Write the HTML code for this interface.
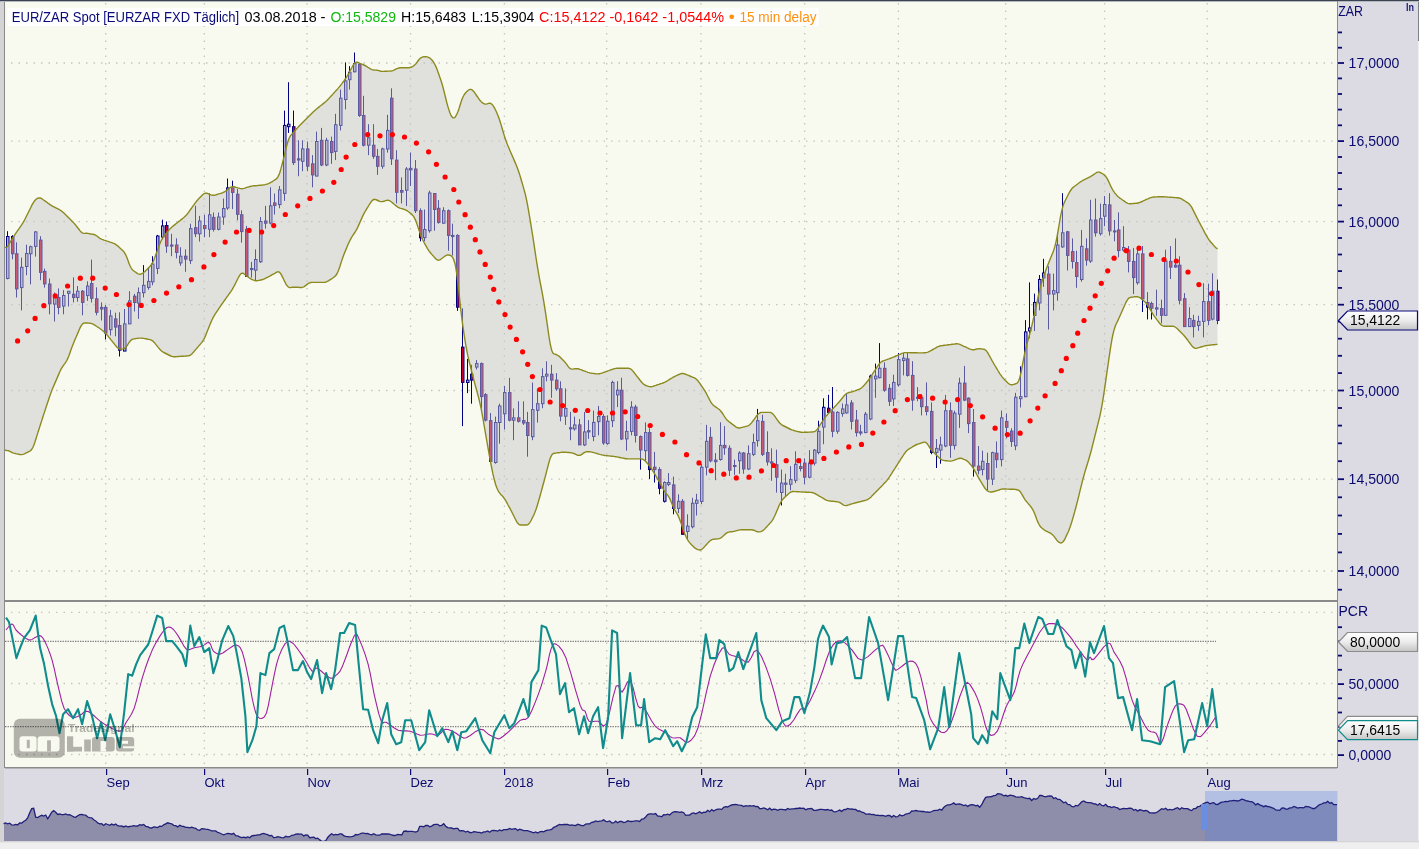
<!DOCTYPE html><html><head><meta charset="utf-8"><style>html,body{margin:0;padding:0;width:1419px;height:849px;overflow:hidden;background:#dcdbe3}body{position:relative;font-family:"Liberation Sans",sans-serif}</style></head><body><svg width="1419" height="849" viewBox="0 0 1419 849" style="position:absolute;left:0;top:0">
<rect x="0" y="0" width="1419" height="849" fill="#dcdbe3"/>
<rect x="0" y="0" width="4" height="849" fill="#d4d4d4"/>
<rect x="4" y="0" width="1" height="768" fill="#8a8a8a"/>
<rect x="5" y="1" width="1332" height="599" fill="#f8faf0"/>
<rect x="5" y="602" width="1332" height="165" fill="#f8faf0"/>
<rect x="0" y="0" width="1419" height="1" fill="#3c4450"/>
<rect x="0" y="1" width="1419" height="1" fill="#b4b8c0"/>
<rect x="5" y="600" width="1332" height="2" fill="#8a8a8a"/>
<rect x="5" y="767" width="1332" height="1.5" fill="#8a8a8a"/>
<rect x="1337" y="1" width="1" height="767" fill="#8a8a8a"/>
<rect x="0" y="842" width="1419" height="7" fill="#efefef"/>
<line x1="105.7" y1="3" x2="105.7" y2="600" stroke="#c4c4c0" stroke-width="1.3" stroke-dasharray="1.5 6"/>
<line x1="204.3" y1="3" x2="204.3" y2="600" stroke="#c4c4c0" stroke-width="1.3" stroke-dasharray="1.5 6"/>
<line x1="307.0" y1="3" x2="307.0" y2="600" stroke="#c4c4c0" stroke-width="1.3" stroke-dasharray="1.5 6"/>
<line x1="410.5" y1="3" x2="410.5" y2="600" stroke="#c4c4c0" stroke-width="1.3" stroke-dasharray="1.5 6"/>
<line x1="504.4" y1="3" x2="504.4" y2="600" stroke="#c4c4c0" stroke-width="1.3" stroke-dasharray="1.5 6"/>
<line x1="606.7" y1="3" x2="606.7" y2="600" stroke="#c4c4c0" stroke-width="1.3" stroke-dasharray="1.5 6"/>
<line x1="700.9" y1="3" x2="700.9" y2="600" stroke="#c4c4c0" stroke-width="1.3" stroke-dasharray="1.5 6"/>
<line x1="804.7" y1="3" x2="804.7" y2="600" stroke="#c4c4c0" stroke-width="1.3" stroke-dasharray="1.5 6"/>
<line x1="898.4" y1="3" x2="898.4" y2="600" stroke="#c4c4c0" stroke-width="1.3" stroke-dasharray="1.5 6"/>
<line x1="1005.7" y1="3" x2="1005.7" y2="600" stroke="#c4c4c0" stroke-width="1.3" stroke-dasharray="1.5 6"/>
<line x1="1104.6" y1="3" x2="1104.6" y2="600" stroke="#c4c4c0" stroke-width="1.3" stroke-dasharray="1.5 6"/>
<line x1="1207.2" y1="3" x2="1207.2" y2="600" stroke="#c4c4c0" stroke-width="1.3" stroke-dasharray="1.5 6"/>
<line x1="11" y1="63.0" x2="1337" y2="63.0" stroke="#c4c4c0" stroke-width="1.3" stroke-dasharray="1.5 6"/>
<line x1="11" y1="141.1" x2="1337" y2="141.1" stroke="#c4c4c0" stroke-width="1.3" stroke-dasharray="1.5 6"/>
<line x1="11" y1="221.6" x2="1337" y2="221.6" stroke="#c4c4c0" stroke-width="1.3" stroke-dasharray="1.5 6"/>
<line x1="11" y1="304.7" x2="1337" y2="304.7" stroke="#c4c4c0" stroke-width="1.3" stroke-dasharray="1.5 6"/>
<line x1="11" y1="390.5" x2="1337" y2="390.5" stroke="#c4c4c0" stroke-width="1.3" stroke-dasharray="1.5 6"/>
<line x1="11" y1="479.2" x2="1337" y2="479.2" stroke="#c4c4c0" stroke-width="1.3" stroke-dasharray="1.5 6"/>
<line x1="11" y1="571.0" x2="1337" y2="571.0" stroke="#c4c4c0" stroke-width="1.3" stroke-dasharray="1.5 6"/>
<rect x="7" y="231.2" width="1" height="48.2" fill="#000080"/>
<rect x="6.50" y="236.5" width="2.5" height="42.0" fill="#b0b0e0" stroke="#000080" stroke-width="1"/>
<rect x="12" y="235.2" width="1" height="24.1" fill="#000080"/>
<rect x="11.50" y="236.5" width="2.5" height="17.3" fill="#c80032" stroke="#000080" stroke-width="1"/>
<rect x="16" y="242.3" width="1" height="55.2" fill="#000080"/>
<rect x="15.50" y="253.8" width="2.5" height="35.1" fill="#c80032" stroke="#000080" stroke-width="1"/>
<rect x="21" y="257.6" width="1" height="52.8" fill="#000080"/>
<rect x="20.50" y="267.3" width="2.5" height="20.3" fill="#b0b0e0" stroke="#000080" stroke-width="1"/>
<rect x="26" y="244.7" width="1" height="30.5" fill="#000080"/>
<rect x="25.50" y="253.5" width="2.5" height="13.0" fill="#b0b0e0" stroke="#000080" stroke-width="1"/>
<rect x="30" y="245.6" width="1" height="38.8" fill="#000080"/>
<rect x="29.50" y="246.7" width="2.5" height="7.1" fill="#b0b0e0" stroke="#000080" stroke-width="1"/>
<rect x="35" y="231.2" width="1" height="25.4" fill="#000080"/>
<rect x="34.50" y="231.9" width="2.5" height="14.5" fill="#b0b0e0" stroke="#000080" stroke-width="1"/>
<rect x="40" y="236.2" width="1" height="44.0" fill="#000080"/>
<rect x="39.50" y="240.1" width="2.5" height="32.3" fill="#c80032" stroke="#000080" stroke-width="1"/>
<rect x="44" y="268.6" width="1" height="19.0" fill="#000080"/>
<rect x="43.50" y="271.4" width="2.5" height="12.5" fill="#c80032" stroke="#000080" stroke-width="1"/>
<rect x="49" y="278.5" width="1" height="35.8" fill="#000080"/>
<rect x="48.50" y="284.0" width="2.5" height="19.8" fill="#c80032" stroke="#000080" stroke-width="1"/>
<rect x="54" y="292.6" width="1" height="28.9" fill="#000080"/>
<rect x="53.50" y="297.5" width="2.5" height="6.6" fill="#b0b0e0" stroke="#000080" stroke-width="1"/>
<rect x="58" y="288.4" width="1" height="25.9" fill="#000080"/>
<rect x="57.50" y="297.5" width="2.5" height="9.9" fill="#c80032" stroke="#000080" stroke-width="1"/>
<rect x="63" y="290.1" width="1" height="24.2" fill="#000080"/>
<rect x="62.50" y="295.5" width="2.5" height="10.6" fill="#b0b0e0" stroke="#000080" stroke-width="1"/>
<rect x="68" y="291.2" width="1" height="15.3" fill="#000080"/>
<rect x="67.50" y="291.2" width="2.5" height="2.1" fill="#b0b0e0" stroke="#000080" stroke-width="1"/>
<rect x="73" y="277.4" width="1" height="25.1" fill="#000080"/>
<rect x="72.50" y="294.2" width="2.5" height="3.3" fill="#c80032" stroke="#000080" stroke-width="1"/>
<rect x="77" y="286.0" width="1" height="15.7" fill="#000080"/>
<rect x="76.50" y="291.2" width="2.5" height="6.3" fill="#b0b0e0" stroke="#000080" stroke-width="1"/>
<rect x="82" y="290.1" width="1" height="25.2" fill="#000080"/>
<rect x="81.50" y="291.2" width="2.5" height="11.2" fill="#c80032" stroke="#000080" stroke-width="1"/>
<rect x="87" y="281.3" width="1" height="19.5" fill="#000080"/>
<rect x="86.50" y="286.0" width="2.5" height="9.6" fill="#b0b0e0" stroke="#000080" stroke-width="1"/>
<rect x="91" y="259.6" width="1" height="42.9" fill="#000080"/>
<rect x="90.50" y="283.5" width="2.5" height="14.8" fill="#c80032" stroke="#000080" stroke-width="1"/>
<rect x="96" y="287.3" width="1" height="28.0" fill="#000080"/>
<rect x="95.50" y="298.8" width="2.5" height="13.5" fill="#c80032" stroke="#000080" stroke-width="1"/>
<rect x="101" y="302.4" width="1" height="18.1" fill="#000080"/>
<rect x="100.50" y="307.4" width="2.5" height="1.6" fill="#c80032" stroke="#000080" stroke-width="1"/>
<rect x="105" y="304.9" width="1" height="34.6" fill="#000080"/>
<rect x="104.50" y="307.4" width="2.5" height="25.6" fill="#c80032" stroke="#000080" stroke-width="1"/>
<rect x="110" y="309.9" width="1" height="25.6" fill="#000080"/>
<rect x="109.50" y="316.0" width="2.5" height="13.7" fill="#b0b0e0" stroke="#000080" stroke-width="1"/>
<rect x="115" y="312.7" width="1" height="23.6" fill="#000080"/>
<rect x="114.50" y="318.9" width="2.5" height="8.2" fill="#c80032" stroke="#000080" stroke-width="1"/>
<rect x="119" y="312.3" width="1" height="44.2" fill="#000080"/>
<rect x="118.50" y="325.5" width="2.5" height="24.7" fill="#c80032" stroke="#000080" stroke-width="1"/>
<rect x="124" y="309.0" width="1" height="42.0" fill="#000080"/>
<rect x="123.50" y="323.9" width="2.5" height="27.2" fill="#b0b0e0" stroke="#000080" stroke-width="1"/>
<rect x="129" y="291.2" width="1" height="32.7" fill="#000080"/>
<rect x="128.50" y="300.8" width="2.5" height="23.1" fill="#b0b0e0" stroke="#000080" stroke-width="1"/>
<rect x="134" y="293.9" width="1" height="17.6" fill="#000080"/>
<rect x="133.50" y="296.2" width="2.5" height="6.3" fill="#c80032" stroke="#000080" stroke-width="1"/>
<rect x="138" y="287.5" width="1" height="31.3" fill="#000080"/>
<rect x="137.50" y="292.6" width="2.5" height="10.5" fill="#b0b0e0" stroke="#000080" stroke-width="1"/>
<rect x="143" y="265.1" width="1" height="32.4" fill="#000080"/>
<rect x="142.50" y="285.3" width="2.5" height="7.4" fill="#b0b0e0" stroke="#000080" stroke-width="1"/>
<rect x="148" y="267.3" width="1" height="22.4" fill="#000080"/>
<rect x="147.50" y="281.4" width="2.5" height="6.0" fill="#b0b0e0" stroke="#000080" stroke-width="1"/>
<rect x="152" y="256.2" width="1" height="29.1" fill="#000080"/>
<rect x="151.50" y="264.0" width="2.5" height="17.9" fill="#b0b0e0" stroke="#000080" stroke-width="1"/>
<rect x="157" y="234.9" width="1" height="39.2" fill="#000080"/>
<rect x="156.50" y="236.0" width="2.5" height="32.4" fill="#b0b0e0" stroke="#000080" stroke-width="1"/>
<rect x="162" y="219.7" width="1" height="19.7" fill="#000080"/>
<rect x="161.50" y="225.9" width="2.5" height="11.2" fill="#b0b0e0" stroke="#000080" stroke-width="1"/>
<rect x="166" y="221.5" width="1" height="31.3" fill="#000080"/>
<rect x="165.50" y="225.5" width="2.5" height="20.6" fill="#c80032" stroke="#000080" stroke-width="1"/>
<rect x="171" y="233.8" width="1" height="22.4" fill="#000080"/>
<rect x="170.50" y="245.0" width="2.5" height="1.1" fill="#c80032" stroke="#000080" stroke-width="1"/>
<rect x="176" y="238.3" width="1" height="20.1" fill="#000080"/>
<rect x="175.50" y="245.0" width="2.5" height="7.4" fill="#c80032" stroke="#000080" stroke-width="1"/>
<rect x="180" y="247.2" width="1" height="18.6" fill="#000080"/>
<rect x="179.50" y="256.2" width="2.5" height="6.7" fill="#b0b0e0" stroke="#000080" stroke-width="1"/>
<rect x="185" y="249.4" width="1" height="22.4" fill="#000080"/>
<rect x="184.50" y="256.2" width="2.5" height="2.9" fill="#c80032" stroke="#000080" stroke-width="1"/>
<rect x="190" y="223.7" width="1" height="40.3" fill="#000080"/>
<rect x="189.50" y="228.6" width="2.5" height="32.0" fill="#b0b0e0" stroke="#000080" stroke-width="1"/>
<rect x="195" y="205.8" width="1" height="31.3" fill="#000080"/>
<rect x="194.50" y="227.7" width="2.5" height="6.0" fill="#c80032" stroke="#000080" stroke-width="1"/>
<rect x="199" y="215.9" width="1" height="25.7" fill="#000080"/>
<rect x="198.50" y="221.0" width="2.5" height="12.8" fill="#b0b0e0" stroke="#000080" stroke-width="1"/>
<rect x="204" y="214.8" width="1" height="22.4" fill="#000080"/>
<rect x="203.50" y="225.5" width="2.5" height="3.1" fill="#c80032" stroke="#000080" stroke-width="1"/>
<rect x="209" y="193.5" width="1" height="43.6" fill="#000080"/>
<rect x="208.50" y="214.8" width="2.5" height="14.5" fill="#b0b0e0" stroke="#000080" stroke-width="1"/>
<rect x="213" y="212.5" width="1" height="19.0" fill="#000080"/>
<rect x="212.50" y="217.4" width="2.5" height="11.9" fill="#c80032" stroke="#000080" stroke-width="1"/>
<rect x="218" y="212.5" width="1" height="17.9" fill="#000080"/>
<rect x="217.50" y="217.0" width="2.5" height="12.3" fill="#b0b0e0" stroke="#000080" stroke-width="1"/>
<rect x="223" y="198.6" width="1" height="26.2" fill="#000080"/>
<rect x="222.50" y="208.5" width="2.5" height="8.5" fill="#b0b0e0" stroke="#000080" stroke-width="1"/>
<rect x="227" y="178.5" width="1" height="31.3" fill="#000080"/>
<rect x="226.50" y="187.9" width="2.5" height="20.1" fill="#b0b0e0" stroke="#000080" stroke-width="1"/>
<rect x="232" y="180.7" width="1" height="28.4" fill="#000080"/>
<rect x="231.50" y="187.9" width="2.5" height="4.5" fill="#c80032" stroke="#000080" stroke-width="1"/>
<rect x="237" y="189.0" width="1" height="31.3" fill="#000080"/>
<rect x="236.50" y="194.2" width="2.5" height="20.1" fill="#c80032" stroke="#000080" stroke-width="1"/>
<rect x="241" y="210.3" width="1" height="32.4" fill="#000080"/>
<rect x="240.50" y="214.8" width="2.5" height="16.8" fill="#c80032" stroke="#000080" stroke-width="1"/>
<rect x="246" y="225.9" width="1" height="51.0" fill="#000080"/>
<rect x="245.50" y="229.3" width="2.5" height="47.0" fill="#c80032" stroke="#000080" stroke-width="1"/>
<rect x="251" y="261.8" width="1" height="15.7" fill="#000080"/>
<rect x="250.50" y="268.5" width="2.5" height="1.1" fill="#c80032" stroke="#000080" stroke-width="1"/>
<rect x="255" y="249.4" width="1" height="30.7" fill="#000080"/>
<rect x="254.50" y="259.5" width="2.5" height="10.7" fill="#b0b0e0" stroke="#000080" stroke-width="1"/>
<rect x="260" y="217.0" width="1" height="45.9" fill="#000080"/>
<rect x="259.50" y="221.5" width="2.5" height="40.3" fill="#b0b0e0" stroke="#000080" stroke-width="1"/>
<rect x="265" y="205.8" width="1" height="22.8" fill="#000080"/>
<rect x="264.50" y="221.0" width="2.5" height="2.2" fill="#c80032" stroke="#000080" stroke-width="1"/>
<rect x="270" y="187.3" width="1" height="37.1" fill="#000080"/>
<rect x="269.50" y="205.8" width="2.5" height="17.3" fill="#b0b0e0" stroke="#000080" stroke-width="1"/>
<rect x="274" y="193.5" width="1" height="21.0" fill="#000080"/>
<rect x="273.50" y="202.9" width="2.5" height="2.5" fill="#c80032" stroke="#000080" stroke-width="1"/>
<rect x="279" y="186.0" width="1" height="22.3" fill="#000080"/>
<rect x="278.50" y="189.8" width="2.5" height="14.8" fill="#b0b0e0" stroke="#000080" stroke-width="1"/>
<rect x="284" y="110.6" width="1" height="90.3" fill="#000080"/>
<rect x="283.50" y="125.4" width="2.5" height="68.0" fill="#b0b0e0" stroke="#000080" stroke-width="1"/>
<rect x="288" y="82.2" width="1" height="50.7" fill="#000080"/>
<rect x="287.50" y="124.2" width="2.5" height="2.5" fill="#b0b0e0" stroke="#000080" stroke-width="1"/>
<rect x="293" y="110.6" width="1" height="54.4" fill="#000080"/>
<rect x="292.50" y="126.7" width="2.5" height="35.9" fill="#c80032" stroke="#000080" stroke-width="1"/>
<rect x="298" y="140.3" width="1" height="35.9" fill="#000080"/>
<rect x="297.50" y="158.8" width="2.5" height="1.2" fill="#c80032" stroke="#000080" stroke-width="1"/>
<rect x="302" y="140.3" width="1" height="30.9" fill="#000080"/>
<rect x="301.50" y="148.9" width="2.5" height="12.4" fill="#b0b0e0" stroke="#000080" stroke-width="1"/>
<rect x="307" y="141.5" width="1" height="29.7" fill="#000080"/>
<rect x="306.50" y="148.9" width="2.5" height="17.3" fill="#c80032" stroke="#000080" stroke-width="1"/>
<rect x="312" y="155.1" width="1" height="32.2" fill="#000080"/>
<rect x="311.50" y="163.8" width="2.5" height="11.1" fill="#c80032" stroke="#000080" stroke-width="1"/>
<rect x="316" y="131.6" width="1" height="44.5" fill="#000080"/>
<rect x="315.50" y="141.5" width="2.5" height="34.6" fill="#b0b0e0" stroke="#000080" stroke-width="1"/>
<rect x="321" y="127.9" width="1" height="38.3" fill="#000080"/>
<rect x="320.50" y="140.3" width="2.5" height="24.7" fill="#c80032" stroke="#000080" stroke-width="1"/>
<rect x="326" y="137.8" width="1" height="28.4" fill="#000080"/>
<rect x="325.50" y="140.3" width="2.5" height="24.7" fill="#b0b0e0" stroke="#000080" stroke-width="1"/>
<rect x="331" y="136.6" width="1" height="27.2" fill="#000080"/>
<rect x="330.50" y="141.5" width="2.5" height="11.1" fill="#c80032" stroke="#000080" stroke-width="1"/>
<rect x="335" y="113.8" width="1" height="46.3" fill="#000080"/>
<rect x="334.50" y="124.7" width="2.5" height="26.7" fill="#b0b0e0" stroke="#000080" stroke-width="1"/>
<rect x="340" y="89.6" width="1" height="40.8" fill="#000080"/>
<rect x="339.50" y="98.2" width="2.5" height="27.2" fill="#b0b0e0" stroke="#000080" stroke-width="1"/>
<rect x="345" y="62.4" width="1" height="47.0" fill="#000080"/>
<rect x="344.50" y="80.9" width="2.5" height="18.6" fill="#b0b0e0" stroke="#000080" stroke-width="1"/>
<rect x="349" y="66.1" width="1" height="23.5" fill="#000080"/>
<rect x="348.50" y="72.3" width="2.5" height="7.4" fill="#b0b0e0" stroke="#000080" stroke-width="1"/>
<rect x="354" y="52.5" width="1" height="19.8" fill="#000080"/>
<rect x="353.50" y="63.6" width="2.5" height="8.2" fill="#b0b0e0" stroke="#000080" stroke-width="1"/>
<rect x="359" y="63.6" width="1" height="53.2" fill="#000080"/>
<rect x="358.50" y="64.3" width="2.5" height="51.2" fill="#c80032" stroke="#000080" stroke-width="1"/>
<rect x="363" y="95.8" width="1" height="50.7" fill="#000080"/>
<rect x="362.50" y="115.5" width="2.5" height="29.7" fill="#c80032" stroke="#000080" stroke-width="1"/>
<rect x="368" y="124.2" width="1" height="30.9" fill="#000080"/>
<rect x="367.50" y="137.8" width="2.5" height="7.4" fill="#b0b0e0" stroke="#000080" stroke-width="1"/>
<rect x="373" y="124.2" width="1" height="34.6" fill="#000080"/>
<rect x="372.50" y="145.2" width="2.5" height="11.1" fill="#c80032" stroke="#000080" stroke-width="1"/>
<rect x="377" y="148.9" width="1" height="26.0" fill="#000080"/>
<rect x="376.50" y="156.4" width="2.5" height="9.9" fill="#c80032" stroke="#000080" stroke-width="1"/>
<rect x="382" y="147.7" width="1" height="21.0" fill="#000080"/>
<rect x="381.50" y="148.9" width="2.5" height="17.3" fill="#b0b0e0" stroke="#000080" stroke-width="1"/>
<rect x="387" y="114.8" width="1" height="37.8" fill="#000080"/>
<rect x="386.50" y="130.4" width="2.5" height="18.6" fill="#b0b0e0" stroke="#000080" stroke-width="1"/>
<rect x="391" y="88.3" width="1" height="76.7" fill="#000080"/>
<rect x="390.50" y="98.2" width="2.5" height="60.6" fill="#c80032" stroke="#000080" stroke-width="1"/>
<rect x="396" y="150.2" width="1" height="53.2" fill="#000080"/>
<rect x="395.50" y="160.1" width="2.5" height="32.2" fill="#c80032" stroke="#000080" stroke-width="1"/>
<rect x="401" y="177.4" width="1" height="26.0" fill="#000080"/>
<rect x="400.50" y="190.5" width="2.5" height="1.7" fill="#c80032" stroke="#000080" stroke-width="1"/>
<rect x="406" y="167.1" width="1" height="38.9" fill="#000080"/>
<rect x="405.50" y="169.0" width="2.5" height="21.2" fill="#b0b0e0" stroke="#000080" stroke-width="1"/>
<rect x="410" y="152.5" width="1" height="33.5" fill="#000080"/>
<rect x="409.50" y="168.3" width="2.5" height="1.6" fill="#c80032" stroke="#000080" stroke-width="1"/>
<rect x="415" y="160.0" width="1" height="53.0" fill="#000080"/>
<rect x="414.50" y="169.0" width="2.5" height="41.7" fill="#c80032" stroke="#000080" stroke-width="1"/>
<rect x="420" y="208.3" width="1" height="33.0" fill="#000080"/>
<rect x="419.50" y="210.7" width="2.5" height="27.1" fill="#c80032" stroke="#000080" stroke-width="1"/>
<rect x="424" y="209.5" width="1" height="31.8" fill="#000080"/>
<rect x="423.50" y="229.5" width="2.5" height="8.2" fill="#b0b0e0" stroke="#000080" stroke-width="1"/>
<rect x="429" y="190.7" width="1" height="41.9" fill="#000080"/>
<rect x="428.50" y="193.0" width="2.5" height="37.7" fill="#b0b0e0" stroke="#000080" stroke-width="1"/>
<rect x="434" y="193.0" width="1" height="37.7" fill="#000080"/>
<rect x="433.50" y="193.5" width="2.5" height="16.0" fill="#c80032" stroke="#000080" stroke-width="1"/>
<rect x="438" y="200.1" width="1" height="23.6" fill="#000080"/>
<rect x="437.50" y="208.3" width="2.5" height="14.1" fill="#c80032" stroke="#000080" stroke-width="1"/>
<rect x="443" y="207.2" width="1" height="16.5" fill="#000080"/>
<rect x="442.50" y="210.7" width="2.5" height="12.5" fill="#b0b0e0" stroke="#000080" stroke-width="1"/>
<rect x="448" y="209.5" width="1" height="41.2" fill="#000080"/>
<rect x="447.50" y="210.7" width="2.5" height="24.7" fill="#c80032" stroke="#000080" stroke-width="1"/>
<rect x="452" y="223.7" width="1" height="31.8" fill="#000080"/>
<rect x="451.50" y="235.4" width="2.5" height="1.2" fill="#c80032" stroke="#000080" stroke-width="1"/>
<rect x="457" y="234.3" width="1" height="76.6" fill="#000080"/>
<rect x="456.50" y="235.4" width="2.5" height="71.8" fill="#c80032" stroke="#000080" stroke-width="1"/>
<rect x="462" y="308.3" width="1" height="117.8" fill="#000080"/>
<rect x="461.50" y="347.1" width="2.5" height="35.3" fill="#c80032" stroke="#000080" stroke-width="1"/>
<rect x="467" y="358.9" width="1" height="34.2" fill="#000080"/>
<rect x="466.50" y="380.1" width="2.5" height="2.4" fill="#b0b0e0" stroke="#000080" stroke-width="1"/>
<rect x="471" y="364.8" width="1" height="38.9" fill="#000080"/>
<rect x="470.50" y="374.2" width="2.5" height="5.9" fill="#c80032" stroke="#000080" stroke-width="1"/>
<rect x="476" y="360.1" width="1" height="9.4" fill="#000080"/>
<rect x="475.50" y="363.6" width="2.5" height="3.5" fill="#b0b0e0" stroke="#000080" stroke-width="1"/>
<rect x="481" y="362.4" width="1" height="45.9" fill="#000080"/>
<rect x="480.50" y="363.6" width="2.5" height="33.0" fill="#c80032" stroke="#000080" stroke-width="1"/>
<rect x="485" y="393.1" width="1" height="28.3" fill="#000080"/>
<rect x="484.50" y="394.7" width="2.5" height="25.4" fill="#c80032" stroke="#000080" stroke-width="1"/>
<rect x="490" y="413.1" width="1" height="49.5" fill="#000080"/>
<rect x="489.50" y="420.6" width="2.5" height="40.8" fill="#c80032" stroke="#000080" stroke-width="1"/>
<rect x="495" y="416.6" width="1" height="47.1" fill="#000080"/>
<rect x="494.50" y="422.5" width="2.5" height="40.0" fill="#b0b0e0" stroke="#000080" stroke-width="1"/>
<rect x="499" y="403.7" width="1" height="40.0" fill="#000080"/>
<rect x="498.50" y="406.0" width="2.5" height="16.5" fill="#b0b0e0" stroke="#000080" stroke-width="1"/>
<rect x="504" y="386.0" width="1" height="43.6" fill="#000080"/>
<rect x="503.50" y="392.6" width="2.5" height="21.2" fill="#b0b0e0" stroke="#000080" stroke-width="1"/>
<rect x="509" y="377.8" width="1" height="43.6" fill="#000080"/>
<rect x="508.50" y="392.6" width="2.5" height="27.6" fill="#c80032" stroke="#000080" stroke-width="1"/>
<rect x="513" y="408.4" width="1" height="31.8" fill="#000080"/>
<rect x="512.50" y="417.8" width="2.5" height="2.4" fill="#b0b0e0" stroke="#000080" stroke-width="1"/>
<rect x="518" y="401.3" width="1" height="21.2" fill="#000080"/>
<rect x="517.50" y="417.8" width="2.5" height="3.5" fill="#c80032" stroke="#000080" stroke-width="1"/>
<rect x="523" y="401.3" width="1" height="23.6" fill="#000080"/>
<rect x="522.50" y="420.6" width="2.5" height="2.4" fill="#c80032" stroke="#000080" stroke-width="1"/>
<rect x="527" y="411.9" width="1" height="44.8" fill="#000080"/>
<rect x="526.50" y="422.5" width="2.5" height="13.0" fill="#c80032" stroke="#000080" stroke-width="1"/>
<rect x="532" y="382.5" width="1" height="57.7" fill="#000080"/>
<rect x="531.50" y="409.6" width="2.5" height="27.1" fill="#b0b0e0" stroke="#000080" stroke-width="1"/>
<rect x="537" y="388.4" width="1" height="34.2" fill="#000080"/>
<rect x="536.50" y="403.7" width="2.5" height="6.6" fill="#b0b0e0" stroke="#000080" stroke-width="1"/>
<rect x="542" y="368.3" width="1" height="40.0" fill="#000080"/>
<rect x="541.50" y="376.6" width="2.5" height="27.1" fill="#b0b0e0" stroke="#000080" stroke-width="1"/>
<rect x="546" y="361.3" width="1" height="20.0" fill="#000080"/>
<rect x="545.50" y="374.2" width="2.5" height="1.9" fill="#b0b0e0" stroke="#000080" stroke-width="1"/>
<rect x="551" y="364.8" width="1" height="33.0" fill="#000080"/>
<rect x="550.50" y="374.2" width="2.5" height="5.9" fill="#c80032" stroke="#000080" stroke-width="1"/>
<rect x="556" y="373.1" width="1" height="17.7" fill="#000080"/>
<rect x="555.50" y="380.1" width="2.5" height="8.7" fill="#c80032" stroke="#000080" stroke-width="1"/>
<rect x="560" y="381.3" width="1" height="40.0" fill="#000080"/>
<rect x="559.50" y="388.8" width="2.5" height="27.3" fill="#c80032" stroke="#000080" stroke-width="1"/>
<rect x="565" y="388.4" width="1" height="36.5" fill="#000080"/>
<rect x="564.50" y="408.4" width="2.5" height="7.8" fill="#b0b0e0" stroke="#000080" stroke-width="1"/>
<rect x="570" y="411.9" width="1" height="28.3" fill="#000080"/>
<rect x="569.50" y="427.7" width="2.5" height="1.2" fill="#c80032" stroke="#000080" stroke-width="1"/>
<rect x="574" y="416.6" width="1" height="14.1" fill="#000080"/>
<rect x="573.50" y="424.9" width="2.5" height="4.0" fill="#b0b0e0" stroke="#000080" stroke-width="1"/>
<rect x="579" y="419.0" width="1" height="25.9" fill="#000080"/>
<rect x="578.50" y="424.9" width="2.5" height="20.0" fill="#c80032" stroke="#000080" stroke-width="1"/>
<rect x="584" y="411.9" width="1" height="34.2" fill="#000080"/>
<rect x="583.50" y="431.9" width="2.5" height="13.0" fill="#b0b0e0" stroke="#000080" stroke-width="1"/>
<rect x="588" y="420.1" width="1" height="18.8" fill="#000080"/>
<rect x="587.50" y="430.7" width="2.5" height="1.2" fill="#c80032" stroke="#000080" stroke-width="1"/>
<rect x="593" y="410.6" width="1" height="30.6" fill="#000080"/>
<rect x="592.50" y="422.4" width="2.5" height="14.1" fill="#b0b0e0" stroke="#000080" stroke-width="1"/>
<rect x="598" y="405.9" width="1" height="29.4" fill="#000080"/>
<rect x="597.50" y="416.5" width="2.5" height="5.2" fill="#b0b0e0" stroke="#000080" stroke-width="1"/>
<rect x="603" y="414.2" width="1" height="30.6" fill="#000080"/>
<rect x="602.50" y="416.5" width="2.5" height="26.4" fill="#c80032" stroke="#000080" stroke-width="1"/>
<rect x="607" y="415.4" width="1" height="29.4" fill="#000080"/>
<rect x="606.50" y="421.2" width="2.5" height="22.4" fill="#b0b0e0" stroke="#000080" stroke-width="1"/>
<rect x="612" y="380.7" width="1" height="46.4" fill="#000080"/>
<rect x="611.50" y="382.4" width="2.5" height="38.4" fill="#b0b0e0" stroke="#000080" stroke-width="1"/>
<rect x="617" y="381.2" width="1" height="25.9" fill="#000080"/>
<rect x="616.50" y="390.2" width="2.5" height="4.7" fill="#b0b0e0" stroke="#000080" stroke-width="1"/>
<rect x="621" y="377.7" width="1" height="62.4" fill="#000080"/>
<rect x="620.50" y="390.2" width="2.5" height="48.8" fill="#c80032" stroke="#000080" stroke-width="1"/>
<rect x="626" y="420.8" width="1" height="29.9" fill="#000080"/>
<rect x="625.50" y="431.4" width="2.5" height="7.5" fill="#b0b0e0" stroke="#000080" stroke-width="1"/>
<rect x="631" y="401.2" width="1" height="34.2" fill="#000080"/>
<rect x="630.50" y="407.1" width="2.5" height="24.3" fill="#b0b0e0" stroke="#000080" stroke-width="1"/>
<rect x="635" y="404.8" width="1" height="37.7" fill="#000080"/>
<rect x="634.50" y="407.1" width="2.5" height="28.3" fill="#c80032" stroke="#000080" stroke-width="1"/>
<rect x="640" y="435.4" width="1" height="34.2" fill="#000080"/>
<rect x="639.50" y="436.6" width="2.5" height="13.4" fill="#c80032" stroke="#000080" stroke-width="1"/>
<rect x="645" y="422.4" width="1" height="38.9" fill="#000080"/>
<rect x="644.50" y="432.6" width="2.5" height="18.1" fill="#b0b0e0" stroke="#000080" stroke-width="1"/>
<rect x="649" y="428.3" width="1" height="50.6" fill="#000080"/>
<rect x="648.50" y="432.6" width="2.5" height="37.0" fill="#c80032" stroke="#000080" stroke-width="1"/>
<rect x="654" y="451.9" width="1" height="30.6" fill="#000080"/>
<rect x="653.50" y="467.2" width="2.5" height="2.4" fill="#c80032" stroke="#000080" stroke-width="1"/>
<rect x="659" y="467.2" width="1" height="27.1" fill="#000080"/>
<rect x="658.50" y="469.5" width="2.5" height="18.8" fill="#c80032" stroke="#000080" stroke-width="1"/>
<rect x="664" y="481.3" width="1" height="21.2" fill="#000080"/>
<rect x="663.50" y="482.5" width="2.5" height="18.8" fill="#b0b0e0" stroke="#000080" stroke-width="1"/>
<rect x="668" y="473.1" width="1" height="13.0" fill="#000080"/>
<rect x="667.50" y="482.5" width="2.5" height="1.9" fill="#b0b0e0" stroke="#000080" stroke-width="1"/>
<rect x="673" y="476.6" width="1" height="37.7" fill="#000080"/>
<rect x="672.50" y="484.9" width="2.5" height="23.6" fill="#c80032" stroke="#000080" stroke-width="1"/>
<rect x="678" y="494.3" width="1" height="18.8" fill="#000080"/>
<rect x="677.50" y="501.3" width="2.5" height="7.1" fill="#b0b0e0" stroke="#000080" stroke-width="1"/>
<rect x="682" y="499.0" width="1" height="35.8" fill="#000080"/>
<rect x="681.50" y="501.3" width="2.5" height="33.0" fill="#c80032" stroke="#000080" stroke-width="1"/>
<rect x="687" y="514.3" width="1" height="24.7" fill="#000080"/>
<rect x="686.50" y="526.1" width="2.5" height="5.4" fill="#b0b0e0" stroke="#000080" stroke-width="1"/>
<rect x="692" y="497.8" width="1" height="30.6" fill="#000080"/>
<rect x="691.50" y="503.2" width="2.5" height="23.6" fill="#b0b0e0" stroke="#000080" stroke-width="1"/>
<rect x="696" y="493.8" width="1" height="21.7" fill="#000080"/>
<rect x="695.50" y="500.2" width="2.5" height="3.1" fill="#b0b0e0" stroke="#000080" stroke-width="1"/>
<rect x="701" y="463.7" width="1" height="40.5" fill="#000080"/>
<rect x="700.50" y="467.2" width="2.5" height="34.2" fill="#b0b0e0" stroke="#000080" stroke-width="1"/>
<rect x="706" y="424.8" width="1" height="50.6" fill="#000080"/>
<rect x="705.50" y="441.3" width="2.5" height="25.9" fill="#b0b0e0" stroke="#000080" stroke-width="1"/>
<rect x="710" y="427.1" width="1" height="35.3" fill="#000080"/>
<rect x="709.50" y="437.3" width="2.5" height="23.6" fill="#c80032" stroke="#000080" stroke-width="1"/>
<rect x="715" y="453.1" width="1" height="27.1" fill="#000080"/>
<rect x="714.50" y="460.1" width="2.5" height="1.6" fill="#c80032" stroke="#000080" stroke-width="1"/>
<rect x="720" y="422.3" width="1" height="38.4" fill="#000080"/>
<rect x="719.50" y="445.4" width="2.5" height="14.1" fill="#b0b0e0" stroke="#000080" stroke-width="1"/>
<rect x="724" y="426.1" width="1" height="28.7" fill="#000080"/>
<rect x="723.50" y="445.4" width="2.5" height="2.4" fill="#c80032" stroke="#000080" stroke-width="1"/>
<rect x="729" y="445.4" width="1" height="30.6" fill="#000080"/>
<rect x="728.50" y="448.3" width="2.5" height="21.9" fill="#c80032" stroke="#000080" stroke-width="1"/>
<rect x="734" y="459.6" width="1" height="15.3" fill="#000080"/>
<rect x="733.50" y="465.5" width="2.5" height="1.0" fill="#b0b0e0" stroke="#000080" stroke-width="1"/>
<rect x="739" y="451.3" width="1" height="22.4" fill="#000080"/>
<rect x="738.50" y="453.0" width="2.5" height="7.8" fill="#b0b0e0" stroke="#000080" stroke-width="1"/>
<rect x="743" y="452.0" width="1" height="21.7" fill="#000080"/>
<rect x="742.50" y="453.0" width="2.5" height="16.0" fill="#c80032" stroke="#000080" stroke-width="1"/>
<rect x="748" y="445.4" width="1" height="24.7" fill="#000080"/>
<rect x="747.50" y="453.7" width="2.5" height="15.3" fill="#b0b0e0" stroke="#000080" stroke-width="1"/>
<rect x="753" y="433.7" width="1" height="22.4" fill="#000080"/>
<rect x="752.50" y="442.6" width="2.5" height="11.8" fill="#b0b0e0" stroke="#000080" stroke-width="1"/>
<rect x="757" y="408.9" width="1" height="37.7" fill="#000080"/>
<rect x="756.50" y="420.7" width="2.5" height="20.0" fill="#b0b0e0" stroke="#000080" stroke-width="1"/>
<rect x="762" y="414.8" width="1" height="41.2" fill="#000080"/>
<rect x="761.50" y="421.4" width="2.5" height="33.0" fill="#c80032" stroke="#000080" stroke-width="1"/>
<rect x="767" y="431.3" width="1" height="34.2" fill="#000080"/>
<rect x="766.50" y="452.5" width="2.5" height="9.4" fill="#c80032" stroke="#000080" stroke-width="1"/>
<rect x="771" y="448.3" width="1" height="32.5" fill="#000080"/>
<rect x="770.50" y="461.9" width="2.5" height="1.2" fill="#c80032" stroke="#000080" stroke-width="1"/>
<rect x="776" y="449.7" width="1" height="42.9" fill="#000080"/>
<rect x="775.50" y="464.7" width="2.5" height="12.5" fill="#c80032" stroke="#000080" stroke-width="1"/>
<rect x="781" y="469.5" width="1" height="36.0" fill="#000080"/>
<rect x="780.50" y="483.1" width="2.5" height="9.4" fill="#b0b0e0" stroke="#000080" stroke-width="1"/>
<rect x="785" y="473.7" width="1" height="22.4" fill="#000080"/>
<rect x="784.50" y="483.1" width="2.5" height="1.2" fill="#b0b0e0" stroke="#000080" stroke-width="1"/>
<rect x="790" y="466.2" width="1" height="24.0" fill="#000080"/>
<rect x="789.50" y="479.6" width="2.5" height="4.7" fill="#b0b0e0" stroke="#000080" stroke-width="1"/>
<rect x="795" y="451.3" width="1" height="31.8" fill="#000080"/>
<rect x="794.50" y="464.3" width="2.5" height="16.0" fill="#b0b0e0" stroke="#000080" stroke-width="1"/>
<rect x="800" y="458.4" width="1" height="13.0" fill="#000080"/>
<rect x="799.50" y="466.6" width="2.5" height="1.9" fill="#c80032" stroke="#000080" stroke-width="1"/>
<rect x="804" y="458.4" width="1" height="25.9" fill="#000080"/>
<rect x="803.50" y="463.1" width="2.5" height="14.1" fill="#c80032" stroke="#000080" stroke-width="1"/>
<rect x="809" y="450.1" width="1" height="28.3" fill="#000080"/>
<rect x="808.50" y="463.1" width="2.5" height="14.1" fill="#b0b0e0" stroke="#000080" stroke-width="1"/>
<rect x="814" y="449.0" width="1" height="16.5" fill="#000080"/>
<rect x="813.50" y="450.1" width="2.5" height="13.0" fill="#b0b0e0" stroke="#000080" stroke-width="1"/>
<rect x="818" y="420.7" width="1" height="33.7" fill="#000080"/>
<rect x="817.50" y="431.3" width="2.5" height="21.2" fill="#b0b0e0" stroke="#000080" stroke-width="1"/>
<rect x="823" y="398.3" width="1" height="45.9" fill="#000080"/>
<rect x="822.50" y="407.3" width="2.5" height="19.8" fill="#b0b0e0" stroke="#000080" stroke-width="1"/>
<rect x="828" y="394.8" width="1" height="17.7" fill="#000080"/>
<rect x="827.50" y="408.2" width="2.5" height="4.2" fill="#c80032" stroke="#000080" stroke-width="1"/>
<rect x="832" y="387.0" width="1" height="50.2" fill="#000080"/>
<rect x="831.50" y="412.0" width="2.5" height="19.3" fill="#c80032" stroke="#000080" stroke-width="1"/>
<rect x="837" y="411.3" width="1" height="22.4" fill="#000080"/>
<rect x="836.50" y="412.4" width="2.5" height="18.8" fill="#b0b0e0" stroke="#000080" stroke-width="1"/>
<rect x="842" y="403.5" width="1" height="13.2" fill="#000080"/>
<rect x="841.50" y="408.9" width="2.5" height="4.7" fill="#b0b0e0" stroke="#000080" stroke-width="1"/>
<rect x="846" y="393.1" width="1" height="20.5" fill="#000080"/>
<rect x="845.50" y="404.9" width="2.5" height="8.0" fill="#b0b0e0" stroke="#000080" stroke-width="1"/>
<rect x="851" y="400.1" width="1" height="29.4" fill="#000080"/>
<rect x="850.50" y="402.9" width="2.5" height="18.4" fill="#c80032" stroke="#000080" stroke-width="1"/>
<rect x="856" y="410.0" width="1" height="26.6" fill="#000080"/>
<rect x="855.50" y="420.1" width="2.5" height="12.5" fill="#c80032" stroke="#000080" stroke-width="1"/>
<rect x="860" y="424.8" width="1" height="10.6" fill="#000080"/>
<rect x="859.50" y="431.9" width="2.5" height="1.2" fill="#c80032" stroke="#000080" stroke-width="1"/>
<rect x="865" y="411.9" width="1" height="21.2" fill="#000080"/>
<rect x="864.50" y="414.2" width="2.5" height="18.4" fill="#b0b0e0" stroke="#000080" stroke-width="1"/>
<rect x="870" y="374.7" width="1" height="45.5" fill="#000080"/>
<rect x="869.50" y="376.1" width="2.5" height="42.9" fill="#b0b0e0" stroke="#000080" stroke-width="1"/>
<rect x="875" y="363.6" width="1" height="34.2" fill="#000080"/>
<rect x="874.50" y="376.1" width="2.5" height="2.8" fill="#b0b0e0" stroke="#000080" stroke-width="1"/>
<rect x="879" y="343.1" width="1" height="35.3" fill="#000080"/>
<rect x="878.50" y="368.3" width="2.5" height="9.4" fill="#b0b0e0" stroke="#000080" stroke-width="1"/>
<rect x="884" y="362.4" width="1" height="29.4" fill="#000080"/>
<rect x="883.50" y="368.3" width="2.5" height="21.9" fill="#c80032" stroke="#000080" stroke-width="1"/>
<rect x="889" y="384.1" width="1" height="21.9" fill="#000080"/>
<rect x="888.50" y="388.3" width="2.5" height="13.0" fill="#c80032" stroke="#000080" stroke-width="1"/>
<rect x="893" y="374.7" width="1" height="31.3" fill="#000080"/>
<rect x="892.50" y="382.4" width="2.5" height="16.5" fill="#b0b0e0" stroke="#000080" stroke-width="1"/>
<rect x="898" y="353.0" width="1" height="33.5" fill="#000080"/>
<rect x="897.50" y="359.6" width="2.5" height="25.2" fill="#b0b0e0" stroke="#000080" stroke-width="1"/>
<rect x="903" y="353.0" width="1" height="22.4" fill="#000080"/>
<rect x="902.50" y="358.2" width="2.5" height="2.4" fill="#b0b0e0" stroke="#000080" stroke-width="1"/>
<rect x="907" y="353.0" width="1" height="23.6" fill="#000080"/>
<rect x="906.50" y="358.9" width="2.5" height="16.5" fill="#c80032" stroke="#000080" stroke-width="1"/>
<rect x="912" y="361.2" width="1" height="49.5" fill="#000080"/>
<rect x="911.50" y="375.4" width="2.5" height="24.7" fill="#c80032" stroke="#000080" stroke-width="1"/>
<rect x="917" y="387.1" width="1" height="14.1" fill="#000080"/>
<rect x="916.50" y="397.3" width="2.5" height="1.0" fill="#c80032" stroke="#000080" stroke-width="1"/>
<rect x="921" y="394.2" width="1" height="21.2" fill="#000080"/>
<rect x="920.50" y="397.7" width="2.5" height="9.0" fill="#c80032" stroke="#000080" stroke-width="1"/>
<rect x="926" y="382.4" width="1" height="33.0" fill="#000080"/>
<rect x="925.50" y="406.7" width="2.5" height="4.7" fill="#c80032" stroke="#000080" stroke-width="1"/>
<rect x="931" y="402.4" width="1" height="51.8" fill="#000080"/>
<rect x="930.50" y="411.4" width="2.5" height="41.0" fill="#c80032" stroke="#000080" stroke-width="1"/>
<rect x="936" y="439.0" width="1" height="29.0" fill="#000080"/>
<rect x="935.50" y="448.4" width="2.5" height="4.0" fill="#b0b0e0" stroke="#000080" stroke-width="1"/>
<rect x="940" y="436.6" width="1" height="27.1" fill="#000080"/>
<rect x="939.50" y="444.9" width="2.5" height="5.2" fill="#b0b0e0" stroke="#000080" stroke-width="1"/>
<rect x="945" y="394.9" width="1" height="52.3" fill="#000080"/>
<rect x="944.50" y="410.7" width="2.5" height="35.3" fill="#b0b0e0" stroke="#000080" stroke-width="1"/>
<rect x="950" y="402.4" width="1" height="55.4" fill="#000080"/>
<rect x="949.50" y="410.7" width="2.5" height="34.6" fill="#c80032" stroke="#000080" stroke-width="1"/>
<rect x="954" y="410.7" width="1" height="38.9" fill="#000080"/>
<rect x="953.50" y="413.1" width="2.5" height="32.3" fill="#b0b0e0" stroke="#000080" stroke-width="1"/>
<rect x="959" y="377.7" width="1" height="50.2" fill="#000080"/>
<rect x="958.50" y="383.1" width="2.5" height="31.1" fill="#b0b0e0" stroke="#000080" stroke-width="1"/>
<rect x="964" y="365.9" width="1" height="35.3" fill="#000080"/>
<rect x="963.50" y="383.1" width="2.5" height="17.0" fill="#c80032" stroke="#000080" stroke-width="1"/>
<rect x="968" y="397.3" width="1" height="35.8" fill="#000080"/>
<rect x="967.50" y="398.2" width="2.5" height="25.4" fill="#c80032" stroke="#000080" stroke-width="1"/>
<rect x="973" y="409.0" width="1" height="67.6" fill="#000080"/>
<rect x="972.50" y="422.5" width="2.5" height="43.6" fill="#c80032" stroke="#000080" stroke-width="1"/>
<rect x="978" y="446.0" width="1" height="28.3" fill="#000080"/>
<rect x="977.50" y="466.1" width="2.5" height="4.2" fill="#c80032" stroke="#000080" stroke-width="1"/>
<rect x="982" y="450.7" width="1" height="24.7" fill="#000080"/>
<rect x="981.50" y="461.3" width="2.5" height="8.2" fill="#b0b0e0" stroke="#000080" stroke-width="1"/>
<rect x="987" y="452.6" width="1" height="37.4" fill="#000080"/>
<rect x="986.50" y="463.5" width="2.5" height="15.6" fill="#c80032" stroke="#000080" stroke-width="1"/>
<rect x="992" y="451.7" width="1" height="33.3" fill="#000080"/>
<rect x="991.50" y="452.6" width="2.5" height="26.5" fill="#b0b0e0" stroke="#000080" stroke-width="1"/>
<rect x="996" y="441.4" width="1" height="26.5" fill="#000080"/>
<rect x="995.50" y="453.2" width="2.5" height="6.5" fill="#c80032" stroke="#000080" stroke-width="1"/>
<rect x="1001" y="410.5" width="1" height="55.9" fill="#000080"/>
<rect x="1000.50" y="417.8" width="2.5" height="41.8" fill="#b0b0e0" stroke="#000080" stroke-width="1"/>
<rect x="1006" y="413.4" width="1" height="25.0" fill="#000080"/>
<rect x="1005.50" y="421.4" width="2.5" height="5.9" fill="#c80032" stroke="#000080" stroke-width="1"/>
<rect x="1011" y="428.2" width="1" height="18.6" fill="#000080"/>
<rect x="1010.50" y="431.1" width="2.5" height="10.3" fill="#c80032" stroke="#000080" stroke-width="1"/>
<rect x="1015" y="392.8" width="1" height="57.4" fill="#000080"/>
<rect x="1014.50" y="397.2" width="2.5" height="48.6" fill="#b0b0e0" stroke="#000080" stroke-width="1"/>
<rect x="1020" y="366.3" width="1" height="41.2" fill="#000080"/>
<rect x="1019.50" y="396.6" width="2.5" height="2.1" fill="#b0b0e0" stroke="#000080" stroke-width="1"/>
<rect x="1025" y="320.1" width="1" height="77.1" fill="#000080"/>
<rect x="1024.50" y="331.9" width="2.5" height="64.8" fill="#b0b0e0" stroke="#000080" stroke-width="1"/>
<rect x="1029" y="282.4" width="1" height="55.9" fill="#000080"/>
<rect x="1028.50" y="328.0" width="2.5" height="2.9" fill="#b0b0e0" stroke="#000080" stroke-width="1"/>
<rect x="1034" y="293.6" width="1" height="37.4" fill="#000080"/>
<rect x="1033.50" y="302.4" width="2.5" height="13.0" fill="#b0b0e0" stroke="#000080" stroke-width="1"/>
<rect x="1039" y="275.0" width="1" height="35.3" fill="#000080"/>
<rect x="1038.50" y="279.4" width="2.5" height="23.6" fill="#b0b0e0" stroke="#000080" stroke-width="1"/>
<rect x="1043" y="258.8" width="1" height="28.0" fill="#000080"/>
<rect x="1042.50" y="273.0" width="2.5" height="5.0" fill="#b0b0e0" stroke="#000080" stroke-width="1"/>
<rect x="1048" y="266.2" width="1" height="63.3" fill="#000080"/>
<rect x="1047.50" y="274.1" width="2.5" height="20.0" fill="#c80032" stroke="#000080" stroke-width="1"/>
<rect x="1053" y="273.6" width="1" height="36.8" fill="#000080"/>
<rect x="1052.50" y="290.6" width="2.5" height="3.5" fill="#b0b0e0" stroke="#000080" stroke-width="1"/>
<rect x="1057" y="232.8" width="1" height="67.9" fill="#000080"/>
<rect x="1056.50" y="245.0" width="2.5" height="47.7" fill="#b0b0e0" stroke="#000080" stroke-width="1"/>
<rect x="1062" y="193.2" width="1" height="54.7" fill="#000080"/>
<rect x="1061.50" y="232.8" width="2.5" height="14.1" fill="#b0b0e0" stroke="#000080" stroke-width="1"/>
<rect x="1067" y="230.9" width="1" height="39.6" fill="#000080"/>
<rect x="1066.50" y="231.8" width="2.5" height="23.6" fill="#c80032" stroke="#000080" stroke-width="1"/>
<rect x="1072" y="238.4" width="1" height="30.2" fill="#000080"/>
<rect x="1071.50" y="251.6" width="2.5" height="9.8" fill="#c80032" stroke="#000080" stroke-width="1"/>
<rect x="1076" y="250.7" width="1" height="37.1" fill="#000080"/>
<rect x="1075.50" y="262.6" width="2.5" height="13.9" fill="#c80032" stroke="#000080" stroke-width="1"/>
<rect x="1081" y="229.9" width="1" height="51.8" fill="#000080"/>
<rect x="1080.50" y="246.3" width="2.5" height="33.2" fill="#b0b0e0" stroke="#000080" stroke-width="1"/>
<rect x="1086" y="238.4" width="1" height="27.3" fill="#000080"/>
<rect x="1085.50" y="248.8" width="2.5" height="11.3" fill="#c80032" stroke="#000080" stroke-width="1"/>
<rect x="1090" y="199.8" width="1" height="63.1" fill="#000080"/>
<rect x="1089.50" y="220.0" width="2.5" height="41.1" fill="#b0b0e0" stroke="#000080" stroke-width="1"/>
<rect x="1095" y="198.5" width="1" height="38.1" fill="#000080"/>
<rect x="1094.50" y="220.0" width="2.5" height="12.8" fill="#c80032" stroke="#000080" stroke-width="1"/>
<rect x="1100" y="203.6" width="1" height="32.0" fill="#000080"/>
<rect x="1099.50" y="218.6" width="2.5" height="15.1" fill="#b0b0e0" stroke="#000080" stroke-width="1"/>
<rect x="1104" y="196.0" width="1" height="30.2" fill="#000080"/>
<rect x="1103.50" y="204.5" width="2.5" height="11.7" fill="#b0b0e0" stroke="#000080" stroke-width="1"/>
<rect x="1109" y="193.2" width="1" height="42.4" fill="#000080"/>
<rect x="1108.50" y="204.9" width="2.5" height="26.0" fill="#c80032" stroke="#000080" stroke-width="1"/>
<rect x="1114" y="220.0" width="1" height="21.3" fill="#000080"/>
<rect x="1113.50" y="230.9" width="2.5" height="1.0" fill="#c80032" stroke="#000080" stroke-width="1"/>
<rect x="1118" y="212.4" width="1" height="44.9" fill="#000080"/>
<rect x="1117.50" y="229.9" width="2.5" height="20.7" fill="#c80032" stroke="#000080" stroke-width="1"/>
<rect x="1123" y="226.2" width="1" height="25.4" fill="#000080"/>
<rect x="1122.50" y="247.5" width="2.5" height="2.6" fill="#b0b0e0" stroke="#000080" stroke-width="1"/>
<rect x="1128" y="246.0" width="1" height="26.4" fill="#000080"/>
<rect x="1127.50" y="250.1" width="2.5" height="11.3" fill="#c80032" stroke="#000080" stroke-width="1"/>
<rect x="1133" y="247.9" width="1" height="46.2" fill="#000080"/>
<rect x="1132.50" y="261.4" width="2.5" height="16.2" fill="#c80032" stroke="#000080" stroke-width="1"/>
<rect x="1137" y="247.9" width="1" height="36.8" fill="#000080"/>
<rect x="1136.50" y="253.9" width="2.5" height="28.8" fill="#b0b0e0" stroke="#000080" stroke-width="1"/>
<rect x="1142" y="246.0" width="1" height="66.0" fill="#000080"/>
<rect x="1141.50" y="253.9" width="2.5" height="44.9" fill="#c80032" stroke="#000080" stroke-width="1"/>
<rect x="1147" y="292.1" width="1" height="27.3" fill="#000080"/>
<rect x="1146.50" y="302.5" width="2.5" height="4.7" fill="#c80032" stroke="#000080" stroke-width="1"/>
<rect x="1151" y="301.6" width="1" height="17.9" fill="#000080"/>
<rect x="1150.50" y="303.5" width="2.5" height="4.7" fill="#c80032" stroke="#000080" stroke-width="1"/>
<rect x="1156" y="289.7" width="1" height="26.0" fill="#000080"/>
<rect x="1155.50" y="307.8" width="2.5" height="1.3" fill="#c80032" stroke="#000080" stroke-width="1"/>
<rect x="1161" y="299.7" width="1" height="23.6" fill="#000080"/>
<rect x="1160.50" y="308.5" width="2.5" height="6.8" fill="#c80032" stroke="#000080" stroke-width="1"/>
<rect x="1165" y="249.7" width="1" height="66.0" fill="#000080"/>
<rect x="1164.50" y="261.0" width="2.5" height="54.3" fill="#b0b0e0" stroke="#000080" stroke-width="1"/>
<rect x="1170" y="246.0" width="1" height="33.0" fill="#000080"/>
<rect x="1169.50" y="261.4" width="2.5" height="5.7" fill="#c80032" stroke="#000080" stroke-width="1"/>
<rect x="1175" y="238.4" width="1" height="29.2" fill="#000080"/>
<rect x="1174.50" y="265.2" width="2.5" height="1.9" fill="#c80032" stroke="#000080" stroke-width="1"/>
<rect x="1179" y="256.3" width="1" height="48.1" fill="#000080"/>
<rect x="1178.50" y="265.2" width="2.5" height="35.1" fill="#c80032" stroke="#000080" stroke-width="1"/>
<rect x="1184" y="293.1" width="1" height="33.9" fill="#000080"/>
<rect x="1183.50" y="298.7" width="2.5" height="27.9" fill="#c80032" stroke="#000080" stroke-width="1"/>
<rect x="1189" y="307.2" width="1" height="19.8" fill="#000080"/>
<rect x="1188.50" y="318.5" width="2.5" height="8.1" fill="#b0b0e0" stroke="#000080" stroke-width="1"/>
<rect x="1193" y="314.8" width="1" height="22.6" fill="#000080"/>
<rect x="1192.50" y="320.4" width="2.5" height="6.2" fill="#c80032" stroke="#000080" stroke-width="1"/>
<rect x="1198" y="315.7" width="1" height="15.1" fill="#000080"/>
<rect x="1197.50" y="321.4" width="2.5" height="4.1" fill="#b0b0e0" stroke="#000080" stroke-width="1"/>
<rect x="1203" y="283.3" width="1" height="54.1" fill="#000080"/>
<rect x="1202.50" y="301.6" width="2.5" height="19.8" fill="#b0b0e0" stroke="#000080" stroke-width="1"/>
<rect x="1208" y="283.7" width="1" height="41.5" fill="#000080"/>
<rect x="1207.50" y="301.6" width="2.5" height="18.8" fill="#c80032" stroke="#000080" stroke-width="1"/>
<rect x="1212" y="273.3" width="1" height="47.1" fill="#000080"/>
<rect x="1211.50" y="291.2" width="2.5" height="27.9" fill="#b0b0e0" stroke="#000080" stroke-width="1"/>
<rect x="1217" y="279.5" width="1" height="44.7" fill="#000080"/>
<rect x="1216.50" y="291.2" width="2.5" height="29.2" fill="#c80032" stroke="#000080" stroke-width="1"/>
<polygon points="5.0,247.7 6.9,246.9 7.9,246.1 8.9,244.4 9.9,242.7 10.9,241.0 11.9,239.3 12.9,237.7 13.9,236.1 14.9,234.6 15.9,233.1 16.9,231.7 17.9,230.2 18.9,228.8 19.9,227.3 20.9,225.9 21.9,224.4 22.9,222.8 23.9,221.1 24.9,219.3 25.9,217.3 26.9,215.3 27.9,213.3 28.9,211.2 29.9,209.2 30.9,207.2 31.9,205.1 32.9,203.3 33.9,201.8 34.9,200.5 35.9,199.4 36.9,198.7 37.9,198.2 38.9,197.9 39.9,198.0 40.9,198.2 41.9,198.8 42.9,199.5 43.9,200.2 44.9,200.9 45.9,201.6 46.9,202.3 47.9,203.1 48.9,203.8 49.9,204.6 50.9,205.2 51.9,205.8 52.9,206.4 53.9,206.9 54.9,207.4 55.9,207.9 56.9,208.4 57.9,208.9 58.9,209.4 59.9,210.0 60.9,210.6 61.9,211.3 62.9,212.2 63.9,213.1 64.9,214.1 65.9,215.0 66.9,216.0 67.9,217.0 68.9,218.0 69.9,219.0 70.9,220.0 71.9,221.0 72.9,222.0 73.9,223.1 74.9,224.2 75.9,225.4 76.9,226.7 77.9,228.0 78.9,229.3 79.9,230.6 80.9,231.8 81.9,232.6 82.9,233.1 83.9,233.4 84.9,233.4 85.9,233.3 86.9,233.3 87.9,233.4 88.9,233.6 89.9,233.8 90.9,234.0 91.9,234.1 92.9,234.3 93.9,234.5 94.9,234.9 95.9,235.4 96.9,236.0 97.9,236.8 98.9,237.6 99.9,238.3 100.9,238.9 101.9,239.4 102.9,239.7 103.9,240.1 104.9,240.4 105.9,240.7 106.9,241.1 107.9,241.4 108.9,241.7 109.9,242.1 110.9,242.4 111.9,242.7 112.9,243.1 113.9,243.4 114.9,243.9 115.9,244.6 116.9,245.3 117.9,246.1 118.9,247.1 119.9,248.0 120.9,248.9 121.9,249.8 122.9,250.7 123.9,251.8 124.9,253.4 125.9,255.2 126.9,257.5 127.9,260.2 128.9,263.0 129.9,265.5 130.9,267.5 131.9,269.1 132.9,270.3 133.9,271.0 134.9,271.7 135.9,272.4 136.9,273.1 137.9,273.8 138.9,274.1 139.9,274.2 140.9,274.1 141.9,273.7 142.9,273.1 143.9,272.3 144.9,271.5 145.9,270.5 146.9,269.5 147.9,268.5 148.9,267.5 149.9,266.5 150.9,265.3 151.9,263.8 152.9,262.0 153.9,259.7 154.9,257.2 155.9,254.4 156.9,251.7 157.9,248.9 158.9,246.2 159.9,243.6 160.9,241.3 161.9,239.3 162.9,237.6 163.9,236.2 164.9,235.0 165.9,233.7 166.9,232.5 167.9,231.2 168.9,230.0 169.9,228.9 170.9,227.9 171.9,227.0 172.9,226.2 173.9,225.4 174.9,224.6 175.9,223.8 176.9,223.0 177.9,222.2 178.9,221.4 179.9,220.7 180.9,219.9 181.9,219.1 182.9,218.3 183.9,217.5 184.9,216.6 185.9,215.6 186.9,214.5 187.9,213.2 188.9,211.8 189.9,210.4 190.9,209.0 191.9,207.6 192.9,206.2 193.9,204.8 194.9,203.4 195.9,202.1 196.9,200.8 197.9,199.6 198.9,198.5 199.9,197.5 200.9,196.5 201.9,195.5 202.9,194.5 203.9,193.7 204.9,193.3 205.9,193.1 206.9,193.2 207.9,193.6 208.9,194.0 209.9,194.5 210.9,194.9 211.9,195.2 212.9,195.3 213.9,195.3 214.9,195.1 215.9,194.8 216.9,194.5 217.9,194.2 218.9,193.9 219.9,193.6 220.9,193.3 221.9,193.0 222.9,192.6 223.9,192.1 224.9,191.6 225.9,190.9 226.9,190.1 227.9,189.3 228.9,188.5 229.9,187.7 230.9,187.1 231.9,186.8 232.9,186.6 233.9,186.7 234.9,187.0 235.9,187.3 236.9,187.6 237.9,187.9 238.9,188.1 239.9,188.4 240.9,188.6 241.9,188.7 242.9,188.6 243.9,188.4 244.9,188.1 245.9,187.7 246.9,187.4 247.9,187.1 248.9,186.8 249.9,186.5 250.9,186.3 251.9,186.1 252.9,185.9 253.9,185.8 254.9,185.7 255.9,185.7 256.9,185.6 257.9,185.5 258.9,185.4 259.9,185.3 260.9,185.2 261.9,185.1 262.9,185.0 263.9,184.9 264.9,184.7 265.9,184.4 266.9,184.1 267.9,183.8 268.9,183.4 269.9,182.9 270.9,182.4 271.9,181.8 272.9,181.2 273.9,180.5 274.9,179.8 275.9,179.2 276.9,178.4 277.9,176.9 278.9,174.9 279.9,172.2 280.9,168.9 281.9,165.1 282.9,161.3 283.9,157.3 284.9,153.2 285.9,149.0 286.9,145.0 287.9,141.6 288.9,138.8 289.9,136.7 290.9,135.2 291.9,134.1 292.9,133.0 293.9,131.9 294.9,130.7 295.9,129.6 296.9,128.5 297.9,127.4 298.9,126.3 299.9,125.3 300.9,124.2 301.9,123.2 302.9,122.2 303.9,121.2 304.9,120.2 305.9,119.2 306.9,118.2 307.9,117.2 308.9,116.2 309.9,115.2 310.9,114.2 311.9,113.2 312.9,112.2 313.9,111.3 314.9,110.4 315.9,109.5 316.9,108.7 317.9,107.9 318.9,107.1 319.9,106.3 320.9,105.5 321.9,104.7 322.9,103.9 323.9,103.1 324.9,102.3 325.9,101.4 326.9,100.5 327.9,99.5 328.9,98.5 329.9,97.4 330.9,96.3 331.9,95.2 332.9,94.1 333.9,93.0 334.9,91.9 335.9,90.8 336.9,89.7 337.9,88.6 338.9,87.4 339.9,86.2 340.9,84.9 341.9,83.6 342.9,82.2 343.9,80.9 344.9,79.5 345.9,78.1 346.9,76.5 347.9,74.8 348.9,73.1 349.9,71.2 350.9,69.3 351.9,67.5 352.9,65.6 353.9,64.0 354.9,62.9 355.9,62.3 356.9,62.1 357.9,62.5 358.9,62.9 359.9,63.4 360.9,63.8 361.9,64.2 362.9,64.5 363.9,65.0 364.9,65.5 365.9,66.0 366.9,66.6 367.9,67.3 368.9,67.9 369.9,68.5 370.9,69.1 371.9,69.6 372.9,69.9 373.9,70.0 374.9,70.1 375.9,70.1 376.9,70.2 377.9,70.4 378.9,70.7 379.9,71.0 380.9,71.2 381.9,71.4 382.9,71.4 383.9,71.4 384.9,71.3 385.9,71.2 386.9,71.2 387.9,71.1 388.9,71.1 389.9,71.1 390.9,71.0 391.9,70.9 392.9,70.6 393.9,70.2 394.9,69.7 395.9,69.2 396.9,68.7 397.9,68.3 398.9,68.0 399.9,67.8 400.9,67.8 401.9,67.8 402.9,67.8 403.9,67.8 404.9,67.8 405.9,67.8 406.9,67.8 407.9,67.7 408.9,67.7 409.9,67.5 410.9,67.3 411.9,66.8 412.9,66.3 413.9,65.6 414.9,64.7 415.9,63.7 416.9,62.4 417.9,61.0 418.9,59.7 419.9,58.6 420.9,57.8 421.9,57.3 422.9,56.9 423.9,56.7 424.9,56.7 425.9,56.7 426.9,56.9 427.9,57.2 428.9,57.6 429.9,58.2 430.9,59.0 431.9,60.0 432.9,61.2 433.9,62.8 434.9,64.5 435.9,66.6 436.9,69.0 437.9,71.7 438.9,74.5 439.9,77.4 440.9,80.3 441.9,83.5 442.9,87.0 443.9,90.8 444.9,94.8 445.9,99.0 446.9,103.0 447.9,106.6 448.9,109.8 449.9,112.7 450.9,115.1 451.9,116.8 452.9,117.7 453.9,117.9 454.9,117.3 455.9,115.9 456.9,114.0 457.9,111.7 458.9,108.9 459.9,105.8 460.9,102.5 461.9,99.6 462.9,97.2 463.9,95.2 464.9,93.7 465.9,92.5 466.9,91.4 467.9,90.5 468.9,89.8 469.9,89.4 470.9,89.4 471.9,89.8 472.9,90.6 473.9,91.7 474.9,93.1 475.9,94.5 476.9,96.0 477.9,97.4 478.9,98.9 479.9,100.2 480.9,101.4 481.9,102.3 482.9,103.1 483.9,103.7 484.9,104.0 485.9,104.1 486.9,103.9 487.9,103.6 488.9,103.3 489.9,103.3 490.9,103.5 491.9,104.2 492.9,105.4 493.9,106.9 494.9,108.7 495.9,110.8 496.9,113.0 497.9,115.4 498.9,118.1 499.9,121.0 500.9,124.1 501.9,127.5 502.9,131.0 503.9,134.4 504.9,137.6 505.9,140.5 506.9,143.2 507.9,145.7 508.9,148.0 509.9,150.4 510.9,152.7 511.9,155.0 512.9,157.3 513.9,159.6 514.9,161.9 515.9,164.2 516.9,166.7 517.9,169.4 518.9,172.3 519.9,175.4 520.9,178.8 521.9,182.2 522.9,185.6 523.9,189.1 524.9,192.7 525.9,196.9 526.9,201.6 527.9,206.9 528.9,212.6 529.9,218.6 530.9,224.7 531.9,230.9 532.9,237.2 533.9,243.7 534.9,250.3 535.9,257.0 536.9,263.4 537.9,269.5 538.9,275.3 539.9,280.8 540.9,286.0 541.9,291.2 542.9,296.7 543.9,302.4 544.9,308.6 545.9,315.1 546.9,322.0 547.9,329.0 548.9,336.0 549.9,342.2 550.9,347.1 551.9,350.7 552.9,353.0 553.9,353.9 554.9,354.2 555.9,354.5 556.9,354.9 557.9,355.5 558.9,356.1 559.9,356.9 560.9,357.9 561.9,358.9 562.9,359.9 563.9,360.9 564.9,362.1 565.9,363.3 566.9,364.7 567.9,366.1 568.9,367.4 569.9,368.3 570.9,368.9 571.9,369.1 572.9,369.1 573.9,368.9 574.9,368.7 575.9,368.6 576.9,368.7 577.9,368.8 578.9,369.0 579.9,369.4 580.9,369.7 581.9,370.1 582.9,370.5 583.9,370.8 584.9,371.2 585.9,371.6 586.9,371.9 587.9,372.3 588.9,372.6 589.9,372.9 590.9,373.1 591.9,373.3 592.9,373.4 593.9,373.5 594.9,373.6 595.9,373.8 596.9,373.9 597.9,373.9 598.9,373.8 599.9,373.7 600.9,373.4 601.9,373.1 602.9,372.7 603.9,372.3 604.9,372.0 605.9,371.6 606.9,371.3 607.9,370.9 608.9,370.6 609.9,370.2 610.9,369.8 611.9,369.5 612.9,369.1 613.9,368.8 614.9,368.6 615.9,368.4 616.9,368.3 617.9,368.2 618.9,368.2 619.9,368.2 620.9,368.2 621.9,368.2 622.9,368.2 623.9,368.2 624.9,368.2 625.9,368.2 626.9,368.2 627.9,368.2 628.9,368.3 629.9,368.6 630.9,369.2 631.9,370.0 632.9,371.1 633.9,372.3 634.9,373.6 635.9,374.9 636.9,376.2 637.9,377.4 638.9,378.7 639.9,380.0 640.9,381.2 641.9,382.5 642.9,383.5 643.9,384.4 644.9,385.0 645.9,385.5 646.9,385.8 647.9,386.2 648.9,386.5 649.9,386.6 650.9,386.7 651.9,386.6 652.9,386.4 653.9,386.0 654.9,385.7 655.9,385.4 656.9,385.0 657.9,384.7 658.9,384.4 659.9,384.0 660.9,383.7 661.9,383.4 662.9,383.0 663.9,382.6 664.9,382.2 665.9,381.7 666.9,381.1 667.9,380.5 668.9,379.8 669.9,379.2 670.9,378.6 671.9,378.0 672.9,377.4 673.9,376.8 674.9,376.3 675.9,375.8 676.9,375.4 677.9,374.9 678.9,374.5 679.9,374.1 680.9,373.7 681.9,373.5 682.9,373.5 683.9,373.6 684.9,374.0 685.9,374.4 686.9,374.8 687.9,375.2 688.9,375.6 689.9,376.0 690.9,376.5 691.9,376.9 692.9,377.3 693.9,377.7 694.9,378.2 695.9,378.8 696.9,379.7 697.9,380.8 698.9,382.1 699.9,383.5 700.9,384.9 701.9,386.3 702.9,387.8 703.9,389.3 704.9,390.9 705.9,392.7 706.9,394.5 707.9,396.5 708.9,398.4 709.9,400.4 710.9,402.1 711.9,403.6 712.9,404.8 713.9,405.7 714.9,406.4 715.9,407.1 716.9,407.8 717.9,408.5 718.9,409.2 719.9,410.1 720.9,411.2 721.9,412.5 722.9,414.0 723.9,415.7 724.9,417.2 725.9,418.6 726.9,419.8 727.9,420.8 728.9,421.6 729.9,422.3 730.9,423.1 731.9,423.9 732.9,424.6 733.9,425.4 734.9,426.1 735.9,426.9 736.9,427.5 737.9,427.8 738.9,428.0 739.9,428.0 740.9,427.7 741.9,427.4 742.9,427.2 743.9,426.9 744.9,426.7 745.9,426.4 746.9,426.1 747.9,425.8 748.9,425.3 749.9,424.6 750.9,423.6 751.9,422.4 752.9,421.0 753.9,419.7 754.9,418.3 755.9,416.9 756.9,415.5 757.9,414.4 758.9,413.5 759.9,412.9 760.9,412.5 761.9,412.4 762.9,412.4 763.9,412.4 764.9,412.4 765.9,412.4 766.9,412.4 767.9,412.4 768.9,412.4 769.9,412.4 770.9,412.7 771.9,413.2 772.9,414.0 773.9,415.1 774.9,416.4 775.9,417.9 776.9,419.3 777.9,420.7 778.9,422.0 779.9,423.2 780.9,424.1 781.9,424.9 782.9,425.5 783.9,426.0 784.9,426.5 785.9,427.0 786.9,427.5 787.9,428.0 788.9,428.5 789.9,429.0 790.9,429.5 791.9,429.9 792.9,430.2 793.9,430.5 794.9,430.8 795.9,431.1 796.9,431.3 797.9,431.6 798.9,431.8 799.9,432.0 800.9,432.2 801.9,432.3 802.9,432.4 803.9,432.4 804.9,432.3 805.9,432.3 806.9,432.2 807.9,432.2 808.9,432.1 809.9,432.1 810.9,432.0 811.9,432.0 812.9,431.9 813.9,431.8 814.9,431.4 815.9,430.7 816.9,429.7 817.9,428.3 818.9,426.8 819.9,425.2 820.9,423.7 821.9,422.1 822.9,420.6 823.9,419.1 824.9,417.7 825.9,416.4 826.9,415.2 827.9,414.1 828.9,413.1 829.9,412.0 830.9,410.9 831.9,409.8 832.9,408.7 833.9,407.6 834.9,406.6 835.9,405.5 836.9,404.4 837.9,403.3 838.9,402.2 839.9,401.0 840.9,399.8 841.9,398.5 842.9,397.3 843.9,396.0 844.9,394.9 845.9,394.0 846.9,393.3 847.9,392.8 848.9,392.5 849.9,392.3 850.9,392.1 851.9,391.8 852.9,391.5 853.9,391.2 854.9,390.9 855.9,390.5 856.9,390.1 857.9,389.7 858.9,389.3 859.9,388.9 860.9,388.3 861.9,387.5 862.9,386.6 863.9,385.6 864.9,384.4 865.9,383.2 866.9,382.0 867.9,380.8 868.9,379.4 869.9,378.0 870.9,376.5 871.9,375.0 872.9,373.4 873.9,371.9 874.9,370.4 875.9,368.8 876.9,367.3 877.9,365.7 878.9,364.3 879.9,363.1 880.9,362.2 881.9,361.5 882.9,361.0 883.9,360.7 884.9,360.3 885.9,359.9 886.9,359.6 887.9,359.2 888.9,358.9 889.9,358.5 890.9,358.1 891.9,357.7 892.9,357.3 893.9,356.9 894.9,356.5 895.9,356.0 896.9,355.6 897.9,355.2 898.9,354.7 899.9,354.3 900.9,353.8 901.9,353.4 902.9,353.1 903.9,352.8 904.9,352.6 905.9,352.6 906.9,352.6 907.9,352.6 908.9,352.6 909.9,352.7 910.9,352.7 911.9,352.7 912.9,352.7 913.9,352.8 914.9,352.8 915.9,352.8 916.9,352.8 917.9,352.9 918.9,352.9 919.9,352.9 920.9,352.9 921.9,352.9 922.9,352.9 923.9,352.8 924.9,352.8 925.9,352.6 926.9,352.4 927.9,352.1 928.9,351.7 929.9,351.2 930.9,350.6 931.9,350.0 932.9,349.5 933.9,348.9 934.9,348.4 935.9,347.8 936.9,347.2 937.9,346.7 938.9,346.3 939.9,346.0 940.9,345.7 941.9,345.6 942.9,345.5 943.9,345.3 944.9,345.2 945.9,345.1 946.9,345.0 947.9,344.8 948.9,344.7 949.9,344.6 950.9,344.5 951.9,344.3 952.9,344.2 953.9,344.1 954.9,344.0 955.9,343.8 956.9,343.8 957.9,343.9 958.9,344.1 959.9,344.4 960.9,344.9 961.9,345.3 962.9,345.8 963.9,346.3 964.9,346.7 965.9,347.2 966.9,347.7 967.9,348.1 968.9,348.6 969.9,349.1 970.9,349.4 971.9,349.7 972.9,349.7 973.9,349.7 974.9,349.5 975.9,349.2 976.9,349.0 977.9,348.9 978.9,348.8 979.9,348.8 980.9,348.9 981.9,349.0 982.9,349.1 983.9,349.2 984.9,349.7 985.9,350.4 986.9,351.6 987.9,353.0 988.9,354.9 989.9,356.7 990.9,358.5 991.9,360.3 992.9,362.0 993.9,363.8 994.9,365.5 995.9,367.1 996.9,368.8 997.9,370.5 998.9,372.1 999.9,373.8 1000.9,375.2 1001.9,376.6 1002.9,377.8 1003.9,378.9 1004.9,379.9 1005.9,380.9 1006.9,381.9 1007.9,382.9 1008.9,383.8 1009.9,384.4 1010.9,384.7 1011.9,384.8 1012.9,384.6 1013.9,384.3 1014.9,384.0 1015.9,383.6 1016.9,383.3 1017.9,382.3 1018.9,380.3 1019.9,377.2 1020.9,373.1 1021.9,368.0 1022.9,362.5 1023.9,357.3 1024.9,352.5 1025.9,348.1 1026.9,344.1 1027.9,340.5 1028.9,337.0 1029.9,333.3 1030.9,329.5 1031.9,325.4 1032.9,321.1 1033.9,316.7 1034.9,312.2 1035.9,307.5 1036.9,302.8 1037.9,298.0 1038.9,293.4 1039.9,289.1 1040.9,285.3 1041.9,281.9 1042.9,278.8 1043.9,275.9 1044.9,272.9 1045.9,270.1 1046.9,267.3 1047.9,264.7 1048.9,262.2 1049.9,259.7 1050.9,257.3 1051.9,254.8 1052.9,252.4 1053.9,249.7 1054.9,246.4 1055.9,242.3 1056.9,237.5 1057.9,232.0 1058.9,226.0 1059.9,220.0 1060.9,214.6 1061.9,210.1 1062.9,206.4 1063.9,203.4 1064.9,201.3 1065.9,199.3 1066.9,197.3 1067.9,195.3 1068.9,193.3 1069.9,191.5 1070.9,190.0 1071.9,188.6 1072.9,187.6 1073.9,186.8 1074.9,186.0 1075.9,185.3 1076.9,184.5 1077.9,183.8 1078.9,183.0 1079.9,182.3 1080.9,181.6 1081.9,181.0 1082.9,180.4 1083.9,179.9 1084.9,179.4 1085.9,178.9 1086.9,178.4 1087.9,177.9 1088.9,177.4 1089.9,176.9 1090.9,176.3 1091.9,175.7 1092.9,175.1 1093.9,174.4 1094.9,173.7 1095.9,173.0 1096.9,172.4 1097.9,172.1 1098.9,172.1 1099.9,172.3 1100.9,172.8 1101.9,173.4 1102.9,174.0 1103.9,174.6 1104.9,175.4 1105.9,176.6 1106.9,178.1 1107.9,179.9 1108.9,182.1 1109.9,184.3 1110.9,186.4 1111.9,188.3 1112.9,190.1 1113.9,191.7 1114.9,193.1 1115.9,194.3 1116.9,195.4 1117.9,196.4 1118.9,197.3 1119.9,198.1 1120.9,198.8 1121.9,199.5 1122.9,200.2 1123.9,200.9 1124.9,201.6 1125.9,202.3 1126.9,202.9 1127.9,203.3 1128.9,203.6 1129.9,203.7 1130.9,203.7 1131.9,203.6 1132.9,203.5 1133.9,203.5 1134.9,203.4 1135.9,203.3 1136.9,203.2 1137.9,203.0 1138.9,202.8 1139.9,202.4 1140.9,202.0 1141.9,201.5 1142.9,201.1 1143.9,200.6 1144.9,200.2 1145.9,199.7 1146.9,199.2 1147.9,198.8 1148.9,198.3 1149.9,197.9 1150.9,197.6 1151.9,197.3 1152.9,197.1 1153.9,197.0 1154.9,197.0 1155.9,196.9 1156.9,196.9 1157.9,196.8 1158.9,196.8 1159.9,196.7 1160.9,196.7 1161.9,196.7 1162.9,196.7 1163.9,196.8 1164.9,196.9 1165.9,196.9 1166.9,197.0 1167.9,197.1 1168.9,197.1 1169.9,197.2 1170.9,197.3 1171.9,197.4 1172.9,197.4 1173.9,197.5 1174.9,197.6 1175.9,197.6 1176.9,197.7 1177.9,197.8 1178.9,198.0 1179.9,198.2 1180.9,198.6 1181.9,199.2 1182.9,199.8 1183.9,200.4 1184.9,201.0 1185.9,201.7 1186.9,202.3 1187.9,202.9 1188.9,203.7 1189.9,204.8 1190.9,206.1 1191.9,207.7 1192.9,209.6 1193.9,211.6 1194.9,213.6 1195.9,215.6 1196.9,217.6 1197.9,219.5 1198.9,221.5 1199.9,223.4 1200.9,225.3 1201.9,227.1 1202.9,229.0 1203.9,230.9 1204.9,232.8 1205.9,234.6 1206.9,236.4 1207.9,238.1 1208.9,239.6 1209.9,241.0 1210.9,242.2 1211.9,243.3 1212.9,244.5 1213.9,245.6 1214.9,246.8 1215.9,247.8 1216.9,248.4 1217.5,248.9 1217.5,248.9 1217.5,344.4 1217.5,344.4 1216.8,344.4 1215.8,344.5 1214.8,344.6 1213.8,344.7 1212.8,344.8 1211.8,344.9 1210.8,345.0 1209.8,345.1 1208.8,345.3 1207.8,345.4 1206.8,345.5 1205.8,345.7 1204.8,345.9 1203.8,346.2 1202.8,346.5 1201.8,346.7 1200.8,347.0 1199.8,347.3 1198.8,347.6 1197.8,347.9 1196.8,348.2 1195.8,348.4 1194.8,348.2 1193.8,347.7 1192.8,346.9 1191.8,345.8 1190.8,344.4 1189.8,343.0 1188.8,341.7 1187.8,340.3 1186.8,339.0 1185.8,337.7 1184.8,336.5 1183.8,335.3 1182.8,334.3 1181.8,333.3 1180.8,332.3 1179.8,331.3 1178.8,330.3 1177.8,329.3 1176.8,328.3 1175.8,327.5 1174.8,326.8 1173.8,326.4 1172.8,326.2 1171.8,326.2 1170.8,326.2 1169.8,326.2 1168.8,326.2 1167.8,326.2 1166.8,326.2 1165.8,326.2 1164.8,326.2 1163.8,326.2 1162.8,325.9 1161.8,325.4 1160.8,324.6 1159.8,323.6 1158.8,322.3 1157.8,320.9 1156.8,319.6 1155.8,318.2 1154.8,316.8 1153.8,315.4 1152.8,313.8 1151.8,312.2 1150.8,310.5 1149.8,308.9 1148.8,307.2 1147.8,305.6 1146.8,304.2 1145.8,302.9 1144.8,301.8 1143.8,300.9 1142.8,300.0 1141.8,299.2 1140.8,298.4 1139.8,297.6 1138.8,297.1 1137.8,296.8 1136.8,296.6 1135.8,296.7 1134.8,296.8 1133.8,296.9 1132.8,297.1 1131.8,297.2 1130.8,297.3 1129.8,297.6 1128.8,298.2 1127.8,299.3 1126.8,300.8 1125.8,302.7 1124.8,305.0 1123.8,307.2 1122.8,309.5 1121.8,311.7 1120.8,314.0 1119.8,316.3 1118.8,318.5 1117.8,320.6 1116.8,322.7 1115.8,324.8 1114.8,327.5 1113.8,330.9 1112.8,335.0 1111.8,340.1 1110.8,346.2 1109.8,352.6 1108.8,359.4 1107.8,366.4 1106.8,373.4 1105.8,380.4 1104.8,387.3 1103.8,394.2 1102.8,400.6 1101.8,406.4 1100.8,411.6 1099.8,416.3 1098.8,420.4 1097.8,424.4 1096.8,428.4 1095.8,432.4 1094.8,436.4 1093.8,440.4 1092.8,444.4 1091.8,448.4 1090.8,452.2 1089.8,455.8 1088.8,459.2 1087.8,462.5 1086.8,465.7 1085.8,469.0 1084.8,472.4 1083.8,476.0 1082.8,479.7 1081.8,483.6 1080.8,487.6 1079.8,491.7 1078.8,495.9 1077.8,499.9 1076.8,503.9 1075.8,507.8 1074.8,511.4 1073.8,515.0 1072.8,518.4 1071.8,521.8 1070.8,524.9 1069.8,527.8 1068.8,530.4 1067.8,532.8 1066.8,534.9 1065.8,537.0 1064.8,539.1 1063.8,540.8 1062.8,542.0 1061.8,542.7 1060.8,543.0 1059.8,542.7 1058.8,542.1 1057.8,541.3 1056.8,540.1 1055.8,538.8 1054.8,537.4 1053.8,536.1 1052.8,535.0 1051.8,534.2 1050.8,533.4 1049.8,532.8 1048.8,532.3 1047.8,531.8 1046.8,531.3 1045.8,530.8 1044.8,530.3 1043.8,529.6 1042.8,528.8 1041.8,528.0 1040.8,527.0 1039.8,525.7 1038.8,524.0 1037.8,521.9 1036.8,519.4 1035.8,516.7 1034.8,514.1 1033.8,511.7 1032.8,509.7 1031.8,508.1 1030.8,506.7 1029.8,505.4 1028.8,504.2 1027.8,503.1 1026.8,501.9 1025.8,500.8 1024.8,499.4 1023.8,497.7 1022.8,495.9 1021.8,494.1 1020.8,492.5 1019.8,491.2 1018.8,490.4 1017.8,490.0 1016.8,489.7 1015.8,489.5 1014.8,489.4 1013.8,489.3 1012.8,489.3 1011.8,489.2 1010.8,489.2 1009.8,489.2 1008.8,489.1 1007.8,489.1 1006.8,489.1 1005.8,489.0 1004.8,489.0 1003.8,489.0 1002.8,489.0 1001.8,489.1 1000.8,489.3 999.8,489.6 998.8,490.0 997.8,490.4 996.8,490.7 995.8,491.0 994.8,491.3 993.8,491.5 992.8,491.8 991.8,492.0 990.8,492.0 989.8,491.9 988.8,491.6 987.8,491.1 986.8,490.3 985.8,489.2 984.8,488.0 983.8,486.5 982.8,484.8 981.8,483.2 980.8,481.5 979.8,479.8 978.8,478.1 977.8,476.3 976.8,474.5 975.8,472.6 974.8,470.8 973.8,469.1 972.8,467.5 971.8,466.1 970.8,464.9 969.8,463.7 968.8,462.6 967.8,461.6 966.8,460.8 965.8,460.2 964.8,459.7 963.8,459.3 962.8,458.8 961.8,458.5 960.8,458.3 959.8,458.3 958.8,458.5 957.8,458.8 956.8,459.2 955.8,459.5 954.8,459.9 953.8,460.3 952.8,460.6 951.8,460.9 950.8,461.1 949.8,461.1 948.8,461.1 947.8,460.9 946.8,460.8 945.8,460.7 944.8,460.6 943.8,460.4 942.8,460.2 941.8,459.8 940.8,459.2 939.8,458.4 938.8,457.4 937.8,456.4 936.8,455.4 935.8,454.4 934.8,453.4 933.8,452.4 932.8,451.4 931.8,450.4 930.8,449.2 929.8,447.8 928.8,446.2 927.8,444.6 926.8,443.3 925.8,442.5 924.8,442.1 923.8,442.1 922.8,442.5 921.8,442.8 920.8,443.1 919.8,443.5 918.8,443.8 917.8,444.1 916.8,444.5 915.8,445.0 914.8,445.5 913.8,446.0 912.8,446.6 911.8,447.3 910.8,447.9 909.8,448.5 908.8,449.1 907.8,449.8 906.8,450.7 905.8,451.8 904.8,453.1 903.8,454.5 902.8,456.1 901.8,457.6 900.8,459.2 899.8,460.8 898.8,462.3 897.8,463.9 896.8,465.5 895.8,467.0 894.8,468.6 893.8,470.1 892.8,471.7 891.8,473.3 890.8,474.8 889.8,476.4 888.8,477.9 887.8,479.3 886.8,480.6 885.8,481.8 884.8,482.8 883.8,483.8 882.8,484.9 881.8,485.9 880.8,486.9 879.8,487.9 878.8,489.0 877.8,490.0 876.8,491.0 875.8,492.0 874.8,493.1 873.8,494.1 872.8,495.1 871.8,496.1 870.8,497.2 869.8,498.1 868.8,498.8 867.8,499.5 866.8,499.9 865.8,500.2 864.8,500.5 863.8,500.7 862.8,501.0 861.8,501.2 860.8,501.5 859.8,501.7 858.8,502.0 857.8,502.3 856.8,502.5 855.8,502.8 854.8,503.0 853.8,503.3 852.8,503.6 851.8,503.9 850.8,504.2 849.8,504.5 848.8,504.9 847.8,505.2 846.8,505.5 845.8,505.6 844.8,505.4 843.8,505.1 842.8,504.6 841.8,503.8 840.8,503.2 839.8,502.6 838.8,502.2 837.8,501.9 836.8,501.7 835.8,501.6 834.8,501.5 833.8,501.4 832.8,501.3 831.8,501.2 830.8,501.1 829.8,501.0 828.8,500.9 827.8,500.6 826.8,500.3 825.8,499.8 824.8,499.3 823.8,498.7 822.8,498.1 821.8,497.5 820.8,496.9 819.8,496.4 818.8,495.8 817.8,495.2 816.8,494.6 815.8,494.0 814.8,493.5 813.8,493.1 812.8,492.7 811.8,492.5 810.8,492.4 809.8,492.4 808.8,492.3 807.8,492.3 806.8,492.2 805.8,492.2 804.8,492.1 803.8,492.1 802.8,492.0 801.8,492.0 800.8,491.9 799.8,491.9 798.8,491.8 797.8,491.8 796.8,491.7 795.8,491.6 794.8,491.6 793.8,491.5 792.8,491.5 791.8,491.7 790.8,492.1 789.8,492.7 788.8,493.5 787.8,494.4 786.8,495.4 785.8,496.3 784.8,497.3 783.8,498.3 782.8,499.3 781.8,500.7 780.8,502.3 779.8,504.1 778.8,506.3 777.8,508.7 776.8,511.1 775.8,513.5 774.8,515.8 773.8,517.8 772.8,519.6 771.8,521.1 770.8,522.3 769.8,523.4 768.8,524.5 767.8,525.6 766.8,526.7 765.8,527.8 764.8,528.9 763.8,529.8 762.8,530.6 761.8,531.2 760.8,531.6 759.8,531.9 758.8,531.9 757.8,531.8 756.8,531.5 755.8,531.1 754.8,530.6 753.8,530.2 752.8,530.0 751.8,529.8 750.8,529.8 749.8,529.8 748.8,529.8 747.8,529.8 746.8,529.8 745.8,529.8 744.8,529.8 743.8,529.8 742.8,529.8 741.8,529.8 740.8,529.8 739.8,529.9 738.8,530.1 737.8,530.3 736.8,530.6 735.8,530.9 734.8,531.2 733.8,531.4 732.8,531.6 731.8,531.7 730.8,531.8 729.8,531.9 728.8,532.1 727.8,532.4 726.8,532.9 725.8,533.6 724.8,534.4 723.8,535.4 722.8,536.3 721.8,537.2 720.8,537.9 719.8,538.4 718.8,538.7 717.8,538.9 716.8,538.9 715.8,539.0 714.8,539.1 713.8,539.2 712.8,539.4 711.8,539.7 710.8,540.3 709.8,541.0 708.8,542.0 707.8,543.1 706.8,544.2 705.8,545.3 704.8,546.4 703.8,547.6 702.8,548.5 701.8,549.3 700.8,549.8 699.8,550.0 698.8,549.9 697.8,549.6 696.8,549.2 695.8,548.7 694.8,547.9 693.8,547.1 692.8,546.1 691.8,545.1 690.8,544.0 689.8,542.9 688.8,541.6 687.8,540.1 686.8,538.3 685.8,536.3 684.8,533.9 683.8,531.2 682.8,528.4 681.8,525.4 680.8,522.4 679.8,519.7 678.8,517.2 677.8,515.1 676.8,513.3 675.8,511.6 674.8,510.0 673.8,508.0 672.8,505.8 671.8,503.4 670.8,500.9 669.8,498.6 668.8,496.8 667.8,495.4 666.8,494.3 665.8,493.1 664.8,491.6 663.8,490.0 662.8,488.1 661.8,486.3 660.8,484.5 659.8,482.7 658.8,481.0 657.8,479.3 656.8,477.6 655.8,475.9 654.8,474.2 653.8,472.5 652.8,470.8 651.8,469.2 650.8,467.7 649.8,466.3 648.8,465.1 647.8,463.9 646.8,462.7 645.8,461.5 644.8,460.6 643.8,459.8 642.8,459.3 641.8,459.0 640.8,458.9 639.8,458.9 638.8,458.9 637.8,458.9 636.8,458.9 635.8,458.9 634.8,458.9 633.8,458.9 632.8,458.9 631.8,458.9 630.8,458.9 629.8,458.9 628.8,458.9 627.8,458.9 626.8,458.8 625.8,458.7 624.8,458.5 623.8,458.3 622.8,458.1 621.8,457.9 620.8,457.7 619.8,457.5 618.8,457.3 617.8,457.1 616.8,456.9 615.8,456.7 614.8,456.6 613.8,456.4 612.8,456.3 611.8,456.2 610.8,456.1 609.8,456.0 608.8,455.9 607.8,455.8 606.8,455.7 605.8,455.6 604.8,455.5 603.8,455.3 602.8,455.1 601.8,454.9 600.8,454.6 599.8,454.4 598.8,454.1 597.8,453.8 596.8,453.5 595.8,453.2 594.8,452.9 593.8,452.7 592.8,452.4 591.8,452.1 590.8,451.9 589.8,451.7 588.8,451.7 587.8,451.6 586.8,451.7 585.8,451.9 584.8,452.3 583.8,452.9 582.8,453.6 581.8,454.4 580.8,455.0 579.8,455.4 578.8,455.4 577.8,455.3 576.8,454.8 575.8,454.4 574.8,453.9 573.8,453.5 572.8,453.1 571.8,452.9 570.8,452.7 569.8,452.6 568.8,452.5 567.8,452.5 566.8,452.4 565.8,452.3 564.8,452.3 563.8,452.3 562.8,452.3 561.8,452.3 560.8,452.4 559.8,452.6 558.8,452.7 557.8,452.8 556.8,452.9 555.8,453.1 554.8,453.2 553.8,453.3 552.8,453.8 551.8,455.0 550.8,456.9 549.8,459.6 548.8,463.0 547.8,466.9 546.8,470.7 545.8,474.6 544.8,478.4 543.8,482.2 542.8,485.8 541.8,489.5 540.8,493.1 539.8,496.7 538.8,500.3 537.8,503.8 536.8,507.1 535.8,510.0 534.8,512.6 533.8,515.0 532.8,517.0 531.8,519.0 530.8,521.0 529.8,522.6 528.8,523.8 527.8,524.6 526.8,525.0 525.8,525.0 524.8,525.0 523.8,525.0 522.8,525.0 521.8,525.0 520.8,525.0 519.8,524.8 518.8,524.3 517.8,523.3 516.8,521.9 515.8,520.0 514.8,518.0 513.8,516.0 512.8,514.0 511.8,512.0 510.8,510.0 509.8,508.1 508.8,506.3 507.8,504.5 506.8,502.6 505.8,500.8 504.8,499.2 503.8,497.8 502.8,496.5 501.8,495.4 500.8,494.4 499.8,493.2 498.8,491.8 497.8,490.0 496.8,487.8 495.8,485.0 494.8,481.5 493.8,477.7 492.8,473.4 491.8,468.5 490.8,463.4 489.8,458.0 488.8,452.5 487.8,446.7 486.8,441.0 485.8,435.2 484.8,429.4 483.8,423.5 482.8,417.7 481.8,412.2 480.8,407.2 479.8,402.6 478.8,398.4 477.8,394.6 476.8,390.9 475.8,387.3 474.8,383.6 473.8,379.8 472.8,375.9 471.8,372.0 470.8,368.0 469.8,364.0 468.8,360.0 467.8,355.7 466.8,350.7 465.8,345.3 464.8,339.2 463.8,332.6 462.8,325.7 461.8,318.0 460.8,309.6 459.8,300.5 458.8,290.8 457.8,281.9 456.8,274.1 455.8,267.7 454.8,262.9 453.8,260.0 452.8,257.8 451.8,256.4 450.8,255.6 449.8,255.2 448.8,255.0 447.8,254.9 446.8,255.2 445.8,255.6 444.8,256.3 443.8,257.0 442.8,257.8 441.8,258.5 440.8,259.3 439.8,259.9 438.8,260.2 437.8,260.1 436.8,259.7 435.8,258.9 434.8,257.7 433.8,256.6 432.8,255.5 431.8,254.4 430.8,253.2 429.8,252.0 428.8,250.6 427.8,249.1 426.8,247.4 425.8,245.6 424.8,243.8 423.8,242.0 422.8,240.0 421.8,237.7 420.8,235.2 419.8,232.5 418.8,229.6 417.8,226.6 416.8,223.6 415.8,220.9 414.8,218.6 413.8,216.8 412.8,215.4 411.8,214.4 410.8,213.6 409.8,212.8 408.8,212.0 407.8,211.2 406.8,210.6 405.8,210.0 404.8,209.6 403.8,209.2 402.8,209.0 401.8,208.7 400.8,208.4 399.8,208.1 398.8,207.6 397.8,207.1 396.8,206.4 395.8,205.6 394.8,204.8 393.8,204.0 392.8,203.1 391.8,202.3 390.8,201.5 389.8,200.8 388.8,200.4 387.8,200.2 386.8,200.3 385.8,200.6 384.8,200.9 383.8,201.3 382.8,201.5 381.8,201.6 380.8,201.6 379.8,201.4 378.8,201.0 377.8,200.5 376.8,200.0 375.8,199.6 374.8,199.3 373.8,199.5 372.8,200.0 371.8,201.0 370.8,202.4 369.8,203.9 368.8,205.5 367.8,207.1 366.8,208.7 365.8,210.3 364.8,212.0 363.8,213.9 362.8,215.9 361.8,218.1 360.8,220.4 359.8,222.6 358.8,224.9 357.8,227.1 356.8,229.1 355.8,230.9 354.8,232.5 353.8,234.0 352.8,235.4 351.8,237.0 350.8,238.8 349.8,240.7 348.8,242.8 347.8,245.1 346.8,247.5 345.8,249.9 344.8,252.2 343.8,254.8 342.8,257.5 341.8,260.4 340.8,263.5 339.8,266.7 338.8,269.6 337.8,272.0 336.8,274.0 335.8,275.5 334.8,276.4 333.8,277.2 332.8,278.0 331.8,278.7 330.8,279.3 329.8,279.9 328.8,280.6 327.8,281.2 326.8,281.7 325.8,282.1 324.8,282.3 323.8,282.4 322.8,282.4 321.8,282.4 320.8,282.4 319.8,282.4 318.8,282.4 317.8,282.4 316.8,282.4 315.8,282.4 314.8,282.4 313.8,282.4 312.8,282.4 311.8,282.4 310.8,282.5 309.8,282.8 308.8,283.2 307.8,283.8 306.8,284.6 305.8,285.4 304.8,286.2 303.8,286.8 302.8,287.2 301.8,287.5 300.8,287.5 299.8,287.5 298.8,287.4 297.8,287.3 296.8,287.3 295.8,287.2 294.8,287.2 293.8,287.3 292.8,287.3 291.8,287.4 290.8,287.5 289.8,287.6 288.8,287.3 287.8,286.5 286.8,285.4 285.8,283.8 284.8,281.8 283.8,279.7 282.8,277.6 281.8,275.6 280.8,273.8 279.8,272.6 278.8,271.9 277.8,271.8 276.8,272.1 275.8,272.7 274.8,273.3 273.8,273.8 272.8,274.4 271.8,275.0 270.8,275.5 269.8,276.1 268.8,276.6 267.8,277.2 266.8,277.7 265.8,278.2 264.8,278.7 263.8,279.2 262.8,279.5 261.8,279.8 260.8,280.0 259.8,280.2 258.8,280.4 257.8,280.6 256.8,280.7 255.8,280.7 254.8,280.5 253.8,280.2 252.8,279.8 251.8,279.3 250.8,278.8 249.8,278.2 248.8,277.5 247.8,276.8 246.8,276.1 245.8,275.3 244.8,274.5 243.8,273.7 242.8,273.2 241.8,273.2 240.8,273.9 239.8,275.1 238.8,276.8 237.8,278.8 236.8,280.8 235.8,282.8 234.8,284.8 233.8,286.7 232.8,288.4 231.8,290.1 230.8,291.6 229.8,293.0 228.8,294.4 227.8,295.8 226.8,297.2 225.8,298.6 224.8,300.0 223.8,301.4 222.8,302.8 221.8,304.2 220.8,305.7 219.8,307.2 218.8,308.7 217.8,310.2 216.8,311.7 215.8,313.2 214.8,314.7 213.8,316.4 212.8,318.2 211.8,320.3 210.8,322.6 209.8,325.1 208.8,327.6 207.8,330.1 206.8,332.6 205.8,335.1 204.8,337.4 203.8,339.3 202.8,341.0 201.8,342.4 200.8,343.6 199.8,344.8 198.8,345.9 197.8,347.1 196.8,348.3 195.8,349.4 194.8,350.6 193.8,351.8 192.8,352.9 191.8,354.0 190.8,354.8 189.8,355.4 188.8,355.8 187.8,355.9 186.8,356.0 185.8,356.0 184.8,356.1 183.8,356.2 182.8,356.2 181.8,356.3 180.8,356.3 179.8,356.4 178.8,356.5 177.8,356.5 176.8,356.6 175.8,356.7 174.8,356.7 173.8,356.7 172.8,356.6 171.8,356.3 170.8,356.0 169.8,355.5 168.8,355.0 167.8,354.5 166.8,354.0 165.8,353.5 164.8,353.0 163.8,352.5 162.8,351.9 161.8,351.2 160.8,350.3 159.8,349.3 158.8,348.1 157.8,346.9 156.8,345.6 155.8,344.4 154.8,343.1 153.8,342.0 152.8,341.1 151.8,340.4 150.8,339.9 149.8,339.6 148.8,339.4 147.8,339.2 146.8,339.0 145.8,338.8 144.8,338.6 143.8,338.4 142.8,338.3 141.8,338.1 140.8,338.1 139.8,338.1 138.8,338.1 137.8,338.3 136.8,338.4 135.8,338.6 134.8,338.8 133.8,338.9 132.8,339.1 131.8,339.6 130.8,340.4 129.8,341.5 128.8,342.9 127.8,344.5 126.8,346.0 125.8,347.2 124.8,348.1 123.8,348.7 122.8,348.9 121.8,349.1 120.8,349.2 119.8,349.1 118.8,348.7 117.8,348.0 116.8,347.0 115.8,345.8 114.8,344.6 113.8,343.3 112.8,342.1 111.8,340.8 110.8,339.6 109.8,338.3 108.8,337.1 107.8,335.8 106.8,334.6 105.8,333.5 104.8,332.5 103.8,331.6 102.8,330.8 101.8,330.0 100.8,329.2 99.8,328.5 98.8,327.8 97.8,327.1 96.8,326.5 95.8,325.8 94.8,325.2 93.8,324.6 92.8,324.0 91.8,323.6 90.8,323.4 89.8,323.2 88.8,323.1 87.8,323.0 86.8,323.0 85.8,323.0 84.8,322.9 83.8,323.1 82.8,323.7 81.8,324.8 80.8,326.4 79.8,328.4 78.8,330.8 77.8,333.1 76.8,335.4 75.8,337.8 74.8,340.1 73.8,342.5 72.8,344.9 71.8,347.5 70.8,350.3 69.8,353.2 68.8,356.0 67.8,358.4 66.8,360.5 65.8,362.2 64.8,363.6 63.8,364.9 62.8,366.3 61.8,367.9 60.8,369.7 59.8,371.8 58.8,374.1 57.8,376.4 56.8,378.7 55.8,381.1 54.8,383.4 53.8,385.7 52.8,388.1 51.8,390.6 50.8,393.3 49.8,396.1 48.8,399.0 47.8,402.0 46.8,405.0 45.8,408.0 44.8,411.1 43.8,414.1 42.8,417.2 41.8,420.4 40.8,423.5 39.8,426.6 38.8,429.8 37.8,432.9 36.8,436.1 35.8,439.2 34.8,442.4 33.8,445.2 32.8,447.5 31.8,449.2 30.8,450.5 29.8,451.2 28.8,451.7 27.8,452.2 26.8,452.7 25.8,453.2 24.8,453.7 23.8,454.1 22.8,454.4 21.8,454.6 20.8,454.6 19.8,454.5 18.8,454.3 17.8,454.1 16.8,453.9 15.8,453.7 14.8,453.4 13.8,453.1 12.8,452.8 11.8,452.3 10.8,451.8 9.8,451.3 8.8,450.8 7.8,450.6 5.0,450.3" fill="rgb(196,197,198)" fill-opacity="0.46"/>
<polyline points="5.0,247.7 6.9,246.9 7.9,246.1 8.9,244.4 9.9,242.7 10.9,241.0 11.9,239.3 12.9,237.7 13.9,236.1 14.9,234.6 15.9,233.1 16.9,231.7 17.9,230.2 18.9,228.8 19.9,227.3 20.9,225.9 21.9,224.4 22.9,222.8 23.9,221.1 24.9,219.3 25.9,217.3 26.9,215.3 27.9,213.3 28.9,211.2 29.9,209.2 30.9,207.2 31.9,205.1 32.9,203.3 33.9,201.8 34.9,200.5 35.9,199.4 36.9,198.7 37.9,198.2 38.9,197.9 39.9,198.0 40.9,198.2 41.9,198.8 42.9,199.5 43.9,200.2 44.9,200.9 45.9,201.6 46.9,202.3 47.9,203.1 48.9,203.8 49.9,204.6 50.9,205.2 51.9,205.8 52.9,206.4 53.9,206.9 54.9,207.4 55.9,207.9 56.9,208.4 57.9,208.9 58.9,209.4 59.9,210.0 60.9,210.6 61.9,211.3 62.9,212.2 63.9,213.1 64.9,214.1 65.9,215.0 66.9,216.0 67.9,217.0 68.9,218.0 69.9,219.0 70.9,220.0 71.9,221.0 72.9,222.0 73.9,223.1 74.9,224.2 75.9,225.4 76.9,226.7 77.9,228.0 78.9,229.3 79.9,230.6 80.9,231.8 81.9,232.6 82.9,233.1 83.9,233.4 84.9,233.4 85.9,233.3 86.9,233.3 87.9,233.4 88.9,233.6 89.9,233.8 90.9,234.0 91.9,234.1 92.9,234.3 93.9,234.5 94.9,234.9 95.9,235.4 96.9,236.0 97.9,236.8 98.9,237.6 99.9,238.3 100.9,238.9 101.9,239.4 102.9,239.7 103.9,240.1 104.9,240.4 105.9,240.7 106.9,241.1 107.9,241.4 108.9,241.7 109.9,242.1 110.9,242.4 111.9,242.7 112.9,243.1 113.9,243.4 114.9,243.9 115.9,244.6 116.9,245.3 117.9,246.1 118.9,247.1 119.9,248.0 120.9,248.9 121.9,249.8 122.9,250.7 123.9,251.8 124.9,253.4 125.9,255.2 126.9,257.5 127.9,260.2 128.9,263.0 129.9,265.5 130.9,267.5 131.9,269.1 132.9,270.3 133.9,271.0 134.9,271.7 135.9,272.4 136.9,273.1 137.9,273.8 138.9,274.1 139.9,274.2 140.9,274.1 141.9,273.7 142.9,273.1 143.9,272.3 144.9,271.5 145.9,270.5 146.9,269.5 147.9,268.5 148.9,267.5 149.9,266.5 150.9,265.3 151.9,263.8 152.9,262.0 153.9,259.7 154.9,257.2 155.9,254.4 156.9,251.7 157.9,248.9 158.9,246.2 159.9,243.6 160.9,241.3 161.9,239.3 162.9,237.6 163.9,236.2 164.9,235.0 165.9,233.7 166.9,232.5 167.9,231.2 168.9,230.0 169.9,228.9 170.9,227.9 171.9,227.0 172.9,226.2 173.9,225.4 174.9,224.6 175.9,223.8 176.9,223.0 177.9,222.2 178.9,221.4 179.9,220.7 180.9,219.9 181.9,219.1 182.9,218.3 183.9,217.5 184.9,216.6 185.9,215.6 186.9,214.5 187.9,213.2 188.9,211.8 189.9,210.4 190.9,209.0 191.9,207.6 192.9,206.2 193.9,204.8 194.9,203.4 195.9,202.1 196.9,200.8 197.9,199.6 198.9,198.5 199.9,197.5 200.9,196.5 201.9,195.5 202.9,194.5 203.9,193.7 204.9,193.3 205.9,193.1 206.9,193.2 207.9,193.6 208.9,194.0 209.9,194.5 210.9,194.9 211.9,195.2 212.9,195.3 213.9,195.3 214.9,195.1 215.9,194.8 216.9,194.5 217.9,194.2 218.9,193.9 219.9,193.6 220.9,193.3 221.9,193.0 222.9,192.6 223.9,192.1 224.9,191.6 225.9,190.9 226.9,190.1 227.9,189.3 228.9,188.5 229.9,187.7 230.9,187.1 231.9,186.8 232.9,186.6 233.9,186.7 234.9,187.0 235.9,187.3 236.9,187.6 237.9,187.9 238.9,188.1 239.9,188.4 240.9,188.6 241.9,188.7 242.9,188.6 243.9,188.4 244.9,188.1 245.9,187.7 246.9,187.4 247.9,187.1 248.9,186.8 249.9,186.5 250.9,186.3 251.9,186.1 252.9,185.9 253.9,185.8 254.9,185.7 255.9,185.7 256.9,185.6 257.9,185.5 258.9,185.4 259.9,185.3 260.9,185.2 261.9,185.1 262.9,185.0 263.9,184.9 264.9,184.7 265.9,184.4 266.9,184.1 267.9,183.8 268.9,183.4 269.9,182.9 270.9,182.4 271.9,181.8 272.9,181.2 273.9,180.5 274.9,179.8 275.9,179.2 276.9,178.4 277.9,176.9 278.9,174.9 279.9,172.2 280.9,168.9 281.9,165.1 282.9,161.3 283.9,157.3 284.9,153.2 285.9,149.0 286.9,145.0 287.9,141.6 288.9,138.8 289.9,136.7 290.9,135.2 291.9,134.1 292.9,133.0 293.9,131.9 294.9,130.7 295.9,129.6 296.9,128.5 297.9,127.4 298.9,126.3 299.9,125.3 300.9,124.2 301.9,123.2 302.9,122.2 303.9,121.2 304.9,120.2 305.9,119.2 306.9,118.2 307.9,117.2 308.9,116.2 309.9,115.2 310.9,114.2 311.9,113.2 312.9,112.2 313.9,111.3 314.9,110.4 315.9,109.5 316.9,108.7 317.9,107.9 318.9,107.1 319.9,106.3 320.9,105.5 321.9,104.7 322.9,103.9 323.9,103.1 324.9,102.3 325.9,101.4 326.9,100.5 327.9,99.5 328.9,98.5 329.9,97.4 330.9,96.3 331.9,95.2 332.9,94.1 333.9,93.0 334.9,91.9 335.9,90.8 336.9,89.7 337.9,88.6 338.9,87.4 339.9,86.2 340.9,84.9 341.9,83.6 342.9,82.2 343.9,80.9 344.9,79.5 345.9,78.1 346.9,76.5 347.9,74.8 348.9,73.1 349.9,71.2 350.9,69.3 351.9,67.5 352.9,65.6 353.9,64.0 354.9,62.9 355.9,62.3 356.9,62.1 357.9,62.5 358.9,62.9 359.9,63.4 360.9,63.8 361.9,64.2 362.9,64.5 363.9,65.0 364.9,65.5 365.9,66.0 366.9,66.6 367.9,67.3 368.9,67.9 369.9,68.5 370.9,69.1 371.9,69.6 372.9,69.9 373.9,70.0 374.9,70.1 375.9,70.1 376.9,70.2 377.9,70.4 378.9,70.7 379.9,71.0 380.9,71.2 381.9,71.4 382.9,71.4 383.9,71.4 384.9,71.3 385.9,71.2 386.9,71.2 387.9,71.1 388.9,71.1 389.9,71.1 390.9,71.0 391.9,70.9 392.9,70.6 393.9,70.2 394.9,69.7 395.9,69.2 396.9,68.7 397.9,68.3 398.9,68.0 399.9,67.8 400.9,67.8 401.9,67.8 402.9,67.8 403.9,67.8 404.9,67.8 405.9,67.8 406.9,67.8 407.9,67.7 408.9,67.7 409.9,67.5 410.9,67.3 411.9,66.8 412.9,66.3 413.9,65.6 414.9,64.7 415.9,63.7 416.9,62.4 417.9,61.0 418.9,59.7 419.9,58.6 420.9,57.8 421.9,57.3 422.9,56.9 423.9,56.7 424.9,56.7 425.9,56.7 426.9,56.9 427.9,57.2 428.9,57.6 429.9,58.2 430.9,59.0 431.9,60.0 432.9,61.2 433.9,62.8 434.9,64.5 435.9,66.6 436.9,69.0 437.9,71.7 438.9,74.5 439.9,77.4 440.9,80.3 441.9,83.5 442.9,87.0 443.9,90.8 444.9,94.8 445.9,99.0 446.9,103.0 447.9,106.6 448.9,109.8 449.9,112.7 450.9,115.1 451.9,116.8 452.9,117.7 453.9,117.9 454.9,117.3 455.9,115.9 456.9,114.0 457.9,111.7 458.9,108.9 459.9,105.8 460.9,102.5 461.9,99.6 462.9,97.2 463.9,95.2 464.9,93.7 465.9,92.5 466.9,91.4 467.9,90.5 468.9,89.8 469.9,89.4 470.9,89.4 471.9,89.8 472.9,90.6 473.9,91.7 474.9,93.1 475.9,94.5 476.9,96.0 477.9,97.4 478.9,98.9 479.9,100.2 480.9,101.4 481.9,102.3 482.9,103.1 483.9,103.7 484.9,104.0 485.9,104.1 486.9,103.9 487.9,103.6 488.9,103.3 489.9,103.3 490.9,103.5 491.9,104.2 492.9,105.4 493.9,106.9 494.9,108.7 495.9,110.8 496.9,113.0 497.9,115.4 498.9,118.1 499.9,121.0 500.9,124.1 501.9,127.5 502.9,131.0 503.9,134.4 504.9,137.6 505.9,140.5 506.9,143.2 507.9,145.7 508.9,148.0 509.9,150.4 510.9,152.7 511.9,155.0 512.9,157.3 513.9,159.6 514.9,161.9 515.9,164.2 516.9,166.7 517.9,169.4 518.9,172.3 519.9,175.4 520.9,178.8 521.9,182.2 522.9,185.6 523.9,189.1 524.9,192.7 525.9,196.9 526.9,201.6 527.9,206.9 528.9,212.6 529.9,218.6 530.9,224.7 531.9,230.9 532.9,237.2 533.9,243.7 534.9,250.3 535.9,257.0 536.9,263.4 537.9,269.5 538.9,275.3 539.9,280.8 540.9,286.0 541.9,291.2 542.9,296.7 543.9,302.4 544.9,308.6 545.9,315.1 546.9,322.0 547.9,329.0 548.9,336.0 549.9,342.2 550.9,347.1 551.9,350.7 552.9,353.0 553.9,353.9 554.9,354.2 555.9,354.5 556.9,354.9 557.9,355.5 558.9,356.1 559.9,356.9 560.9,357.9 561.9,358.9 562.9,359.9 563.9,360.9 564.9,362.1 565.9,363.3 566.9,364.7 567.9,366.1 568.9,367.4 569.9,368.3 570.9,368.9 571.9,369.1 572.9,369.1 573.9,368.9 574.9,368.7 575.9,368.6 576.9,368.7 577.9,368.8 578.9,369.0 579.9,369.4 580.9,369.7 581.9,370.1 582.9,370.5 583.9,370.8 584.9,371.2 585.9,371.6 586.9,371.9 587.9,372.3 588.9,372.6 589.9,372.9 590.9,373.1 591.9,373.3 592.9,373.4 593.9,373.5 594.9,373.6 595.9,373.8 596.9,373.9 597.9,373.9 598.9,373.8 599.9,373.7 600.9,373.4 601.9,373.1 602.9,372.7 603.9,372.3 604.9,372.0 605.9,371.6 606.9,371.3 607.9,370.9 608.9,370.6 609.9,370.2 610.9,369.8 611.9,369.5 612.9,369.1 613.9,368.8 614.9,368.6 615.9,368.4 616.9,368.3 617.9,368.2 618.9,368.2 619.9,368.2 620.9,368.2 621.9,368.2 622.9,368.2 623.9,368.2 624.9,368.2 625.9,368.2 626.9,368.2 627.9,368.2 628.9,368.3 629.9,368.6 630.9,369.2 631.9,370.0 632.9,371.1 633.9,372.3 634.9,373.6 635.9,374.9 636.9,376.2 637.9,377.4 638.9,378.7 639.9,380.0 640.9,381.2 641.9,382.5 642.9,383.5 643.9,384.4 644.9,385.0 645.9,385.5 646.9,385.8 647.9,386.2 648.9,386.5 649.9,386.6 650.9,386.7 651.9,386.6 652.9,386.4 653.9,386.0 654.9,385.7 655.9,385.4 656.9,385.0 657.9,384.7 658.9,384.4 659.9,384.0 660.9,383.7 661.9,383.4 662.9,383.0 663.9,382.6 664.9,382.2 665.9,381.7 666.9,381.1 667.9,380.5 668.9,379.8 669.9,379.2 670.9,378.6 671.9,378.0 672.9,377.4 673.9,376.8 674.9,376.3 675.9,375.8 676.9,375.4 677.9,374.9 678.9,374.5 679.9,374.1 680.9,373.7 681.9,373.5 682.9,373.5 683.9,373.6 684.9,374.0 685.9,374.4 686.9,374.8 687.9,375.2 688.9,375.6 689.9,376.0 690.9,376.5 691.9,376.9 692.9,377.3 693.9,377.7 694.9,378.2 695.9,378.8 696.9,379.7 697.9,380.8 698.9,382.1 699.9,383.5 700.9,384.9 701.9,386.3 702.9,387.8 703.9,389.3 704.9,390.9 705.9,392.7 706.9,394.5 707.9,396.5 708.9,398.4 709.9,400.4 710.9,402.1 711.9,403.6 712.9,404.8 713.9,405.7 714.9,406.4 715.9,407.1 716.9,407.8 717.9,408.5 718.9,409.2 719.9,410.1 720.9,411.2 721.9,412.5 722.9,414.0 723.9,415.7 724.9,417.2 725.9,418.6 726.9,419.8 727.9,420.8 728.9,421.6 729.9,422.3 730.9,423.1 731.9,423.9 732.9,424.6 733.9,425.4 734.9,426.1 735.9,426.9 736.9,427.5 737.9,427.8 738.9,428.0 739.9,428.0 740.9,427.7 741.9,427.4 742.9,427.2 743.9,426.9 744.9,426.7 745.9,426.4 746.9,426.1 747.9,425.8 748.9,425.3 749.9,424.6 750.9,423.6 751.9,422.4 752.9,421.0 753.9,419.7 754.9,418.3 755.9,416.9 756.9,415.5 757.9,414.4 758.9,413.5 759.9,412.9 760.9,412.5 761.9,412.4 762.9,412.4 763.9,412.4 764.9,412.4 765.9,412.4 766.9,412.4 767.9,412.4 768.9,412.4 769.9,412.4 770.9,412.7 771.9,413.2 772.9,414.0 773.9,415.1 774.9,416.4 775.9,417.9 776.9,419.3 777.9,420.7 778.9,422.0 779.9,423.2 780.9,424.1 781.9,424.9 782.9,425.5 783.9,426.0 784.9,426.5 785.9,427.0 786.9,427.5 787.9,428.0 788.9,428.5 789.9,429.0 790.9,429.5 791.9,429.9 792.9,430.2 793.9,430.5 794.9,430.8 795.9,431.1 796.9,431.3 797.9,431.6 798.9,431.8 799.9,432.0 800.9,432.2 801.9,432.3 802.9,432.4 803.9,432.4 804.9,432.3 805.9,432.3 806.9,432.2 807.9,432.2 808.9,432.1 809.9,432.1 810.9,432.0 811.9,432.0 812.9,431.9 813.9,431.8 814.9,431.4 815.9,430.7 816.9,429.7 817.9,428.3 818.9,426.8 819.9,425.2 820.9,423.7 821.9,422.1 822.9,420.6 823.9,419.1 824.9,417.7 825.9,416.4 826.9,415.2 827.9,414.1 828.9,413.1 829.9,412.0 830.9,410.9 831.9,409.8 832.9,408.7 833.9,407.6 834.9,406.6 835.9,405.5 836.9,404.4 837.9,403.3 838.9,402.2 839.9,401.0 840.9,399.8 841.9,398.5 842.9,397.3 843.9,396.0 844.9,394.9 845.9,394.0 846.9,393.3 847.9,392.8 848.9,392.5 849.9,392.3 850.9,392.1 851.9,391.8 852.9,391.5 853.9,391.2 854.9,390.9 855.9,390.5 856.9,390.1 857.9,389.7 858.9,389.3 859.9,388.9 860.9,388.3 861.9,387.5 862.9,386.6 863.9,385.6 864.9,384.4 865.9,383.2 866.9,382.0 867.9,380.8 868.9,379.4 869.9,378.0 870.9,376.5 871.9,375.0 872.9,373.4 873.9,371.9 874.9,370.4 875.9,368.8 876.9,367.3 877.9,365.7 878.9,364.3 879.9,363.1 880.9,362.2 881.9,361.5 882.9,361.0 883.9,360.7 884.9,360.3 885.9,359.9 886.9,359.6 887.9,359.2 888.9,358.9 889.9,358.5 890.9,358.1 891.9,357.7 892.9,357.3 893.9,356.9 894.9,356.5 895.9,356.0 896.9,355.6 897.9,355.2 898.9,354.7 899.9,354.3 900.9,353.8 901.9,353.4 902.9,353.1 903.9,352.8 904.9,352.6 905.9,352.6 906.9,352.6 907.9,352.6 908.9,352.6 909.9,352.7 910.9,352.7 911.9,352.7 912.9,352.7 913.9,352.8 914.9,352.8 915.9,352.8 916.9,352.8 917.9,352.9 918.9,352.9 919.9,352.9 920.9,352.9 921.9,352.9 922.9,352.9 923.9,352.8 924.9,352.8 925.9,352.6 926.9,352.4 927.9,352.1 928.9,351.7 929.9,351.2 930.9,350.6 931.9,350.0 932.9,349.5 933.9,348.9 934.9,348.4 935.9,347.8 936.9,347.2 937.9,346.7 938.9,346.3 939.9,346.0 940.9,345.7 941.9,345.6 942.9,345.5 943.9,345.3 944.9,345.2 945.9,345.1 946.9,345.0 947.9,344.8 948.9,344.7 949.9,344.6 950.9,344.5 951.9,344.3 952.9,344.2 953.9,344.1 954.9,344.0 955.9,343.8 956.9,343.8 957.9,343.9 958.9,344.1 959.9,344.4 960.9,344.9 961.9,345.3 962.9,345.8 963.9,346.3 964.9,346.7 965.9,347.2 966.9,347.7 967.9,348.1 968.9,348.6 969.9,349.1 970.9,349.4 971.9,349.7 972.9,349.7 973.9,349.7 974.9,349.5 975.9,349.2 976.9,349.0 977.9,348.9 978.9,348.8 979.9,348.8 980.9,348.9 981.9,349.0 982.9,349.1 983.9,349.2 984.9,349.7 985.9,350.4 986.9,351.6 987.9,353.0 988.9,354.9 989.9,356.7 990.9,358.5 991.9,360.3 992.9,362.0 993.9,363.8 994.9,365.5 995.9,367.1 996.9,368.8 997.9,370.5 998.9,372.1 999.9,373.8 1000.9,375.2 1001.9,376.6 1002.9,377.8 1003.9,378.9 1004.9,379.9 1005.9,380.9 1006.9,381.9 1007.9,382.9 1008.9,383.8 1009.9,384.4 1010.9,384.7 1011.9,384.8 1012.9,384.6 1013.9,384.3 1014.9,384.0 1015.9,383.6 1016.9,383.3 1017.9,382.3 1018.9,380.3 1019.9,377.2 1020.9,373.1 1021.9,368.0 1022.9,362.5 1023.9,357.3 1024.9,352.5 1025.9,348.1 1026.9,344.1 1027.9,340.5 1028.9,337.0 1029.9,333.3 1030.9,329.5 1031.9,325.4 1032.9,321.1 1033.9,316.7 1034.9,312.2 1035.9,307.5 1036.9,302.8 1037.9,298.0 1038.9,293.4 1039.9,289.1 1040.9,285.3 1041.9,281.9 1042.9,278.8 1043.9,275.9 1044.9,272.9 1045.9,270.1 1046.9,267.3 1047.9,264.7 1048.9,262.2 1049.9,259.7 1050.9,257.3 1051.9,254.8 1052.9,252.4 1053.9,249.7 1054.9,246.4 1055.9,242.3 1056.9,237.5 1057.9,232.0 1058.9,226.0 1059.9,220.0 1060.9,214.6 1061.9,210.1 1062.9,206.4 1063.9,203.4 1064.9,201.3 1065.9,199.3 1066.9,197.3 1067.9,195.3 1068.9,193.3 1069.9,191.5 1070.9,190.0 1071.9,188.6 1072.9,187.6 1073.9,186.8 1074.9,186.0 1075.9,185.3 1076.9,184.5 1077.9,183.8 1078.9,183.0 1079.9,182.3 1080.9,181.6 1081.9,181.0 1082.9,180.4 1083.9,179.9 1084.9,179.4 1085.9,178.9 1086.9,178.4 1087.9,177.9 1088.9,177.4 1089.9,176.9 1090.9,176.3 1091.9,175.7 1092.9,175.1 1093.9,174.4 1094.9,173.7 1095.9,173.0 1096.9,172.4 1097.9,172.1 1098.9,172.1 1099.9,172.3 1100.9,172.8 1101.9,173.4 1102.9,174.0 1103.9,174.6 1104.9,175.4 1105.9,176.6 1106.9,178.1 1107.9,179.9 1108.9,182.1 1109.9,184.3 1110.9,186.4 1111.9,188.3 1112.9,190.1 1113.9,191.7 1114.9,193.1 1115.9,194.3 1116.9,195.4 1117.9,196.4 1118.9,197.3 1119.9,198.1 1120.9,198.8 1121.9,199.5 1122.9,200.2 1123.9,200.9 1124.9,201.6 1125.9,202.3 1126.9,202.9 1127.9,203.3 1128.9,203.6 1129.9,203.7 1130.9,203.7 1131.9,203.6 1132.9,203.5 1133.9,203.5 1134.9,203.4 1135.9,203.3 1136.9,203.2 1137.9,203.0 1138.9,202.8 1139.9,202.4 1140.9,202.0 1141.9,201.5 1142.9,201.1 1143.9,200.6 1144.9,200.2 1145.9,199.7 1146.9,199.2 1147.9,198.8 1148.9,198.3 1149.9,197.9 1150.9,197.6 1151.9,197.3 1152.9,197.1 1153.9,197.0 1154.9,197.0 1155.9,196.9 1156.9,196.9 1157.9,196.8 1158.9,196.8 1159.9,196.7 1160.9,196.7 1161.9,196.7 1162.9,196.7 1163.9,196.8 1164.9,196.9 1165.9,196.9 1166.9,197.0 1167.9,197.1 1168.9,197.1 1169.9,197.2 1170.9,197.3 1171.9,197.4 1172.9,197.4 1173.9,197.5 1174.9,197.6 1175.9,197.6 1176.9,197.7 1177.9,197.8 1178.9,198.0 1179.9,198.2 1180.9,198.6 1181.9,199.2 1182.9,199.8 1183.9,200.4 1184.9,201.0 1185.9,201.7 1186.9,202.3 1187.9,202.9 1188.9,203.7 1189.9,204.8 1190.9,206.1 1191.9,207.7 1192.9,209.6 1193.9,211.6 1194.9,213.6 1195.9,215.6 1196.9,217.6 1197.9,219.5 1198.9,221.5 1199.9,223.4 1200.9,225.3 1201.9,227.1 1202.9,229.0 1203.9,230.9 1204.9,232.8 1205.9,234.6 1206.9,236.4 1207.9,238.1 1208.9,239.6 1209.9,241.0 1210.9,242.2 1211.9,243.3 1212.9,244.5 1213.9,245.6 1214.9,246.8 1215.9,247.8 1216.9,248.4 1217.5,248.9" fill="none" stroke="#8c8a1e" stroke-width="1.4" stroke-linejoin="round"/>
<polyline points="5.0,450.3 7.8,450.6 8.8,450.8 9.8,451.3 10.8,451.8 11.8,452.3 12.8,452.8 13.8,453.1 14.8,453.4 15.8,453.7 16.8,453.9 17.8,454.1 18.8,454.3 19.8,454.5 20.8,454.6 21.8,454.6 22.8,454.4 23.8,454.1 24.8,453.7 25.8,453.2 26.8,452.7 27.8,452.2 28.8,451.7 29.8,451.2 30.8,450.5 31.8,449.2 32.8,447.5 33.8,445.2 34.8,442.4 35.8,439.2 36.8,436.1 37.8,432.9 38.8,429.8 39.8,426.6 40.8,423.5 41.8,420.4 42.8,417.2 43.8,414.1 44.8,411.1 45.8,408.0 46.8,405.0 47.8,402.0 48.8,399.0 49.8,396.1 50.8,393.3 51.8,390.6 52.8,388.1 53.8,385.7 54.8,383.4 55.8,381.1 56.8,378.7 57.8,376.4 58.8,374.1 59.8,371.8 60.8,369.7 61.8,367.9 62.8,366.3 63.8,364.9 64.8,363.6 65.8,362.2 66.8,360.5 67.8,358.4 68.8,356.0 69.8,353.2 70.8,350.3 71.8,347.5 72.8,344.9 73.8,342.5 74.8,340.1 75.8,337.8 76.8,335.4 77.8,333.1 78.8,330.8 79.8,328.4 80.8,326.4 81.8,324.8 82.8,323.7 83.8,323.1 84.8,322.9 85.8,323.0 86.8,323.0 87.8,323.0 88.8,323.1 89.8,323.2 90.8,323.4 91.8,323.6 92.8,324.0 93.8,324.6 94.8,325.2 95.8,325.8 96.8,326.5 97.8,327.1 98.8,327.8 99.8,328.5 100.8,329.2 101.8,330.0 102.8,330.8 103.8,331.6 104.8,332.5 105.8,333.5 106.8,334.6 107.8,335.8 108.8,337.1 109.8,338.3 110.8,339.6 111.8,340.8 112.8,342.1 113.8,343.3 114.8,344.6 115.8,345.8 116.8,347.0 117.8,348.0 118.8,348.7 119.8,349.1 120.8,349.2 121.8,349.1 122.8,348.9 123.8,348.7 124.8,348.1 125.8,347.2 126.8,346.0 127.8,344.5 128.8,342.9 129.8,341.5 130.8,340.4 131.8,339.6 132.8,339.1 133.8,338.9 134.8,338.8 135.8,338.6 136.8,338.4 137.8,338.3 138.8,338.1 139.8,338.1 140.8,338.1 141.8,338.1 142.8,338.3 143.8,338.4 144.8,338.6 145.8,338.8 146.8,339.0 147.8,339.2 148.8,339.4 149.8,339.6 150.8,339.9 151.8,340.4 152.8,341.1 153.8,342.0 154.8,343.1 155.8,344.4 156.8,345.6 157.8,346.9 158.8,348.1 159.8,349.3 160.8,350.3 161.8,351.2 162.8,351.9 163.8,352.5 164.8,353.0 165.8,353.5 166.8,354.0 167.8,354.5 168.8,355.0 169.8,355.5 170.8,356.0 171.8,356.3 172.8,356.6 173.8,356.7 174.8,356.7 175.8,356.7 176.8,356.6 177.8,356.5 178.8,356.5 179.8,356.4 180.8,356.3 181.8,356.3 182.8,356.2 183.8,356.2 184.8,356.1 185.8,356.0 186.8,356.0 187.8,355.9 188.8,355.8 189.8,355.4 190.8,354.8 191.8,354.0 192.8,352.9 193.8,351.8 194.8,350.6 195.8,349.4 196.8,348.3 197.8,347.1 198.8,345.9 199.8,344.8 200.8,343.6 201.8,342.4 202.8,341.0 203.8,339.3 204.8,337.4 205.8,335.1 206.8,332.6 207.8,330.1 208.8,327.6 209.8,325.1 210.8,322.6 211.8,320.3 212.8,318.2 213.8,316.4 214.8,314.7 215.8,313.2 216.8,311.7 217.8,310.2 218.8,308.7 219.8,307.2 220.8,305.7 221.8,304.2 222.8,302.8 223.8,301.4 224.8,300.0 225.8,298.6 226.8,297.2 227.8,295.8 228.8,294.4 229.8,293.0 230.8,291.6 231.8,290.1 232.8,288.4 233.8,286.7 234.8,284.8 235.8,282.8 236.8,280.8 237.8,278.8 238.8,276.8 239.8,275.1 240.8,273.9 241.8,273.2 242.8,273.2 243.8,273.7 244.8,274.5 245.8,275.3 246.8,276.1 247.8,276.8 248.8,277.5 249.8,278.2 250.8,278.8 251.8,279.3 252.8,279.8 253.8,280.2 254.8,280.5 255.8,280.7 256.8,280.7 257.8,280.6 258.8,280.4 259.8,280.2 260.8,280.0 261.8,279.8 262.8,279.5 263.8,279.2 264.8,278.7 265.8,278.2 266.8,277.7 267.8,277.2 268.8,276.6 269.8,276.1 270.8,275.5 271.8,275.0 272.8,274.4 273.8,273.8 274.8,273.3 275.8,272.7 276.8,272.1 277.8,271.8 278.8,271.9 279.8,272.6 280.8,273.8 281.8,275.6 282.8,277.6 283.8,279.7 284.8,281.8 285.8,283.8 286.8,285.4 287.8,286.5 288.8,287.3 289.8,287.6 290.8,287.5 291.8,287.4 292.8,287.3 293.8,287.3 294.8,287.2 295.8,287.2 296.8,287.3 297.8,287.3 298.8,287.4 299.8,287.5 300.8,287.5 301.8,287.5 302.8,287.2 303.8,286.8 304.8,286.2 305.8,285.4 306.8,284.6 307.8,283.8 308.8,283.2 309.8,282.8 310.8,282.5 311.8,282.4 312.8,282.4 313.8,282.4 314.8,282.4 315.8,282.4 316.8,282.4 317.8,282.4 318.8,282.4 319.8,282.4 320.8,282.4 321.8,282.4 322.8,282.4 323.8,282.4 324.8,282.3 325.8,282.1 326.8,281.7 327.8,281.2 328.8,280.6 329.8,279.9 330.8,279.3 331.8,278.7 332.8,278.0 333.8,277.2 334.8,276.4 335.8,275.5 336.8,274.0 337.8,272.0 338.8,269.6 339.8,266.7 340.8,263.5 341.8,260.4 342.8,257.5 343.8,254.8 344.8,252.2 345.8,249.9 346.8,247.5 347.8,245.1 348.8,242.8 349.8,240.7 350.8,238.8 351.8,237.0 352.8,235.4 353.8,234.0 354.8,232.5 355.8,230.9 356.8,229.1 357.8,227.1 358.8,224.9 359.8,222.6 360.8,220.4 361.8,218.1 362.8,215.9 363.8,213.9 364.8,212.0 365.8,210.3 366.8,208.7 367.8,207.1 368.8,205.5 369.8,203.9 370.8,202.4 371.8,201.0 372.8,200.0 373.8,199.5 374.8,199.3 375.8,199.6 376.8,200.0 377.8,200.5 378.8,201.0 379.8,201.4 380.8,201.6 381.8,201.6 382.8,201.5 383.8,201.3 384.8,200.9 385.8,200.6 386.8,200.3 387.8,200.2 388.8,200.4 389.8,200.8 390.8,201.5 391.8,202.3 392.8,203.1 393.8,204.0 394.8,204.8 395.8,205.6 396.8,206.4 397.8,207.1 398.8,207.6 399.8,208.1 400.8,208.4 401.8,208.7 402.8,209.0 403.8,209.2 404.8,209.6 405.8,210.0 406.8,210.6 407.8,211.2 408.8,212.0 409.8,212.8 410.8,213.6 411.8,214.4 412.8,215.4 413.8,216.8 414.8,218.6 415.8,220.9 416.8,223.6 417.8,226.6 418.8,229.6 419.8,232.5 420.8,235.2 421.8,237.7 422.8,240.0 423.8,242.0 424.8,243.8 425.8,245.6 426.8,247.4 427.8,249.1 428.8,250.6 429.8,252.0 430.8,253.2 431.8,254.4 432.8,255.5 433.8,256.6 434.8,257.7 435.8,258.9 436.8,259.7 437.8,260.1 438.8,260.2 439.8,259.9 440.8,259.3 441.8,258.5 442.8,257.8 443.8,257.0 444.8,256.3 445.8,255.6 446.8,255.2 447.8,254.9 448.8,255.0 449.8,255.2 450.8,255.6 451.8,256.4 452.8,257.8 453.8,260.0 454.8,262.9 455.8,267.7 456.8,274.1 457.8,281.9 458.8,290.8 459.8,300.5 460.8,309.6 461.8,318.0 462.8,325.7 463.8,332.6 464.8,339.2 465.8,345.3 466.8,350.7 467.8,355.7 468.8,360.0 469.8,364.0 470.8,368.0 471.8,372.0 472.8,375.9 473.8,379.8 474.8,383.6 475.8,387.3 476.8,390.9 477.8,394.6 478.8,398.4 479.8,402.6 480.8,407.2 481.8,412.2 482.8,417.7 483.8,423.5 484.8,429.4 485.8,435.2 486.8,441.0 487.8,446.7 488.8,452.5 489.8,458.0 490.8,463.4 491.8,468.5 492.8,473.4 493.8,477.7 494.8,481.5 495.8,485.0 496.8,487.8 497.8,490.0 498.8,491.8 499.8,493.2 500.8,494.4 501.8,495.4 502.8,496.5 503.8,497.8 504.8,499.2 505.8,500.8 506.8,502.6 507.8,504.5 508.8,506.3 509.8,508.1 510.8,510.0 511.8,512.0 512.8,514.0 513.8,516.0 514.8,518.0 515.8,520.0 516.8,521.9 517.8,523.3 518.8,524.3 519.8,524.8 520.8,525.0 521.8,525.0 522.8,525.0 523.8,525.0 524.8,525.0 525.8,525.0 526.8,525.0 527.8,524.6 528.8,523.8 529.8,522.6 530.8,521.0 531.8,519.0 532.8,517.0 533.8,515.0 534.8,512.6 535.8,510.0 536.8,507.1 537.8,503.8 538.8,500.3 539.8,496.7 540.8,493.1 541.8,489.5 542.8,485.8 543.8,482.2 544.8,478.4 545.8,474.6 546.8,470.7 547.8,466.9 548.8,463.0 549.8,459.6 550.8,456.9 551.8,455.0 552.8,453.8 553.8,453.3 554.8,453.2 555.8,453.1 556.8,452.9 557.8,452.8 558.8,452.7 559.8,452.6 560.8,452.4 561.8,452.3 562.8,452.3 563.8,452.3 564.8,452.3 565.8,452.3 566.8,452.4 567.8,452.5 568.8,452.5 569.8,452.6 570.8,452.7 571.8,452.9 572.8,453.1 573.8,453.5 574.8,453.9 575.8,454.4 576.8,454.8 577.8,455.3 578.8,455.4 579.8,455.4 580.8,455.0 581.8,454.4 582.8,453.6 583.8,452.9 584.8,452.3 585.8,451.9 586.8,451.7 587.8,451.6 588.8,451.7 589.8,451.7 590.8,451.9 591.8,452.1 592.8,452.4 593.8,452.7 594.8,452.9 595.8,453.2 596.8,453.5 597.8,453.8 598.8,454.1 599.8,454.4 600.8,454.6 601.8,454.9 602.8,455.1 603.8,455.3 604.8,455.5 605.8,455.6 606.8,455.7 607.8,455.8 608.8,455.9 609.8,456.0 610.8,456.1 611.8,456.2 612.8,456.3 613.8,456.4 614.8,456.6 615.8,456.7 616.8,456.9 617.8,457.1 618.8,457.3 619.8,457.5 620.8,457.7 621.8,457.9 622.8,458.1 623.8,458.3 624.8,458.5 625.8,458.7 626.8,458.8 627.8,458.9 628.8,458.9 629.8,458.9 630.8,458.9 631.8,458.9 632.8,458.9 633.8,458.9 634.8,458.9 635.8,458.9 636.8,458.9 637.8,458.9 638.8,458.9 639.8,458.9 640.8,458.9 641.8,459.0 642.8,459.3 643.8,459.8 644.8,460.6 645.8,461.5 646.8,462.7 647.8,463.9 648.8,465.1 649.8,466.3 650.8,467.7 651.8,469.2 652.8,470.8 653.8,472.5 654.8,474.2 655.8,475.9 656.8,477.6 657.8,479.3 658.8,481.0 659.8,482.7 660.8,484.5 661.8,486.3 662.8,488.1 663.8,490.0 664.8,491.6 665.8,493.1 666.8,494.3 667.8,495.4 668.8,496.8 669.8,498.6 670.8,500.9 671.8,503.4 672.8,505.8 673.8,508.0 674.8,510.0 675.8,511.6 676.8,513.3 677.8,515.1 678.8,517.2 679.8,519.7 680.8,522.4 681.8,525.4 682.8,528.4 683.8,531.2 684.8,533.9 685.8,536.3 686.8,538.3 687.8,540.1 688.8,541.6 689.8,542.9 690.8,544.0 691.8,545.1 692.8,546.1 693.8,547.1 694.8,547.9 695.8,548.7 696.8,549.2 697.8,549.6 698.8,549.9 699.8,550.0 700.8,549.8 701.8,549.3 702.8,548.5 703.8,547.6 704.8,546.4 705.8,545.3 706.8,544.2 707.8,543.1 708.8,542.0 709.8,541.0 710.8,540.3 711.8,539.7 712.8,539.4 713.8,539.2 714.8,539.1 715.8,539.0 716.8,538.9 717.8,538.9 718.8,538.7 719.8,538.4 720.8,537.9 721.8,537.2 722.8,536.3 723.8,535.4 724.8,534.4 725.8,533.6 726.8,532.9 727.8,532.4 728.8,532.1 729.8,531.9 730.8,531.8 731.8,531.7 732.8,531.6 733.8,531.4 734.8,531.2 735.8,530.9 736.8,530.6 737.8,530.3 738.8,530.1 739.8,529.9 740.8,529.8 741.8,529.8 742.8,529.8 743.8,529.8 744.8,529.8 745.8,529.8 746.8,529.8 747.8,529.8 748.8,529.8 749.8,529.8 750.8,529.8 751.8,529.8 752.8,530.0 753.8,530.2 754.8,530.6 755.8,531.1 756.8,531.5 757.8,531.8 758.8,531.9 759.8,531.9 760.8,531.6 761.8,531.2 762.8,530.6 763.8,529.8 764.8,528.9 765.8,527.8 766.8,526.7 767.8,525.6 768.8,524.5 769.8,523.4 770.8,522.3 771.8,521.1 772.8,519.6 773.8,517.8 774.8,515.8 775.8,513.5 776.8,511.1 777.8,508.7 778.8,506.3 779.8,504.1 780.8,502.3 781.8,500.7 782.8,499.3 783.8,498.3 784.8,497.3 785.8,496.3 786.8,495.4 787.8,494.4 788.8,493.5 789.8,492.7 790.8,492.1 791.8,491.7 792.8,491.5 793.8,491.5 794.8,491.6 795.8,491.6 796.8,491.7 797.8,491.8 798.8,491.8 799.8,491.9 800.8,491.9 801.8,492.0 802.8,492.0 803.8,492.1 804.8,492.1 805.8,492.2 806.8,492.2 807.8,492.3 808.8,492.3 809.8,492.4 810.8,492.4 811.8,492.5 812.8,492.7 813.8,493.1 814.8,493.5 815.8,494.0 816.8,494.6 817.8,495.2 818.8,495.8 819.8,496.4 820.8,496.9 821.8,497.5 822.8,498.1 823.8,498.7 824.8,499.3 825.8,499.8 826.8,500.3 827.8,500.6 828.8,500.9 829.8,501.0 830.8,501.1 831.8,501.2 832.8,501.3 833.8,501.4 834.8,501.5 835.8,501.6 836.8,501.7 837.8,501.9 838.8,502.2 839.8,502.6 840.8,503.2 841.8,503.8 842.8,504.6 843.8,505.1 844.8,505.4 845.8,505.6 846.8,505.5 847.8,505.2 848.8,504.9 849.8,504.5 850.8,504.2 851.8,503.9 852.8,503.6 853.8,503.3 854.8,503.0 855.8,502.8 856.8,502.5 857.8,502.3 858.8,502.0 859.8,501.7 860.8,501.5 861.8,501.2 862.8,501.0 863.8,500.7 864.8,500.5 865.8,500.2 866.8,499.9 867.8,499.5 868.8,498.8 869.8,498.1 870.8,497.2 871.8,496.1 872.8,495.1 873.8,494.1 874.8,493.1 875.8,492.0 876.8,491.0 877.8,490.0 878.8,489.0 879.8,487.9 880.8,486.9 881.8,485.9 882.8,484.9 883.8,483.8 884.8,482.8 885.8,481.8 886.8,480.6 887.8,479.3 888.8,477.9 889.8,476.4 890.8,474.8 891.8,473.3 892.8,471.7 893.8,470.1 894.8,468.6 895.8,467.0 896.8,465.5 897.8,463.9 898.8,462.3 899.8,460.8 900.8,459.2 901.8,457.6 902.8,456.1 903.8,454.5 904.8,453.1 905.8,451.8 906.8,450.7 907.8,449.8 908.8,449.1 909.8,448.5 910.8,447.9 911.8,447.3 912.8,446.6 913.8,446.0 914.8,445.5 915.8,445.0 916.8,444.5 917.8,444.1 918.8,443.8 919.8,443.5 920.8,443.1 921.8,442.8 922.8,442.5 923.8,442.1 924.8,442.1 925.8,442.5 926.8,443.3 927.8,444.6 928.8,446.2 929.8,447.8 930.8,449.2 931.8,450.4 932.8,451.4 933.8,452.4 934.8,453.4 935.8,454.4 936.8,455.4 937.8,456.4 938.8,457.4 939.8,458.4 940.8,459.2 941.8,459.8 942.8,460.2 943.8,460.4 944.8,460.6 945.8,460.7 946.8,460.8 947.8,460.9 948.8,461.1 949.8,461.1 950.8,461.1 951.8,460.9 952.8,460.6 953.8,460.3 954.8,459.9 955.8,459.5 956.8,459.2 957.8,458.8 958.8,458.5 959.8,458.3 960.8,458.3 961.8,458.5 962.8,458.8 963.8,459.3 964.8,459.7 965.8,460.2 966.8,460.8 967.8,461.6 968.8,462.6 969.8,463.7 970.8,464.9 971.8,466.1 972.8,467.5 973.8,469.1 974.8,470.8 975.8,472.6 976.8,474.5 977.8,476.3 978.8,478.1 979.8,479.8 980.8,481.5 981.8,483.2 982.8,484.8 983.8,486.5 984.8,488.0 985.8,489.2 986.8,490.3 987.8,491.1 988.8,491.6 989.8,491.9 990.8,492.0 991.8,492.0 992.8,491.8 993.8,491.5 994.8,491.3 995.8,491.0 996.8,490.7 997.8,490.4 998.8,490.0 999.8,489.6 1000.8,489.3 1001.8,489.1 1002.8,489.0 1003.8,489.0 1004.8,489.0 1005.8,489.0 1006.8,489.1 1007.8,489.1 1008.8,489.1 1009.8,489.2 1010.8,489.2 1011.8,489.2 1012.8,489.3 1013.8,489.3 1014.8,489.4 1015.8,489.5 1016.8,489.7 1017.8,490.0 1018.8,490.4 1019.8,491.2 1020.8,492.5 1021.8,494.1 1022.8,495.9 1023.8,497.7 1024.8,499.4 1025.8,500.8 1026.8,501.9 1027.8,503.1 1028.8,504.2 1029.8,505.4 1030.8,506.7 1031.8,508.1 1032.8,509.7 1033.8,511.7 1034.8,514.1 1035.8,516.7 1036.8,519.4 1037.8,521.9 1038.8,524.0 1039.8,525.7 1040.8,527.0 1041.8,528.0 1042.8,528.8 1043.8,529.6 1044.8,530.3 1045.8,530.8 1046.8,531.3 1047.8,531.8 1048.8,532.3 1049.8,532.8 1050.8,533.4 1051.8,534.2 1052.8,535.0 1053.8,536.1 1054.8,537.4 1055.8,538.8 1056.8,540.1 1057.8,541.3 1058.8,542.1 1059.8,542.7 1060.8,543.0 1061.8,542.7 1062.8,542.0 1063.8,540.8 1064.8,539.1 1065.8,537.0 1066.8,534.9 1067.8,532.8 1068.8,530.4 1069.8,527.8 1070.8,524.9 1071.8,521.8 1072.8,518.4 1073.8,515.0 1074.8,511.4 1075.8,507.8 1076.8,503.9 1077.8,499.9 1078.8,495.9 1079.8,491.7 1080.8,487.6 1081.8,483.6 1082.8,479.7 1083.8,476.0 1084.8,472.4 1085.8,469.0 1086.8,465.7 1087.8,462.5 1088.8,459.2 1089.8,455.8 1090.8,452.2 1091.8,448.4 1092.8,444.4 1093.8,440.4 1094.8,436.4 1095.8,432.4 1096.8,428.4 1097.8,424.4 1098.8,420.4 1099.8,416.3 1100.8,411.6 1101.8,406.4 1102.8,400.6 1103.8,394.2 1104.8,387.3 1105.8,380.4 1106.8,373.4 1107.8,366.4 1108.8,359.4 1109.8,352.6 1110.8,346.2 1111.8,340.1 1112.8,335.0 1113.8,330.9 1114.8,327.5 1115.8,324.8 1116.8,322.7 1117.8,320.6 1118.8,318.5 1119.8,316.3 1120.8,314.0 1121.8,311.7 1122.8,309.5 1123.8,307.2 1124.8,305.0 1125.8,302.7 1126.8,300.8 1127.8,299.3 1128.8,298.2 1129.8,297.6 1130.8,297.3 1131.8,297.2 1132.8,297.1 1133.8,296.9 1134.8,296.8 1135.8,296.7 1136.8,296.6 1137.8,296.8 1138.8,297.1 1139.8,297.6 1140.8,298.4 1141.8,299.2 1142.8,300.0 1143.8,300.9 1144.8,301.8 1145.8,302.9 1146.8,304.2 1147.8,305.6 1148.8,307.2 1149.8,308.9 1150.8,310.5 1151.8,312.2 1152.8,313.8 1153.8,315.4 1154.8,316.8 1155.8,318.2 1156.8,319.6 1157.8,320.9 1158.8,322.3 1159.8,323.6 1160.8,324.6 1161.8,325.4 1162.8,325.9 1163.8,326.2 1164.8,326.2 1165.8,326.2 1166.8,326.2 1167.8,326.2 1168.8,326.2 1169.8,326.2 1170.8,326.2 1171.8,326.2 1172.8,326.2 1173.8,326.4 1174.8,326.8 1175.8,327.5 1176.8,328.3 1177.8,329.3 1178.8,330.3 1179.8,331.3 1180.8,332.3 1181.8,333.3 1182.8,334.3 1183.8,335.3 1184.8,336.5 1185.8,337.7 1186.8,339.0 1187.8,340.3 1188.8,341.7 1189.8,343.0 1190.8,344.4 1191.8,345.8 1192.8,346.9 1193.8,347.7 1194.8,348.2 1195.8,348.4 1196.8,348.2 1197.8,347.9 1198.8,347.6 1199.8,347.3 1200.8,347.0 1201.8,346.7 1202.8,346.5 1203.8,346.2 1204.8,345.9 1205.8,345.7 1206.8,345.5 1207.8,345.4 1208.8,345.3 1209.8,345.1 1210.8,345.0 1211.8,344.9 1212.8,344.8 1213.8,344.7 1214.8,344.6 1215.8,344.5 1216.8,344.4 1217.5,344.4" fill="none" stroke="#8c8a1e" stroke-width="1.4" stroke-linejoin="round"/>
<circle cx="17.6" cy="340.9" r="2.6" fill="#ff0000"/>
<circle cx="27.7" cy="330.8" r="2.6" fill="#ff0000"/>
<circle cx="35.1" cy="318.4" r="2.6" fill="#ff0000"/>
<circle cx="43.9" cy="305.7" r="2.6" fill="#ff0000"/>
<circle cx="55.2" cy="295.9" r="2.6" fill="#ff0000"/>
<circle cx="67.6" cy="286.0" r="2.6" fill="#ff0000"/>
<circle cx="80.3" cy="278.2" r="2.6" fill="#ff0000"/>
<circle cx="92.7" cy="278.2" r="2.6" fill="#ff0000"/>
<circle cx="105.2" cy="288.1" r="2.6" fill="#ff0000"/>
<circle cx="116.4" cy="294.5" r="2.6" fill="#ff0000"/>
<circle cx="129.0" cy="304.6" r="2.6" fill="#ff0000"/>
<circle cx="141.2" cy="305.4" r="2.6" fill="#ff0000"/>
<circle cx="153.9" cy="300.5" r="2.6" fill="#ff0000"/>
<circle cx="166.5" cy="293.1" r="2.6" fill="#ff0000"/>
<circle cx="178.8" cy="286.8" r="2.6" fill="#ff0000"/>
<circle cx="191.5" cy="279.7" r="2.6" fill="#ff0000"/>
<circle cx="203.9" cy="266.9" r="2.6" fill="#ff0000"/>
<circle cx="213.9" cy="254.6" r="2.6" fill="#ff0000"/>
<circle cx="225.1" cy="242.1" r="2.6" fill="#ff0000"/>
<circle cx="236.5" cy="232.0" r="2.6" fill="#ff0000"/>
<circle cx="249.1" cy="230.4" r="2.6" fill="#ff0000"/>
<circle cx="261.6" cy="232.0" r="2.6" fill="#ff0000"/>
<circle cx="273.7" cy="225.6" r="2.6" fill="#ff0000"/>
<circle cx="285.3" cy="214.5" r="2.6" fill="#ff0000"/>
<circle cx="297.7" cy="205.8" r="2.6" fill="#ff0000"/>
<circle cx="310.0" cy="198.4" r="2.6" fill="#ff0000"/>
<circle cx="322.4" cy="191.0" r="2.6" fill="#ff0000"/>
<circle cx="333.8" cy="182.3" r="2.6" fill="#ff0000"/>
<circle cx="341.2" cy="169.5" r="2.6" fill="#ff0000"/>
<circle cx="346.1" cy="157.1" r="2.6" fill="#ff0000"/>
<circle cx="354.8" cy="144.5" r="2.6" fill="#ff0000"/>
<circle cx="367.7" cy="134.6" r="2.6" fill="#ff0000"/>
<circle cx="380.0" cy="135.8" r="2.6" fill="#ff0000"/>
<circle cx="392.4" cy="134.6" r="2.6" fill="#ff0000"/>
<circle cx="404.5" cy="137.0" r="2.6" fill="#ff0000"/>
<circle cx="416.4" cy="143.1" r="2.6" fill="#ff0000"/>
<circle cx="428.6" cy="151.8" r="2.6" fill="#ff0000"/>
<circle cx="436.4" cy="164.3" r="2.6" fill="#ff0000"/>
<circle cx="445.1" cy="177.0" r="2.6" fill="#ff0000"/>
<circle cx="453.8" cy="189.5" r="2.6" fill="#ff0000"/>
<circle cx="458.8" cy="202.0" r="2.6" fill="#ff0000"/>
<circle cx="465.1" cy="214.7" r="2.6" fill="#ff0000"/>
<circle cx="470.3" cy="227.2" r="2.6" fill="#ff0000"/>
<circle cx="475.3" cy="239.7" r="2.6" fill="#ff0000"/>
<circle cx="480.0" cy="251.9" r="2.6" fill="#ff0000"/>
<circle cx="485.2" cy="264.4" r="2.6" fill="#ff0000"/>
<circle cx="490.3" cy="277.1" r="2.6" fill="#ff0000"/>
<circle cx="493.7" cy="289.3" r="2.6" fill="#ff0000"/>
<circle cx="498.8" cy="301.9" r="2.6" fill="#ff0000"/>
<circle cx="505.0" cy="314.6" r="2.6" fill="#ff0000"/>
<circle cx="510.1" cy="327.1" r="2.6" fill="#ff0000"/>
<circle cx="516.4" cy="339.4" r="2.6" fill="#ff0000"/>
<circle cx="522.6" cy="351.8" r="2.6" fill="#ff0000"/>
<circle cx="527.7" cy="364.3" r="2.6" fill="#ff0000"/>
<circle cx="532.4" cy="376.6" r="2.6" fill="#ff0000"/>
<circle cx="540.0" cy="389.5" r="2.6" fill="#ff0000"/>
<circle cx="550.1" cy="402.0" r="2.6" fill="#ff0000"/>
<circle cx="562.6" cy="405.6" r="2.6" fill="#ff0000"/>
<circle cx="575.3" cy="410.3" r="2.6" fill="#ff0000"/>
<circle cx="587.7" cy="410.5" r="2.6" fill="#ff0000"/>
<circle cx="600.0" cy="413.0" r="2.6" fill="#ff0000"/>
<circle cx="612.5" cy="413.0" r="2.6" fill="#ff0000"/>
<circle cx="625.2" cy="411.8" r="2.6" fill="#ff0000"/>
<circle cx="637.7" cy="416.5" r="2.6" fill="#ff0000"/>
<circle cx="650.2" cy="425.5" r="2.6" fill="#ff0000"/>
<circle cx="662.4" cy="434.4" r="2.6" fill="#ff0000"/>
<circle cx="674.9" cy="442.0" r="2.6" fill="#ff0000"/>
<circle cx="686.5" cy="454.7" r="2.6" fill="#ff0000"/>
<circle cx="699.0" cy="462.9" r="2.6" fill="#ff0000"/>
<circle cx="711.2" cy="470.7" r="2.6" fill="#ff0000"/>
<circle cx="723.8" cy="474.2" r="2.6" fill="#ff0000"/>
<circle cx="736.3" cy="477.9" r="2.6" fill="#ff0000"/>
<circle cx="749.0" cy="477.2" r="2.6" fill="#ff0000"/>
<circle cx="761.5" cy="470.9" r="2.6" fill="#ff0000"/>
<circle cx="773.7" cy="465.5" r="2.6" fill="#ff0000"/>
<circle cx="786.2" cy="460.7" r="2.6" fill="#ff0000"/>
<circle cx="798.7" cy="460.7" r="2.6" fill="#ff0000"/>
<circle cx="811.4" cy="461.9" r="2.6" fill="#ff0000"/>
<circle cx="823.9" cy="458.4" r="2.6" fill="#ff0000"/>
<circle cx="836.4" cy="452.0" r="2.6" fill="#ff0000"/>
<circle cx="848.8" cy="446.9" r="2.6" fill="#ff0000"/>
<circle cx="861.5" cy="444.4" r="2.6" fill="#ff0000"/>
<circle cx="872.8" cy="433.1" r="2.6" fill="#ff0000"/>
<circle cx="883.9" cy="422.0" r="2.6" fill="#ff0000"/>
<circle cx="895.2" cy="410.7" r="2.6" fill="#ff0000"/>
<circle cx="907.4" cy="399.6" r="2.6" fill="#ff0000"/>
<circle cx="919.9" cy="396.6" r="2.6" fill="#ff0000"/>
<circle cx="932.6" cy="398.2" r="2.6" fill="#ff0000"/>
<circle cx="945.1" cy="402.0" r="2.6" fill="#ff0000"/>
<circle cx="957.6" cy="399.6" r="2.6" fill="#ff0000"/>
<circle cx="970.3" cy="405.5" r="2.6" fill="#ff0000"/>
<circle cx="982.6" cy="416.8" r="2.6" fill="#ff0000"/>
<circle cx="995.1" cy="428.2" r="2.6" fill="#ff0000"/>
<circle cx="1007.4" cy="434.6" r="2.6" fill="#ff0000"/>
<circle cx="1020.1" cy="433.2" r="2.6" fill="#ff0000"/>
<circle cx="1030.1" cy="420.8" r="2.6" fill="#ff0000"/>
<circle cx="1037.8" cy="408.1" r="2.6" fill="#ff0000"/>
<circle cx="1045.1" cy="395.8" r="2.6" fill="#ff0000"/>
<circle cx="1055.1" cy="383.4" r="2.6" fill="#ff0000"/>
<circle cx="1061.3" cy="370.7" r="2.6" fill="#ff0000"/>
<circle cx="1066.3" cy="358.4" r="2.6" fill="#ff0000"/>
<circle cx="1072.8" cy="345.7" r="2.6" fill="#ff0000"/>
<circle cx="1077.7" cy="333.2" r="2.6" fill="#ff0000"/>
<circle cx="1084.0" cy="320.5" r="2.6" fill="#ff0000"/>
<circle cx="1090.0" cy="308.2" r="2.6" fill="#ff0000"/>
<circle cx="1095.2" cy="295.8" r="2.6" fill="#ff0000"/>
<circle cx="1101.3" cy="283.3" r="2.6" fill="#ff0000"/>
<circle cx="1107.7" cy="270.8" r="2.6" fill="#ff0000"/>
<circle cx="1114.1" cy="258.2" r="2.6" fill="#ff0000"/>
<circle cx="1126.3" cy="250.7" r="2.6" fill="#ff0000"/>
<circle cx="1139.0" cy="248.2" r="2.6" fill="#ff0000"/>
<circle cx="1151.4" cy="254.5" r="2.6" fill="#ff0000"/>
<circle cx="1164.0" cy="259.5" r="2.6" fill="#ff0000"/>
<circle cx="1176.3" cy="261.0" r="2.6" fill="#ff0000"/>
<circle cx="1188.0" cy="272.0" r="2.6" fill="#ff0000"/>
<circle cx="1198.9" cy="284.6" r="2.6" fill="#ff0000"/>
<circle cx="1211.5" cy="293.5" r="2.6" fill="#ff0000"/>
<rect x="7.5" y="8" width="811" height="18" fill="#ffffff"/>
<text x="11.8" y="21.9" font-family="Liberation Sans, sans-serif" font-size="14" fill="#0a0a78" textLength="227.4" lengthAdjust="spacingAndGlyphs">EUR/ZAR Spot [EURZAR FXD Täglich]</text>
<text x="244.5" y="21.9" font-family="Liberation Sans, sans-serif" font-size="14" fill="#000000" textLength="72.2" lengthAdjust="spacingAndGlyphs">03.08.2018</text>
<text x="320.5" y="21.9" font-family="Liberation Sans, sans-serif" font-size="14" fill="#000000" textLength="5.0" lengthAdjust="spacingAndGlyphs">-</text>
<text x="330.4" y="21.9" font-family="Liberation Sans, sans-serif" font-size="14" fill="#10b810" textLength="65.6" lengthAdjust="spacingAndGlyphs">O:15,5829</text>
<text x="401.1" y="21.9" font-family="Liberation Sans, sans-serif" font-size="14" fill="#000000" textLength="65.1" lengthAdjust="spacingAndGlyphs">H:15,6483</text>
<text x="471.8" y="21.9" font-family="Liberation Sans, sans-serif" font-size="14" fill="#000000" textLength="62.6" lengthAdjust="spacingAndGlyphs">L:15,3904</text>
<text x="539.1" y="21.9" font-family="Liberation Sans, sans-serif" font-size="14" fill="#ff0000" textLength="184.9" lengthAdjust="spacingAndGlyphs">C:15,4122 -0,1642 -1,0544%</text>
<circle cx="731.7" cy="16.8" r="2.4" fill="#ff9010"/>
<text x="739.4" y="21.9" font-family="Liberation Sans, sans-serif" font-size="14" fill="#ff9010" textLength="77.2" lengthAdjust="spacingAndGlyphs">15 min delay</text>
<line x1="105.7" y1="605" x2="105.7" y2="767" stroke="#c4c4c0" stroke-width="1.3" stroke-dasharray="1.5 6"/>
<line x1="204.3" y1="605" x2="204.3" y2="767" stroke="#c4c4c0" stroke-width="1.3" stroke-dasharray="1.5 6"/>
<line x1="307.0" y1="605" x2="307.0" y2="767" stroke="#c4c4c0" stroke-width="1.3" stroke-dasharray="1.5 6"/>
<line x1="410.5" y1="605" x2="410.5" y2="767" stroke="#c4c4c0" stroke-width="1.3" stroke-dasharray="1.5 6"/>
<line x1="504.4" y1="605" x2="504.4" y2="767" stroke="#c4c4c0" stroke-width="1.3" stroke-dasharray="1.5 6"/>
<line x1="606.7" y1="605" x2="606.7" y2="767" stroke="#c4c4c0" stroke-width="1.3" stroke-dasharray="1.5 6"/>
<line x1="700.9" y1="605" x2="700.9" y2="767" stroke="#c4c4c0" stroke-width="1.3" stroke-dasharray="1.5 6"/>
<line x1="804.7" y1="605" x2="804.7" y2="767" stroke="#c4c4c0" stroke-width="1.3" stroke-dasharray="1.5 6"/>
<line x1="898.4" y1="605" x2="898.4" y2="767" stroke="#c4c4c0" stroke-width="1.3" stroke-dasharray="1.5 6"/>
<line x1="1005.7" y1="605" x2="1005.7" y2="767" stroke="#c4c4c0" stroke-width="1.3" stroke-dasharray="1.5 6"/>
<line x1="1104.6" y1="605" x2="1104.6" y2="767" stroke="#c4c4c0" stroke-width="1.3" stroke-dasharray="1.5 6"/>
<line x1="1207.2" y1="605" x2="1207.2" y2="767" stroke="#c4c4c0" stroke-width="1.3" stroke-dasharray="1.5 6"/>
<line x1="11" y1="612.4" x2="1337" y2="612.4" stroke="#c4c4c0" stroke-width="1.3" stroke-dasharray="1.5 6"/>
<line x1="11" y1="683.5" x2="1337" y2="683.5" stroke="#c4c4c0" stroke-width="1.3" stroke-dasharray="1.5 6"/>
<line x1="11" y1="754.5" x2="1337" y2="754.5" stroke="#c4c4c0" stroke-width="1.3" stroke-dasharray="1.5 6"/>
<line x1="5" y1="641.4" x2="1216" y2="641.4" stroke="#808080" stroke-width="1.2" stroke-dasharray="1.4 1.1"/>
<line x1="5" y1="726.7" x2="1216" y2="726.7" stroke="#808080" stroke-width="1.2" stroke-dasharray="1.4 1.1"/>
<polyline points="6.0,630.0 7.6,628.0 9.9,625.4 12.0,624.0 13.4,625.1 14.5,627.5 16.0,630.0 18.5,632.5 21.4,635.0 24.0,637.1 26.2,638.6 28.1,639.6 30.0,640.1 32.1,639.4 34.1,638.1 36.1,637.1 37.8,636.2 39.4,635.6 41.1,636.1 42.7,637.8 44.3,640.5 46.1,644.1 48.0,648.4 50.0,653.7 52.1,660.1 54.1,668.2 56.1,677.4 58.1,686.1 60.0,694.2 61.9,701.9 64.1,708.2 66.6,712.5 69.4,715.5 72.1,717.2 74.8,717.4 77.6,716.4 80.1,715.2 82.3,713.7 84.2,712.0 86.1,711.2 88.1,711.5 90.0,712.6 92.1,714.2 94.7,716.3 97.4,718.8 100.1,721.2 102.7,723.0 105.2,724.6 108.2,726.2 112.1,728.4 116.5,730.6 120.2,731.2 122.5,729.4 124.3,726.1 126.2,722.2 128.7,718.5 131.4,714.2 134.2,708.2 136.8,699.3 139.4,688.6 142.2,678.1 145.3,668.3 148.7,658.8 152.2,650.1 156.3,642.1 160.5,635.1 164.2,630.0 166.9,627.5 169.1,627.0 171.2,627.6 173.5,629.5 175.8,632.5 178.3,636.1 180.9,640.6 183.6,645.6 186.3,649.1 188.9,649.7 191.6,648.7 194.3,647.7 197.0,647.2 199.7,646.8 202.3,646.1 204.8,644.6 207.2,642.8 209.3,642.5 210.7,644.6 211.9,648.2 213.3,651.1 215.4,652.8 217.8,653.9 220.3,654.1 222.9,653.0 225.6,651.0 228.3,649.1 231.1,647.3 233.8,645.5 236.3,645.1 238.5,645.9 240.4,647.9 242.3,652.1 244.3,659.2 246.4,668.4 248.4,678.1 250.4,688.6 252.4,699.5 254.4,708.2 256.0,713.5 257.6,716.7 259.4,718.2 261.6,718.5 264.0,717.2 266.4,713.2 268.4,705.2 270.4,694.6 272.4,684.1 274.4,674.2 276.5,664.4 279.0,656.1 282.0,649.0 285.3,643.4 289.0,641.1 293.3,643.5 297.8,649.2 302.0,655.1 305.8,661.0 309.2,667.1 312.1,671.1 313.8,671.0 315.0,668.8 317.1,668.1 321.1,671.0 326.0,675.3 330.1,678.1 332.6,678.3 334.4,677.0 336.1,675.1 337.9,673.7 339.7,671.7 342.1,667.1 345.9,657.2 350.4,644.7 354.1,636.1 356.2,633.7 357.4,635.2 359.1,639.1 361.9,645.6 365.2,654.6 368.1,664.1 370.3,673.8 372.2,684.2 374.1,694.1 376.5,704.3 378.9,714.2 381.2,721.2 382.7,723.2 384.1,722.3 386.2,722.2 389.7,724.6 393.9,727.8 398.2,730.2 402.3,730.9 406.3,730.9 410.2,731.2 413.7,732.5 417.0,734.1 420.2,735.2 423.6,735.0 427.0,734.3 430.2,733.8 433.1,734.3 435.7,735.2 438.2,735.2 440.6,733.4 442.8,730.8 445.3,729.2 448.2,729.5 451.4,730.8 454.3,732.2 456.5,733.5 458.4,735.0 460.3,736.2 462.0,737.3 463.7,738.1 466.3,737.8 470.6,735.2 475.8,731.4 480.3,729.2 483.4,729.9 485.9,732.1 488.3,734.2 491.1,735.7 493.9,737.2 496.3,738.2 497.7,738.8 498.7,738.9 500.3,738.2 503.2,736.2 506.8,733.3 510.3,730.2 513.8,726.7 517.2,723.1 520.4,720.2 523.1,719.4 525.6,719.4 528.4,717.2 531.6,711.0 535.1,702.6 538.4,694.1 541.2,686.1 543.7,677.9 546.0,670.1 547.9,662.3 549.4,654.8 551.0,649.1 552.5,645.5 554.0,643.7 556.0,644.1 558.8,646.1 562.2,650.3 566.0,658.1 570.7,672.8 575.9,691.3 580.1,705.2 582.4,710.0 583.8,710.4 585.1,711.2 586.3,714.6 587.4,718.4 589.1,721.2 591.7,721.8 595.0,721.3 598.1,721.2 600.8,723.5 603.3,726.1 606.1,724.2 609.4,712.9 613.0,697.1 616.1,686.1 618.3,685.5 620.1,689.8 622.1,692.1 624.6,688.1 627.4,682.0 630.1,680.1 632.9,686.9 635.6,697.8 638.1,706.2 640.1,708.0 641.8,707.2 644.1,708.2 647.5,713.4 651.4,720.5 655.2,726.2 658.7,729.1 662.1,730.7 665.2,732.2 667.7,734.3 669.9,736.4 672.2,737.8 674.8,738.0 677.5,737.7 680.2,737.8 682.8,739.7 685.4,742.0 688.2,742.2 691.3,740.0 694.7,735.6 698.2,727.2 702.1,712.0 706.2,692.8 710.2,676.1 714.4,663.8 718.6,654.0 722.3,648.1 724.9,647.8 727.0,651.3 729.3,654.5 732.1,655.5 735.1,656.2 738.3,657.1 741.6,659.2 745.0,661.6 748.3,662.1 751.2,657.8 754.0,651.7 757.3,650.1 761.4,656.2 765.9,666.9 770.3,679.1 774.6,693.6 778.7,709.6 782.3,721.2 785.2,725.7 787.7,726.0 790.4,724.2 793.7,720.0 797.3,713.9 800.4,709.2 802.4,708.4 804.0,709.1 806.4,707.2 810.2,700.4 814.7,691.1 819.0,681.1 822.9,670.3 826.6,659.0 830.0,650.1 833.0,645.0 835.6,642.4 838.0,641.1 840.5,640.7 842.8,641.6 845.1,643.1 847.3,644.9 849.5,647.3 852.1,650.1 854.9,654.1 858.0,658.4 862.1,660.1 868.0,656.6 874.8,650.4 880.1,646.1 882.6,645.2 883.6,646.3 885.1,649.1 888.0,654.9 891.3,662.5 894.1,668.1 895.5,670.1 896.4,670.1 898.1,669.1 901.7,666.5 906.1,663.0 910.1,661.1 913.1,661.4 915.6,663.3 918.2,668.1 921.0,677.4 923.8,689.6 926.2,700.1 927.5,707.3 928.5,713.0 930.2,718.2 933.4,723.9 937.4,729.2 941.2,732.2 944.2,732.6 946.9,730.7 950.2,725.2 954.7,712.7 959.8,696.5 964.2,685.1 967.3,682.4 969.8,684.4 972.2,688.1 974.9,692.7 977.6,698.9 980.2,706.2 982.9,715.6 985.5,726.0 988.3,733.2 991.2,735.5 994.2,734.6 997.3,731.2 1000.3,724.1 1003.4,714.5 1006.3,706.2 1009.1,701.0 1011.8,697.0 1014.3,692.1 1016.3,685.3 1018.1,677.6 1020.3,670.1 1023.2,663.4 1026.5,657.0 1030.3,650.1 1034.7,641.5 1039.5,632.5 1044.3,626.0 1049.1,623.5 1053.8,623.6 1058.4,625.0 1062.7,628.2 1066.9,632.8 1070.4,637.1 1072.7,640.1 1074.3,642.8 1076.4,646.1 1079.8,650.8 1083.6,656.1 1086.7,659.6 1088.3,659.8 1089.1,658.2 1090.0,657.1 1090.9,658.1 1091.9,659.6 1094.0,659.1 1098.2,654.2 1103.6,647.2 1108.0,643.1 1110.5,644.0 1112.1,647.6 1114.0,652.1 1116.8,656.3 1119.9,661.3 1123.1,668.1 1126.1,678.2 1129.1,690.1 1132.1,700.1 1134.8,706.7 1137.5,711.6 1140.1,716.2 1142.8,721.4 1145.4,726.4 1148.1,730.2 1150.9,731.7 1153.7,732.1 1156.1,733.2 1157.9,737.1 1159.4,741.8 1161.1,743.2 1163.3,738.6 1165.7,730.7 1168.1,723.2 1170.5,716.7 1172.9,710.6 1175.1,706.2 1177.3,704.1 1179.3,703.7 1181.1,704.1 1182.7,704.5 1184.1,705.6 1186.2,709.2 1189.4,717.8 1193.3,728.9 1197.2,736.2 1200.6,736.6 1204.0,733.2 1207.2,729.2 1210.6,724.8 1213.9,719.8 1216.2,716.2" fill="none" stroke="#a020a0" stroke-width="1.1" stroke-linejoin="round"/>
<polyline points="6.0,617.6 9.0,622.0 12.0,636.1 16.4,658.1 20.0,648.1 24.0,638.1 30.0,630.0 35.7,615.6 38.1,634.0 40.1,648.1 44.1,664.1 48.1,686.1 52.1,704.1 56.1,716.2 59.5,733.2 63.1,714.2 68.1,709.2 73.1,718.2 78.1,709.2 82.1,724.2 87.1,701.1 92.1,716.2 97.1,738.2 101.1,722.2 105.2,740.2 110.2,714.2 115.2,730.2 119.8,747.2 124.2,712.2 128.2,674.1 132.2,675.7 136.2,664.1 140.2,655.1 148.2,644.5 152.2,632.0 157.2,615.6 162.2,618.0 166.2,641.1 172.2,641.1 176.3,646.1 182.3,654.1 185.9,666.1 190.3,625.6 194.3,646.1 199.3,637.1 204.3,652.1 209.3,648.1 213.3,673.1 217.3,660.1 222.3,640.1 228.3,626.0 233.3,636.1 237.3,656.1 241.3,678.1 245.4,716.2 247.4,752.2 252.4,740.2 256.4,726.2 260.4,673.1 265.4,675.1 269.4,653.1 274.2,649.1 279.5,628.0 284.0,625.6 287.0,639.1 293.0,670.1 298.0,670.1 303.0,661.1 307.1,672.1 311.1,679.1 317.1,660.1 322.1,693.1 326.1,673.1 331.1,689.1 335.1,670.1 340.1,633.0 344.1,633.0 349.1,623.0 355.1,625.0 358.1,658.1 363.1,709.2 368.1,709.8 373.1,730.2 378.2,743.2 382.2,720.2 387.2,703.1 391.2,734.2 396.2,744.2 401.2,742.2 405.2,720.2 411.2,720.2 419.2,750.2 425.2,742.2 429.2,710.2 437.2,736.2 442.2,728.2 448.3,742.2 452.3,731.2 457.3,750.2 461.3,732.2 466.3,731.2 475.3,718.2 482.3,740.2 490.3,753.2 494.3,732.2 504.3,715.2 509.3,728.2 514.3,723.2 523.4,699.1 528.4,716.2 531.4,682.1 538.4,670.1 541.7,625.6 546.2,627.5 550.0,638.1 556.0,654.1 560.0,694.1 565.0,683.1 569.0,712.2 574.0,708.2 579.1,734.2 584.1,716.2 588.1,733.2 593.1,716.2 598.1,707.2 603.1,748.2 608.1,718.2 612.1,630.4 617.1,633.0 622.1,738.2 630.1,673.1 636.1,725.2 641.1,725.2 644.1,699.1 649.2,742.2 655.2,738.2 660.2,739.2 665.2,730.2 673.2,746.2 677.2,741.2 681.8,751.2 686.2,742.2 692.2,717.2 697.2,707.2 702.2,664.1 705.8,634.4 710.2,658.1 716.3,658.1 719.3,640.1 724.3,644.1 729.3,671.1 733.3,668.1 738.3,652.1 743.3,669.1 756.3,633.0 761.3,700.1 766.3,718.2 776.3,730.2 782.3,721.2 789.4,718.2 794.4,697.1 799.4,697.1 804.4,713.2 810.0,692.1 814.4,667.1 818.0,639.1 820.0,633.0 823.0,625.6 829.0,637.1 831.6,664.5 837.0,643.1 842.0,642.1 847.1,637.1 855.1,678.1 861.1,678.1 869.1,617.0 878.1,643.1 888.1,700.1 898.1,636.1 903.1,636.1 912.1,697.1 916.2,698.1 924.2,720.2 930.2,749.2 938.2,728.2 944.2,687.1 949.2,727.2 959.2,653.1 971.2,714.2 973.2,738.2 978.2,744.2 982.2,735.2 987.3,743.2 992.3,711.2 997.3,719.2 1000.3,673.1 1010.3,700.1 1015.3,648.1 1019.3,648.1 1024.3,623.6 1029.3,643.1 1038.3,617.0 1042.3,619.0 1048.3,634.0 1053.3,634.0 1057.4,620.0 1066.4,646.1 1071.4,650.1 1075.4,668.1 1080.4,652.1 1085.2,676.6 1090.0,642.1 1094.0,653.1 1104.0,626.0 1109.0,658.1 1113.0,663.1 1118.1,698.1 1123.1,697.1 1132.1,730.2 1137.1,699.1 1142.1,740.2 1150.1,741.2 1160.1,744.2 1165.1,687.1 1174.1,681.1 1184.1,752.2 1188.2,740.2 1194.2,739.2 1202.2,703.1 1207.2,726.2 1212.2,689.1 1217.2,728.2" fill="none" stroke="#108c8c" stroke-width="2.1" stroke-linejoin="round"/>
<g style="mix-blend-mode:multiply">
<rect x="13.8" y="718.7" width="51" height="39" rx="6" fill="#b7b6b5"/>
<rect x="19.5" y="736.3" width="17.1" height="15.2" rx="3" fill="#ffffff"/>
<rect x="26.8" y="739.8" width="3" height="8.4" fill="#b7b6b5"/>
<rect x="37.6" y="736.3" width="21.9" height="15.2" rx="3" fill="#ffffff"/>
<rect x="37.6" y="748.5" width="2" height="3" fill="#ffffff"/>
<rect x="47.1" y="740.3" width="3.8" height="11.2" fill="#b7b6b5"/>
<rect x="67" y="736.3" width="6.2" height="15.2" fill="#b7b6b5"/>
<rect x="67" y="746.8" width="15" height="4.7" fill="#b7b6b5"/>
<rect x="84.2" y="739.5" width="6.6" height="12" fill="#b7b6b5"/>
<rect x="92" y="737" width="22.7" height="14.5" rx="3" fill="#b7b6b5"/>
<rect x="100.5" y="741" width="5.6" height="10.5" fill="#ffffff"/>
<rect x="92" y="747" width="2" height="4.5" fill="#b7b6b5"/>
<rect x="116" y="737" width="18.2" height="14.5" rx="3" fill="#b7b6b5"/>
<rect x="122" y="740.8" width="6" height="3" fill="#ffffff"/>
<rect x="123" y="746.3" width="11.5" height="2" fill="#ffffff"/>
<text x="68" y="731.5" font-family="Liberation Sans, sans-serif" font-size="10" font-weight="bold" fill="#b7b6b5" textLength="66.6" lengthAdjust="spacingAndGlyphs">Tradesignal</text>
</g>
<rect x="1338" y="588.8" width="4" height="1.8" fill="#0a0a6e"/>
<rect x="1338" y="570.1" width="6" height="1.8" fill="#0a0a6e"/>
<rect x="1338" y="551.5" width="4" height="1.8" fill="#0a0a6e"/>
<rect x="1338" y="533.0" width="4" height="1.8" fill="#0a0a6e"/>
<rect x="1338" y="514.6" width="4" height="1.8" fill="#0a0a6e"/>
<rect x="1338" y="496.4" width="4" height="1.8" fill="#0a0a6e"/>
<rect x="1338" y="478.3" width="6" height="1.8" fill="#0a0a6e"/>
<rect x="1338" y="460.3" width="4" height="1.8" fill="#0a0a6e"/>
<rect x="1338" y="442.4" width="4" height="1.8" fill="#0a0a6e"/>
<rect x="1338" y="424.7" width="4" height="1.8" fill="#0a0a6e"/>
<rect x="1338" y="407.1" width="4" height="1.8" fill="#0a0a6e"/>
<rect x="1338" y="389.6" width="6" height="1.8" fill="#0a0a6e"/>
<rect x="1338" y="372.2" width="4" height="1.8" fill="#0a0a6e"/>
<rect x="1338" y="354.9" width="4" height="1.8" fill="#0a0a6e"/>
<rect x="1338" y="337.8" width="4" height="1.8" fill="#0a0a6e"/>
<rect x="1338" y="320.7" width="4" height="1.8" fill="#0a0a6e"/>
<rect x="1338" y="303.8" width="6" height="1.8" fill="#0a0a6e"/>
<rect x="1338" y="287.0" width="4" height="1.8" fill="#0a0a6e"/>
<rect x="1338" y="270.2" width="4" height="1.8" fill="#0a0a6e"/>
<rect x="1338" y="253.6" width="4" height="1.8" fill="#0a0a6e"/>
<rect x="1338" y="237.1" width="4" height="1.8" fill="#0a0a6e"/>
<rect x="1338" y="220.7" width="6" height="1.8" fill="#0a0a6e"/>
<rect x="1338" y="204.4" width="4" height="1.8" fill="#0a0a6e"/>
<rect x="1338" y="188.2" width="4" height="1.8" fill="#0a0a6e"/>
<rect x="1338" y="172.1" width="4" height="1.8" fill="#0a0a6e"/>
<rect x="1338" y="156.1" width="4" height="1.8" fill="#0a0a6e"/>
<rect x="1338" y="140.2" width="6" height="1.8" fill="#0a0a6e"/>
<rect x="1338" y="124.4" width="4" height="1.8" fill="#0a0a6e"/>
<rect x="1338" y="108.7" width="4" height="1.8" fill="#0a0a6e"/>
<rect x="1338" y="93.1" width="4" height="1.8" fill="#0a0a6e"/>
<rect x="1338" y="77.5" width="4" height="1.8" fill="#0a0a6e"/>
<rect x="1338" y="62.1" width="6" height="1.8" fill="#0a0a6e"/>
<rect x="1338" y="46.8" width="4" height="1.8" fill="#0a0a6e"/>
<rect x="1338" y="31.5" width="4" height="1.8" fill="#0a0a6e"/>
<text x="1348.6" y="68.0" font-family="Liberation Sans, sans-serif" font-size="14" fill="#0a0a6e" textLength="50.8" lengthAdjust="spacingAndGlyphs">17,0000</text>
<text x="1348.6" y="146.1" font-family="Liberation Sans, sans-serif" font-size="14" fill="#0a0a6e" textLength="50.8" lengthAdjust="spacingAndGlyphs">16,5000</text>
<text x="1348.6" y="226.6" font-family="Liberation Sans, sans-serif" font-size="14" fill="#0a0a6e" textLength="50.8" lengthAdjust="spacingAndGlyphs">16,0000</text>
<text x="1348.6" y="309.7" font-family="Liberation Sans, sans-serif" font-size="14" fill="#0a0a6e" textLength="50.8" lengthAdjust="spacingAndGlyphs">15,5000</text>
<text x="1348.6" y="395.5" font-family="Liberation Sans, sans-serif" font-size="14" fill="#0a0a6e" textLength="50.8" lengthAdjust="spacingAndGlyphs">15,0000</text>
<text x="1348.6" y="484.2" font-family="Liberation Sans, sans-serif" font-size="14" fill="#0a0a6e" textLength="50.8" lengthAdjust="spacingAndGlyphs">14,5000</text>
<text x="1348.6" y="576.0" font-family="Liberation Sans, sans-serif" font-size="14" fill="#0a0a6e" textLength="50.8" lengthAdjust="spacingAndGlyphs">14,0000</text>
<text x="1338.3" y="16.0" font-family="Liberation Sans, sans-serif" font-size="14" fill="#0a0a6e" textLength="24.7" lengthAdjust="spacingAndGlyphs">ZAR</text>
<text x="1406" y="10.5" font-family="Liberation Sans, sans-serif" font-size="10" font-weight="bold" fill="#1a1a80" textLength="8" lengthAdjust="spacingAndGlyphs">In</text>
<rect x="1418" y="2" width="1" height="39" fill="#7a8088"/>
<rect x="1418" y="41" width="1" height="800" fill="#f0f0f0"/>
<rect x="1338" y="754.2" width="6" height="1.8" fill="#0a0a6e"/>
<rect x="1338" y="740.0" width="4" height="1.8" fill="#0a0a6e"/>
<rect x="1338" y="725.8" width="4" height="1.8" fill="#0a0a6e"/>
<rect x="1338" y="711.6" width="4" height="1.8" fill="#0a0a6e"/>
<rect x="1338" y="697.4" width="4" height="1.8" fill="#0a0a6e"/>
<rect x="1338" y="683.2" width="6" height="1.8" fill="#0a0a6e"/>
<rect x="1338" y="668.9" width="4" height="1.8" fill="#0a0a6e"/>
<rect x="1338" y="654.7" width="4" height="1.8" fill="#0a0a6e"/>
<rect x="1338" y="640.5" width="4" height="1.8" fill="#0a0a6e"/>
<rect x="1338" y="626.3" width="4" height="1.8" fill="#0a0a6e"/>
<text x="1338.5" y="616.2" font-family="Liberation Sans, sans-serif" font-size="14" fill="#0a0a6e">PCR</text>
<text x="1348.5" y="688.8" font-family="Liberation Sans, sans-serif" font-size="14" fill="#0a0a6e">50,0000</text>
<text x="1348.5" y="759.8" font-family="Liberation Sans, sans-serif" font-size="14" fill="#0a0a6e">0,0000</text>
<defs><linearGradient id="tg1" x1="0" y1="0" x2="0" y2="1"><stop offset="0" stop-color="#ffffff"/><stop offset="0.5" stop-color="#ececec"/><stop offset="1" stop-color="#c4c4c4"/></linearGradient></defs>
<path d="M1338.5 320.5 L1347.5 311.0 L1417.5 311.0 L1417.5 330.0 L1347.5 330.0 Z" fill="url(#tg1)" stroke="#0a0a78" stroke-width="1.2"/>
<text x="1350.0" y="325.3" font-family="Liberation Sans, sans-serif" font-size="14" fill="#000000" textLength="50.3" lengthAdjust="spacingAndGlyphs">15,4122</text>
<defs><linearGradient id="tg2" x1="0" y1="0" x2="0" y2="1"><stop offset="0" stop-color="#ffffff"/><stop offset="0.5" stop-color="#ececec"/><stop offset="1" stop-color="#c4c4c4"/></linearGradient></defs>
<path d="M1338.5 642.0 L1347.5 632.5 L1417.5 632.5 L1417.5 651.5 L1347.5 651.5 Z" fill="url(#tg2)" stroke="#8c8c8c" stroke-width="1.2"/>
<text x="1350.0" y="646.8" font-family="Liberation Sans, sans-serif" font-size="14" fill="#000000" textLength="50.3" lengthAdjust="spacingAndGlyphs">80,0000</text>
<defs><linearGradient id="tg3" x1="0" y1="0" x2="0" y2="1"><stop offset="0" stop-color="#ffffff"/><stop offset="0.5" stop-color="#ececec"/><stop offset="1" stop-color="#c4c4c4"/></linearGradient></defs>
<path d="M1338.5 725.8 L1347.5 716.3 L1417.5 716.3 L1417.5 735.3 L1347.5 735.3 Z" fill="url(#tg3)" stroke="#8c8c8c" stroke-width="1.2"/>
<text x="1350.0" y="730.6" font-family="Liberation Sans, sans-serif" font-size="14" fill="#000000" textLength="50.3" lengthAdjust="spacingAndGlyphs"></text>
<defs><linearGradient id="tg4" x1="0" y1="0" x2="0" y2="1"><stop offset="0" stop-color="#ffffff"/><stop offset="0.5" stop-color="#ececec"/><stop offset="1" stop-color="#c4c4c4"/></linearGradient></defs>
<path d="M1338.5 730.2 L1347.5 720.7 L1417.5 720.7 L1417.5 739.7 L1347.5 739.7 Z" fill="url(#tg4)" stroke="#108c8c" stroke-width="1.2"/>
<text x="1350.0" y="735.0" font-family="Liberation Sans, sans-serif" font-size="14" fill="#000000" textLength="50.3" lengthAdjust="spacingAndGlyphs">17,6415</text>
<rect x="106" y="769" width="1.2" height="6" fill="#0a0a6e"/>
<text x="106.5" y="787.2" font-family="Liberation Sans, sans-serif" font-size="13" fill="#0a0a6e">Sep</text>
<rect x="204" y="769" width="1.2" height="6" fill="#0a0a6e"/>
<text x="204.5" y="787.2" font-family="Liberation Sans, sans-serif" font-size="13" fill="#0a0a6e">Okt</text>
<rect x="307" y="769" width="1.2" height="6" fill="#0a0a6e"/>
<text x="307.5" y="787.2" font-family="Liberation Sans, sans-serif" font-size="13" fill="#0a0a6e">Nov</text>
<rect x="410" y="769" width="1.2" height="6" fill="#0a0a6e"/>
<text x="410.5" y="787.2" font-family="Liberation Sans, sans-serif" font-size="13" fill="#0a0a6e">Dez</text>
<rect x="504" y="769" width="1.2" height="6" fill="#0a0a6e"/>
<text x="504.5" y="787.2" font-family="Liberation Sans, sans-serif" font-size="13" fill="#0a0a6e">2018</text>
<rect x="607" y="769" width="1.2" height="6" fill="#0a0a6e"/>
<text x="607.5" y="787.2" font-family="Liberation Sans, sans-serif" font-size="13" fill="#0a0a6e">Feb</text>
<rect x="701" y="769" width="1.2" height="6" fill="#0a0a6e"/>
<text x="701.5" y="787.2" font-family="Liberation Sans, sans-serif" font-size="13" fill="#0a0a6e">Mrz</text>
<rect x="805" y="769" width="1.2" height="6" fill="#0a0a6e"/>
<text x="805.5" y="787.2" font-family="Liberation Sans, sans-serif" font-size="13" fill="#0a0a6e">Apr</text>
<rect x="898" y="769" width="1.2" height="6" fill="#0a0a6e"/>
<text x="898.5" y="787.2" font-family="Liberation Sans, sans-serif" font-size="13" fill="#0a0a6e">Mai</text>
<rect x="1006" y="769" width="1.2" height="6" fill="#0a0a6e"/>
<text x="1006.5" y="787.2" font-family="Liberation Sans, sans-serif" font-size="13" fill="#0a0a6e">Jun</text>
<rect x="1105" y="769" width="1.2" height="6" fill="#0a0a6e"/>
<text x="1105.5" y="787.2" font-family="Liberation Sans, sans-serif" font-size="13" fill="#0a0a6e">Jul</text>
<rect x="1207" y="769" width="1.2" height="6" fill="#0a0a6e"/>
<text x="1207.5" y="787.2" font-family="Liberation Sans, sans-serif" font-size="13" fill="#0a0a6e">Aug</text>
<polygon points="4.0,823.7 3.7,823.7 5.7,822.9 7.7,823.8 9.7,823.2 11.7,824.9 13.7,825.2 15.7,824.5 17.7,824.8 19.7,823.0 21.7,823.1 23.7,821.5 25.7,820.2 27.7,817.8 29.7,812.8 31.7,808.6 33.7,808.3 35.7,817.2 37.7,817.6 39.7,816.2 41.7,815.3 43.7,816.0 45.7,815.0 47.7,818.8 49.7,815.6 51.7,812.2 53.7,810.6 55.7,812.2 57.7,814.5 59.7,814.0 61.7,814.7 63.7,814.7 65.7,814.0 67.7,814.9 69.7,814.7 71.7,815.7 73.7,816.9 75.7,817.3 77.7,815.8 79.7,814.6 81.7,814.5 83.7,814.9 85.7,815.2 87.7,817.0 89.7,817.7 91.7,817.9 93.7,819.8 95.7,820.9 97.7,822.9 99.7,823.8 101.7,823.7 103.7,825.4 105.7,823.7 107.7,824.5 109.7,825.3 111.7,824.1 113.7,825.0 115.7,824.1 117.7,825.7 119.7,826.1 121.7,825.9 123.7,826.9 125.7,825.9 127.7,826.9 129.7,826.5 131.7,826.2 133.7,825.6 135.7,826.1 137.7,826.0 139.7,824.7 141.7,825.2 143.7,824.4 145.7,826.3 147.7,826.6 149.7,827.9 151.7,828.0 153.7,827.0 155.7,827.1 157.7,827.6 159.7,826.1 161.7,826.4 163.7,824.8 165.7,823.8 167.7,822.8 169.7,823.4 171.7,823.8 173.7,825.3 175.7,825.7 177.7,826.9 179.7,825.3 181.7,826.2 183.7,826.5 185.7,827.3 187.7,827.3 189.7,827.9 191.7,827.1 193.7,827.9 195.7,828.3 197.7,829.9 199.7,830.2 201.7,828.6 203.7,828.8 205.7,829.1 207.7,829.3 209.7,830.0 211.7,830.9 213.7,830.8 215.7,830.9 217.7,832.4 219.7,833.0 221.7,834.0 223.7,834.8 225.7,834.0 227.7,833.4 229.7,833.6 231.7,834.2 233.7,833.3 235.7,835.6 237.7,835.9 239.7,836.9 241.7,837.6 243.7,837.2 245.7,837.7 247.7,837.0 249.7,837.7 251.7,835.9 253.7,835.5 255.7,835.3 257.7,834.8 259.7,834.8 261.7,833.8 263.7,833.4 265.7,834.2 267.7,834.6 269.7,835.7 271.7,835.4 273.7,837.6 275.7,837.3 277.7,836.6 279.7,837.1 281.7,837.6 283.7,837.8 285.7,836.3 287.7,836.9 289.7,836.7 291.7,835.3 293.7,835.2 295.7,834.1 297.7,833.9 299.7,834.2 301.7,834.1 303.7,835.9 305.7,834.9 307.7,835.1 309.7,837.7 311.7,837.3 313.7,837.1 315.7,838.6 317.7,838.1 319.7,839.9 321.7,841.3 323.7,841.2 325.7,840.9 327.7,837.5 329.7,835.2 331.7,833.7 333.7,835.0 335.7,834.4 337.7,834.8 339.7,833.8 341.7,833.9 343.7,835.6 345.7,836.4 347.7,836.6 349.7,836.9 351.7,836.6 353.7,836.1 355.7,834.5 357.7,834.8 359.7,834.0 361.7,833.2 363.7,833.2 365.7,833.6 367.7,833.5 369.7,834.4 371.7,834.9 373.7,833.7 375.7,834.9 377.7,835.1 379.7,835.2 381.7,834.0 383.7,833.8 385.7,834.0 387.7,834.0 389.7,834.2 391.7,835.0 393.7,835.5 395.7,835.3 397.7,834.4 399.7,834.7 401.7,835.0 403.7,831.4 405.7,831.0 407.7,831.5 409.7,831.3 411.7,831.3 413.7,831.7 415.7,832.0 417.7,831.3 419.7,826.3 421.7,826.4 423.7,826.7 425.7,825.5 427.7,825.5 429.7,826.7 431.7,826.1 433.7,824.7 435.7,824.4 437.7,824.3 439.7,825.7 441.7,825.3 443.7,823.7 445.7,826.2 447.7,827.6 449.7,827.9 451.7,828.0 453.7,828.8 455.7,828.3 457.7,828.4 459.7,830.9 461.7,830.6 463.7,830.8 465.7,832.0 467.7,831.2 469.7,832.5 471.7,832.7 473.7,831.6 475.7,831.9 477.7,832.3 479.7,832.4 481.7,833.1 483.7,831.9 485.7,831.9 487.7,830.9 489.7,832.2 491.7,830.6 493.7,830.5 495.7,830.6 497.7,831.1 499.7,829.9 501.7,830.8 503.7,829.7 505.7,829.6 507.7,829.5 509.7,828.4 511.7,829.4 513.7,828.9 515.7,828.6 517.7,830.4 519.7,829.1 521.7,829.8 523.7,830.6 525.7,830.7 527.7,830.6 529.7,831.5 531.7,832.0 533.7,832.9 535.7,831.9 537.7,833.1 539.7,831.8 541.7,831.3 543.7,831.8 545.7,830.6 547.7,830.1 549.7,829.9 551.7,829.3 553.7,827.3 555.7,826.6 557.7,825.4 559.7,824.5 561.7,824.9 563.7,824.4 565.7,824.5 567.7,824.4 569.7,825.4 571.7,824.9 573.7,825.3 575.7,825.5 577.7,824.1 579.7,824.8 581.7,825.7 583.7,825.6 585.7,824.1 587.7,823.8 589.7,823.8 591.7,822.3 593.7,822.0 595.7,821.0 597.7,821.6 599.7,821.2 601.7,820.9 603.7,819.7 605.7,821.3 607.7,821.6 609.7,820.9 611.7,822.8 613.7,822.9 615.7,821.2 617.7,822.7 619.7,821.4 621.7,821.5 623.7,822.6 625.7,822.2 627.7,820.8 629.7,821.4 631.7,821.5 633.7,821.2 635.7,820.8 637.7,820.8 639.7,821.4 641.7,819.1 643.7,818.8 645.7,817.0 647.7,814.6 649.7,813.8 651.7,813.9 653.7,814.1 655.7,813.6 657.7,816.2 659.7,816.2 661.7,816.8 663.7,814.7 665.7,814.8 667.7,814.1 669.7,815.0 671.7,813.0 673.7,811.9 675.7,811.7 677.7,811.9 679.7,812.4 681.7,812.0 683.7,812.7 685.7,815.3 687.7,815.2 689.7,815.1 691.7,813.3 693.7,812.9 695.7,813.8 697.7,812.9 699.7,811.7 701.7,813.3 703.7,812.2 705.7,812.3 707.7,810.3 709.7,811.7 711.7,809.6 713.7,811.0 715.7,809.8 717.7,809.1 719.7,809.1 721.7,809.4 723.7,807.4 725.7,806.6 727.7,807.0 729.7,805.8 731.7,805.0 733.7,804.6 735.7,804.3 737.7,804.8 739.7,805.2 741.7,805.4 743.7,806.5 745.7,805.6 747.7,806.2 749.7,805.7 751.7,806.2 753.7,805.6 755.7,806.6 757.7,806.5 759.7,808.5 761.7,808.6 763.7,807.9 765.7,808.7 767.7,809.8 769.7,808.2 771.7,809.9 773.7,809.2 775.7,809.4 777.7,810.3 779.7,809.3 781.7,809.4 783.7,809.6 785.7,810.0 787.7,808.4 789.7,809.3 791.7,808.9 793.7,808.9 795.7,808.5 797.7,808.5 799.7,808.0 801.7,808.3 803.7,808.2 805.7,809.8 807.7,808.8 809.7,808.6 811.7,808.5 813.7,810.3 815.7,810.4 817.7,810.0 819.7,809.3 821.7,809.3 823.7,809.6 825.7,810.0 827.7,809.5 829.7,810.3 831.7,810.0 833.7,811.7 835.7,811.8 837.7,811.0 839.7,810.1 841.7,811.4 843.7,809.7 845.7,809.5 847.7,808.5 849.7,809.1 851.7,809.0 853.7,809.4 855.7,809.5 857.7,811.0 859.7,810.8 861.7,812.2 863.7,812.6 865.7,814.1 867.7,814.1 869.7,814.0 871.7,814.7 873.7,814.5 875.7,815.3 877.7,815.2 879.7,815.6 881.7,815.4 883.7,815.7 885.7,816.3 887.7,815.4 889.7,815.5 891.7,817.1 893.7,815.5 895.7,816.9 897.7,816.7 899.7,814.7 901.7,815.8 903.7,815.3 905.7,814.0 907.7,813.6 909.7,813.1 911.7,811.0 913.7,811.2 915.7,810.5 917.7,811.0 919.7,811.2 921.7,811.5 923.7,811.3 925.7,812.2 927.7,812.0 929.7,812.3 931.7,811.5 933.7,810.6 935.7,810.3 937.7,810.3 939.7,809.2 941.7,810.2 943.7,807.5 945.7,805.7 947.7,804.9 949.7,804.8 951.7,804.2 953.7,802.9 955.7,804.5 957.7,804.1 959.7,803.8 961.7,804.6 963.7,805.5 965.7,804.9 967.7,806.4 969.7,805.2 971.7,804.6 973.7,804.9 975.7,805.8 977.7,805.3 979.7,807.2 981.7,804.7 983.7,800.6 985.7,797.3 987.7,796.8 989.7,796.8 991.7,796.5 993.7,795.7 995.7,795.3 997.7,793.6 999.7,793.9 1001.7,794.4 1003.7,795.9 1005.7,795.3 1007.7,796.2 1009.7,795.1 1011.7,795.4 1013.7,795.9 1015.7,796.9 1017.7,797.1 1019.7,797.2 1021.7,796.7 1023.7,797.7 1025.7,798.1 1027.7,798.6 1029.7,798.3 1031.7,800.5 1033.7,798.5 1035.7,799.3 1037.7,798.3 1039.7,795.4 1041.7,795.5 1043.7,796.3 1045.7,796.9 1047.7,796.1 1049.7,796.0 1051.7,796.1 1053.7,798.5 1055.7,797.7 1057.7,799.4 1059.7,799.3 1061.7,801.0 1063.7,802.8 1065.7,802.0 1067.7,804.4 1069.7,804.6 1071.7,806.4 1073.7,806.9 1075.7,805.4 1077.7,805.9 1079.7,804.0 1081.7,801.9 1083.7,800.9 1085.7,802.1 1087.7,802.6 1089.7,802.7 1091.7,802.9 1093.7,803.8 1095.7,804.0 1097.7,805.3 1099.7,803.6 1101.7,805.4 1103.7,805.8 1105.7,804.3 1107.7,806.5 1109.7,806.6 1111.7,807.5 1113.7,806.7 1115.7,807.4 1117.7,807.9 1119.7,809.6 1121.7,808.8 1123.7,808.4 1125.7,808.7 1127.7,808.5 1129.7,808.1 1131.7,808.4 1133.7,810.3 1135.7,809.4 1137.7,811.1 1139.7,809.8 1141.7,810.2 1143.7,811.0 1145.7,810.5 1147.7,811.2 1149.7,812.8 1151.7,812.9 1153.7,813.0 1155.7,812.9 1157.7,811.8 1159.7,810.2 1161.7,808.7 1163.7,809.4 1165.7,808.3 1167.7,810.1 1169.7,809.4 1171.7,809.9 1173.7,809.4 1175.7,808.4 1177.7,807.7 1179.7,809.4 1181.7,807.7 1183.7,808.7 1185.7,808.6 1187.7,808.7 1189.7,809.9 1191.7,810.6 1193.7,808.6 1195.7,808.5 1197.7,806.7 1199.7,806.3 1201.7,804.9 1203.7,803.5 1205.7,802.7 1207.7,802.1 1209.7,803.8 1211.7,803.1 1213.7,802.6 1215.7,804.3 1217.7,804.5 1219.7,803.1 1221.7,802.1 1223.7,801.9 1225.7,801.4 1227.7,801.7 1229.7,800.9 1231.7,800.8 1233.7,800.4 1235.7,800.7 1237.7,801.0 1239.7,800.3 1241.7,799.2 1243.7,799.7 1245.7,800.6 1247.7,801.0 1249.7,801.6 1251.7,801.6 1253.7,802.8 1255.7,804.9 1257.7,803.6 1259.7,804.9 1261.7,805.7 1263.7,806.7 1265.7,805.8 1267.7,806.5 1269.7,806.9 1271.7,807.7 1273.7,808.3 1275.7,809.9 1277.7,810.1 1279.7,810.4 1281.7,808.2 1283.7,807.9 1285.7,809.1 1287.7,809.1 1289.7,807.9 1291.7,807.9 1293.7,806.4 1295.7,807.1 1297.7,808.1 1299.7,807.7 1301.7,807.6 1303.7,807.8 1305.7,806.5 1307.7,806.6 1309.7,807.0 1311.7,808.2 1313.7,808.7 1315.7,807.9 1317.7,806.1 1319.7,804.6 1321.7,804.0 1323.7,802.9 1325.7,802.8 1327.7,801.4 1329.7,803.3 1331.7,802.6 1333.7,804.7 1335.7,804.7 1337.0,804.7 1337,841 4,841" fill="#8e8eaa"/>
<rect x="1205" y="791" width="132.5" height="50" fill="#5a82e6" fill-opacity="0.3"/>
<polyline points="4.0,823.7 3.7,823.7 5.7,822.9 7.7,823.8 9.7,823.2 11.7,824.9 13.7,825.2 15.7,824.5 17.7,824.8 19.7,823.0 21.7,823.1 23.7,821.5 25.7,820.2 27.7,817.8 29.7,812.8 31.7,808.6 33.7,808.3 35.7,817.2 37.7,817.6 39.7,816.2 41.7,815.3 43.7,816.0 45.7,815.0 47.7,818.8 49.7,815.6 51.7,812.2 53.7,810.6 55.7,812.2 57.7,814.5 59.7,814.0 61.7,814.7 63.7,814.7 65.7,814.0 67.7,814.9 69.7,814.7 71.7,815.7 73.7,816.9 75.7,817.3 77.7,815.8 79.7,814.6 81.7,814.5 83.7,814.9 85.7,815.2 87.7,817.0 89.7,817.7 91.7,817.9 93.7,819.8 95.7,820.9 97.7,822.9 99.7,823.8 101.7,823.7 103.7,825.4 105.7,823.7 107.7,824.5 109.7,825.3 111.7,824.1 113.7,825.0 115.7,824.1 117.7,825.7 119.7,826.1 121.7,825.9 123.7,826.9 125.7,825.9 127.7,826.9 129.7,826.5 131.7,826.2 133.7,825.6 135.7,826.1 137.7,826.0 139.7,824.7 141.7,825.2 143.7,824.4 145.7,826.3 147.7,826.6 149.7,827.9 151.7,828.0 153.7,827.0 155.7,827.1 157.7,827.6 159.7,826.1 161.7,826.4 163.7,824.8 165.7,823.8 167.7,822.8 169.7,823.4 171.7,823.8 173.7,825.3 175.7,825.7 177.7,826.9 179.7,825.3 181.7,826.2 183.7,826.5 185.7,827.3 187.7,827.3 189.7,827.9 191.7,827.1 193.7,827.9 195.7,828.3 197.7,829.9 199.7,830.2 201.7,828.6 203.7,828.8 205.7,829.1 207.7,829.3 209.7,830.0 211.7,830.9 213.7,830.8 215.7,830.9 217.7,832.4 219.7,833.0 221.7,834.0 223.7,834.8 225.7,834.0 227.7,833.4 229.7,833.6 231.7,834.2 233.7,833.3 235.7,835.6 237.7,835.9 239.7,836.9 241.7,837.6 243.7,837.2 245.7,837.7 247.7,837.0 249.7,837.7 251.7,835.9 253.7,835.5 255.7,835.3 257.7,834.8 259.7,834.8 261.7,833.8 263.7,833.4 265.7,834.2 267.7,834.6 269.7,835.7 271.7,835.4 273.7,837.6 275.7,837.3 277.7,836.6 279.7,837.1 281.7,837.6 283.7,837.8 285.7,836.3 287.7,836.9 289.7,836.7 291.7,835.3 293.7,835.2 295.7,834.1 297.7,833.9 299.7,834.2 301.7,834.1 303.7,835.9 305.7,834.9 307.7,835.1 309.7,837.7 311.7,837.3 313.7,837.1 315.7,838.6 317.7,838.1 319.7,839.9 321.7,841.3 323.7,841.2 325.7,840.9 327.7,837.5 329.7,835.2 331.7,833.7 333.7,835.0 335.7,834.4 337.7,834.8 339.7,833.8 341.7,833.9 343.7,835.6 345.7,836.4 347.7,836.6 349.7,836.9 351.7,836.6 353.7,836.1 355.7,834.5 357.7,834.8 359.7,834.0 361.7,833.2 363.7,833.2 365.7,833.6 367.7,833.5 369.7,834.4 371.7,834.9 373.7,833.7 375.7,834.9 377.7,835.1 379.7,835.2 381.7,834.0 383.7,833.8 385.7,834.0 387.7,834.0 389.7,834.2 391.7,835.0 393.7,835.5 395.7,835.3 397.7,834.4 399.7,834.7 401.7,835.0 403.7,831.4 405.7,831.0 407.7,831.5 409.7,831.3 411.7,831.3 413.7,831.7 415.7,832.0 417.7,831.3 419.7,826.3 421.7,826.4 423.7,826.7 425.7,825.5 427.7,825.5 429.7,826.7 431.7,826.1 433.7,824.7 435.7,824.4 437.7,824.3 439.7,825.7 441.7,825.3 443.7,823.7 445.7,826.2 447.7,827.6 449.7,827.9 451.7,828.0 453.7,828.8 455.7,828.3 457.7,828.4 459.7,830.9 461.7,830.6 463.7,830.8 465.7,832.0 467.7,831.2 469.7,832.5 471.7,832.7 473.7,831.6 475.7,831.9 477.7,832.3 479.7,832.4 481.7,833.1 483.7,831.9 485.7,831.9 487.7,830.9 489.7,832.2 491.7,830.6 493.7,830.5 495.7,830.6 497.7,831.1 499.7,829.9 501.7,830.8 503.7,829.7 505.7,829.6 507.7,829.5 509.7,828.4 511.7,829.4 513.7,828.9 515.7,828.6 517.7,830.4 519.7,829.1 521.7,829.8 523.7,830.6 525.7,830.7 527.7,830.6 529.7,831.5 531.7,832.0 533.7,832.9 535.7,831.9 537.7,833.1 539.7,831.8 541.7,831.3 543.7,831.8 545.7,830.6 547.7,830.1 549.7,829.9 551.7,829.3 553.7,827.3 555.7,826.6 557.7,825.4 559.7,824.5 561.7,824.9 563.7,824.4 565.7,824.5 567.7,824.4 569.7,825.4 571.7,824.9 573.7,825.3 575.7,825.5 577.7,824.1 579.7,824.8 581.7,825.7 583.7,825.6 585.7,824.1 587.7,823.8 589.7,823.8 591.7,822.3 593.7,822.0 595.7,821.0 597.7,821.6 599.7,821.2 601.7,820.9 603.7,819.7 605.7,821.3 607.7,821.6 609.7,820.9 611.7,822.8 613.7,822.9 615.7,821.2 617.7,822.7 619.7,821.4 621.7,821.5 623.7,822.6 625.7,822.2 627.7,820.8 629.7,821.4 631.7,821.5 633.7,821.2 635.7,820.8 637.7,820.8 639.7,821.4 641.7,819.1 643.7,818.8 645.7,817.0 647.7,814.6 649.7,813.8 651.7,813.9 653.7,814.1 655.7,813.6 657.7,816.2 659.7,816.2 661.7,816.8 663.7,814.7 665.7,814.8 667.7,814.1 669.7,815.0 671.7,813.0 673.7,811.9 675.7,811.7 677.7,811.9 679.7,812.4 681.7,812.0 683.7,812.7 685.7,815.3 687.7,815.2 689.7,815.1 691.7,813.3 693.7,812.9 695.7,813.8 697.7,812.9 699.7,811.7 701.7,813.3 703.7,812.2 705.7,812.3 707.7,810.3 709.7,811.7 711.7,809.6 713.7,811.0 715.7,809.8 717.7,809.1 719.7,809.1 721.7,809.4 723.7,807.4 725.7,806.6 727.7,807.0 729.7,805.8 731.7,805.0 733.7,804.6 735.7,804.3 737.7,804.8 739.7,805.2 741.7,805.4 743.7,806.5 745.7,805.6 747.7,806.2 749.7,805.7 751.7,806.2 753.7,805.6 755.7,806.6 757.7,806.5 759.7,808.5 761.7,808.6 763.7,807.9 765.7,808.7 767.7,809.8 769.7,808.2 771.7,809.9 773.7,809.2 775.7,809.4 777.7,810.3 779.7,809.3 781.7,809.4 783.7,809.6 785.7,810.0 787.7,808.4 789.7,809.3 791.7,808.9 793.7,808.9 795.7,808.5 797.7,808.5 799.7,808.0 801.7,808.3 803.7,808.2 805.7,809.8 807.7,808.8 809.7,808.6 811.7,808.5 813.7,810.3 815.7,810.4 817.7,810.0 819.7,809.3 821.7,809.3 823.7,809.6 825.7,810.0 827.7,809.5 829.7,810.3 831.7,810.0 833.7,811.7 835.7,811.8 837.7,811.0 839.7,810.1 841.7,811.4 843.7,809.7 845.7,809.5 847.7,808.5 849.7,809.1 851.7,809.0 853.7,809.4 855.7,809.5 857.7,811.0 859.7,810.8 861.7,812.2 863.7,812.6 865.7,814.1 867.7,814.1 869.7,814.0 871.7,814.7 873.7,814.5 875.7,815.3 877.7,815.2 879.7,815.6 881.7,815.4 883.7,815.7 885.7,816.3 887.7,815.4 889.7,815.5 891.7,817.1 893.7,815.5 895.7,816.9 897.7,816.7 899.7,814.7 901.7,815.8 903.7,815.3 905.7,814.0 907.7,813.6 909.7,813.1 911.7,811.0 913.7,811.2 915.7,810.5 917.7,811.0 919.7,811.2 921.7,811.5 923.7,811.3 925.7,812.2 927.7,812.0 929.7,812.3 931.7,811.5 933.7,810.6 935.7,810.3 937.7,810.3 939.7,809.2 941.7,810.2 943.7,807.5 945.7,805.7 947.7,804.9 949.7,804.8 951.7,804.2 953.7,802.9 955.7,804.5 957.7,804.1 959.7,803.8 961.7,804.6 963.7,805.5 965.7,804.9 967.7,806.4 969.7,805.2 971.7,804.6 973.7,804.9 975.7,805.8 977.7,805.3 979.7,807.2 981.7,804.7 983.7,800.6 985.7,797.3 987.7,796.8 989.7,796.8 991.7,796.5 993.7,795.7 995.7,795.3 997.7,793.6 999.7,793.9 1001.7,794.4 1003.7,795.9 1005.7,795.3 1007.7,796.2 1009.7,795.1 1011.7,795.4 1013.7,795.9 1015.7,796.9 1017.7,797.1 1019.7,797.2 1021.7,796.7 1023.7,797.7 1025.7,798.1 1027.7,798.6 1029.7,798.3 1031.7,800.5 1033.7,798.5 1035.7,799.3 1037.7,798.3 1039.7,795.4 1041.7,795.5 1043.7,796.3 1045.7,796.9 1047.7,796.1 1049.7,796.0 1051.7,796.1 1053.7,798.5 1055.7,797.7 1057.7,799.4 1059.7,799.3 1061.7,801.0 1063.7,802.8 1065.7,802.0 1067.7,804.4 1069.7,804.6 1071.7,806.4 1073.7,806.9 1075.7,805.4 1077.7,805.9 1079.7,804.0 1081.7,801.9 1083.7,800.9 1085.7,802.1 1087.7,802.6 1089.7,802.7 1091.7,802.9 1093.7,803.8 1095.7,804.0 1097.7,805.3 1099.7,803.6 1101.7,805.4 1103.7,805.8 1105.7,804.3 1107.7,806.5 1109.7,806.6 1111.7,807.5 1113.7,806.7 1115.7,807.4 1117.7,807.9 1119.7,809.6 1121.7,808.8 1123.7,808.4 1125.7,808.7 1127.7,808.5 1129.7,808.1 1131.7,808.4 1133.7,810.3 1135.7,809.4 1137.7,811.1 1139.7,809.8 1141.7,810.2 1143.7,811.0 1145.7,810.5 1147.7,811.2 1149.7,812.8 1151.7,812.9 1153.7,813.0 1155.7,812.9 1157.7,811.8 1159.7,810.2 1161.7,808.7 1163.7,809.4 1165.7,808.3 1167.7,810.1 1169.7,809.4 1171.7,809.9 1173.7,809.4 1175.7,808.4 1177.7,807.7 1179.7,809.4 1181.7,807.7 1183.7,808.7 1185.7,808.6 1187.7,808.7 1189.7,809.9 1191.7,810.6 1193.7,808.6 1195.7,808.5 1197.7,806.7 1199.7,806.3 1201.7,804.9 1203.7,803.5 1205.7,802.7 1207.7,802.1 1209.7,803.8 1211.7,803.1 1213.7,802.6 1215.7,804.3 1217.7,804.5 1219.7,803.1 1221.7,802.1 1223.7,801.9 1225.7,801.4 1227.7,801.7 1229.7,800.9 1231.7,800.8 1233.7,800.4 1235.7,800.7 1237.7,801.0 1239.7,800.3 1241.7,799.2 1243.7,799.7 1245.7,800.6 1247.7,801.0 1249.7,801.6 1251.7,801.6 1253.7,802.8 1255.7,804.9 1257.7,803.6 1259.7,804.9 1261.7,805.7 1263.7,806.7 1265.7,805.8 1267.7,806.5 1269.7,806.9 1271.7,807.7 1273.7,808.3 1275.7,809.9 1277.7,810.1 1279.7,810.4 1281.7,808.2 1283.7,807.9 1285.7,809.1 1287.7,809.1 1289.7,807.9 1291.7,807.9 1293.7,806.4 1295.7,807.1 1297.7,808.1 1299.7,807.7 1301.7,807.6 1303.7,807.8 1305.7,806.5 1307.7,806.6 1309.7,807.0 1311.7,808.2 1313.7,808.7 1315.7,807.9 1317.7,806.1 1319.7,804.6 1321.7,804.0 1323.7,802.9 1325.7,802.8 1327.7,801.4 1329.7,803.3 1331.7,802.6 1333.7,804.7 1335.7,804.7 1337.0,804.7" fill="none" stroke="#20207a" stroke-width="1.3"/>
<rect x="1201" y="804" width="6" height="26" fill="#6a8ee0"/>
<rect x="0" y="841" width="1419" height="1.3" fill="#d4d4d4"/>
</svg></body></html>
